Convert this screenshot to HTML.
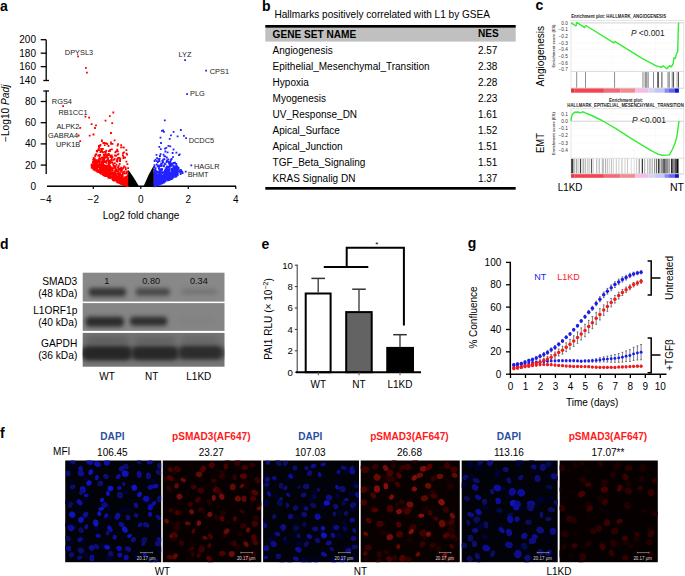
<!DOCTYPE html>
<html><head><meta charset="utf-8"><style>
html,body{margin:0;padding:0;background:#fff;width:685px;height:576px;overflow:hidden}
svg{display:block}
text{font-family:"Liberation Sans",sans-serif}
</style></head><body>
<svg width="685" height="576" viewBox="0 0 685 576">
<text x="0.00" y="10.90" font-size="14" font-weight="bold">a</text>
<text x="262.00" y="10.50" font-size="14" font-weight="bold">b</text>
<text x="535.50" y="10.40" font-size="14" font-weight="bold">c</text>
<text x="0.00" y="249.00" font-size="14" font-weight="bold">d</text>
<text x="261.50" y="248.70" font-size="14" font-weight="bold">e</text>
<text x="467.80" y="247.60" font-size="14" font-weight="bold">g</text>
<text x="0.00" y="437.50" font-size="14" font-weight="bold">f</text>
<line x1="46.20" y1="39.70" x2="46.20" y2="80.50" stroke="#000" stroke-width="1.3"/>
<line x1="46.20" y1="91.00" x2="46.20" y2="174.00" stroke="#000" stroke-width="1.3"/>
<line x1="40.70" y1="39.70" x2="46.20" y2="39.70" stroke="#000" stroke-width="1.3"/>
<line x1="40.70" y1="53.17" x2="46.20" y2="53.17" stroke="#000" stroke-width="1.3"/>
<line x1="40.70" y1="66.63" x2="46.20" y2="66.63" stroke="#000" stroke-width="1.3"/>
<line x1="43.30" y1="80.50" x2="49.00" y2="80.50" stroke="#000" stroke-width="1.3"/>
<line x1="43.30" y1="91.00" x2="49.00" y2="91.00" stroke="#000" stroke-width="1.3"/>
<line x1="40.70" y1="101.50" x2="46.20" y2="101.50" stroke="#000" stroke-width="1.3"/>
<line x1="40.70" y1="122.70" x2="46.20" y2="122.70" stroke="#000" stroke-width="1.3"/>
<line x1="40.70" y1="143.90" x2="46.20" y2="143.90" stroke="#000" stroke-width="1.3"/>
<line x1="40.70" y1="165.10" x2="46.20" y2="165.10" stroke="#000" stroke-width="1.3"/>
<text x="36.00" y="43.28" font-size="10" text-anchor="end">200</text>
<text x="36.00" y="56.75" font-size="10" text-anchor="end">180</text>
<text x="36.00" y="70.21" font-size="10" text-anchor="end">160</text>
<text x="36.00" y="83.68" font-size="10" text-anchor="end">140</text>
<text x="36.00" y="105.08" font-size="10" text-anchor="end">80</text>
<text x="36.00" y="126.28" font-size="10" text-anchor="end">60</text>
<text x="36.00" y="147.48" font-size="10" text-anchor="end">40</text>
<text x="36.00" y="168.68" font-size="10" text-anchor="end">20</text>
<text x="36.00" y="189.88" font-size="10" text-anchor="end">0</text>
<line x1="47.00" y1="186.30" x2="236.00" y2="186.30" stroke="#000" stroke-width="1.5"/>
<line x1="93.30" y1="186.30" x2="93.30" y2="189.00" stroke="#000" stroke-width="1.2"/>
<line x1="140.80" y1="186.30" x2="140.80" y2="189.00" stroke="#000" stroke-width="1.2"/>
<line x1="188.30" y1="186.30" x2="188.30" y2="189.00" stroke="#000" stroke-width="1.2"/>
<line x1="235.80" y1="186.30" x2="235.80" y2="189.00" stroke="#000" stroke-width="1.2"/>
<path d="M48.18 186.3V185.1M50.55 186.3V185.1M52.93 186.3V185.1M55.30 186.3V185.1M57.68 186.3V185.1M60.05 186.3V185.1M62.43 186.3V185.1M64.80 186.3V185.1M67.18 186.3V185.1M69.55 186.3V185.1M71.93 186.3V185.1M74.30 186.3V185.1M76.68 186.3V185.1M79.05 186.3V185.1M81.43 186.3V185.1M83.80 186.3V185.1M86.18 186.3V185.1M88.55 186.3V185.1M90.93 186.3V185.1M93.30 186.3V185.1M95.68 186.3V185.1M98.05 186.3V185.1M100.43 186.3V185.1M102.80 186.3V185.1M105.18 186.3V185.1M107.55 186.3V185.1M109.93 186.3V185.1M112.30 186.3V185.1M114.68 186.3V185.1M117.05 186.3V185.1M119.43 186.3V185.1M121.80 186.3V185.1M124.18 186.3V185.1M126.55 186.3V185.1M128.93 186.3V185.1M131.30 186.3V185.1M133.68 186.3V185.1M136.05 186.3V185.1M138.43 186.3V185.1M140.80 186.3V185.1M143.18 186.3V185.1M145.55 186.3V185.1M147.93 186.3V185.1M150.30 186.3V185.1M152.68 186.3V185.1M155.05 186.3V185.1M157.43 186.3V185.1M159.80 186.3V185.1M162.18 186.3V185.1M164.55 186.3V185.1M166.93 186.3V185.1M169.30 186.3V185.1M171.68 186.3V185.1M174.05 186.3V185.1M176.43 186.3V185.1M178.80 186.3V185.1M181.18 186.3V185.1M183.55 186.3V185.1M185.93 186.3V185.1M188.30 186.3V185.1M190.68 186.3V185.1M193.05 186.3V185.1M195.43 186.3V185.1M197.80 186.3V185.1M200.18 186.3V185.1M202.55 186.3V185.1M204.93 186.3V185.1M207.30 186.3V185.1M209.68 186.3V185.1M212.05 186.3V185.1M214.43 186.3V185.1M216.80 186.3V185.1M219.18 186.3V185.1M221.55 186.3V185.1M223.93 186.3V185.1M226.30 186.3V185.1M228.68 186.3V185.1M231.05 186.3V185.1M233.43 186.3V185.1" stroke="#555" stroke-width="0.45"/>
<text x="45.80" y="203.28" font-size="10" text-anchor="middle">−4</text>
<text x="93.30" y="203.28" font-size="10" text-anchor="middle">−2</text>
<text x="140.80" y="203.28" font-size="10" text-anchor="middle">0</text>
<text x="188.30" y="203.28" font-size="10" text-anchor="middle">2</text>
<text x="235.80" y="203.28" font-size="10" text-anchor="middle">4</text>
<text x="141.00" y="218.88" font-size="10" text-anchor="middle">Log2 fold change</text>
<text transform="translate(8.8,113.3) rotate(-90)" font-size="10" text-anchor="middle" textLength="57.5" lengthAdjust="spacingAndGlyphs">−Log10 <tspan font-style="italic">Padj</tspan></text>
<path d="M108.1 167.5h1.8v1.8h-1.8zM100.9 149.3h1.8v1.8h-1.8zM103.2 154.2h1.8v1.8h-1.8zM127.0 183.0h1.8v1.8h-1.8zM94.3 159.6h1.8v1.8h-1.8zM96.2 169.6h1.8v1.8h-1.8zM114.0 178.4h1.8v1.8h-1.8zM111.2 173.1h1.8v1.8h-1.8zM127.2 184.5h1.8v1.8h-1.8zM120.5 170.8h1.8v1.8h-1.8zM102.1 172.6h1.8v1.8h-1.8zM100.8 172.0h1.8v1.8h-1.8zM108.3 176.3h1.8v1.8h-1.8zM127.3 177.8h1.8v1.8h-1.8zM122.6 182.8h1.8v1.8h-1.8zM120.2 166.7h1.8v1.8h-1.8zM111.4 171.4h1.8v1.8h-1.8zM122.8 171.2h1.8v1.8h-1.8zM105.3 149.8h1.8v1.8h-1.8zM96.5 167.7h1.8v1.8h-1.8zM117.8 180.9h1.8v1.8h-1.8zM124.4 184.3h1.8v1.8h-1.8zM119.8 178.1h1.8v1.8h-1.8zM127.3 181.2h1.8v1.8h-1.8zM118.6 180.3h1.8v1.8h-1.8zM99.9 167.1h1.8v1.8h-1.8zM119.4 179.2h1.8v1.8h-1.8zM104.7 175.0h1.8v1.8h-1.8zM92.8 168.6h1.8v1.8h-1.8zM102.8 159.3h1.8v1.8h-1.8zM127.1 179.6h1.8v1.8h-1.8zM117.7 177.1h1.8v1.8h-1.8zM127.2 185.2h1.8v1.8h-1.8zM123.5 170.5h1.8v1.8h-1.8zM123.0 177.7h1.8v1.8h-1.8zM118.4 179.8h1.8v1.8h-1.8zM111.9 169.4h1.8v1.8h-1.8zM125.3 179.3h1.8v1.8h-1.8zM100.8 156.7h1.8v1.8h-1.8zM126.8 174.2h1.8v1.8h-1.8zM125.7 183.3h1.8v1.8h-1.8zM108.5 159.7h1.8v1.8h-1.8zM118.6 168.6h1.8v1.8h-1.8zM111.1 176.2h1.8v1.8h-1.8zM119.3 181.5h1.8v1.8h-1.8zM126.0 184.4h1.8v1.8h-1.8zM124.0 184.2h1.8v1.8h-1.8zM92.3 160.9h1.8v1.8h-1.8zM116.3 179.6h1.8v1.8h-1.8zM109.2 165.6h1.8v1.8h-1.8zM114.5 177.1h1.8v1.8h-1.8zM126.5 175.6h1.8v1.8h-1.8zM126.9 182.7h1.8v1.8h-1.8zM99.0 171.1h1.8v1.8h-1.8zM103.6 151.0h1.8v1.8h-1.8zM107.8 165.8h1.8v1.8h-1.8zM125.4 182.6h1.8v1.8h-1.8zM124.3 176.6h1.8v1.8h-1.8zM120.0 179.8h1.8v1.8h-1.8zM92.8 162.8h1.8v1.8h-1.8zM113.3 171.6h1.8v1.8h-1.8zM113.6 177.8h1.8v1.8h-1.8zM116.4 180.3h1.8v1.8h-1.8zM117.3 157.1h1.8v1.8h-1.8zM93.5 159.6h1.8v1.8h-1.8zM112.9 177.0h1.8v1.8h-1.8zM125.8 183.7h1.8v1.8h-1.8zM101.4 156.8h1.8v1.8h-1.8zM117.8 173.5h1.8v1.8h-1.8zM101.7 164.0h1.8v1.8h-1.8zM106.4 165.7h1.8v1.8h-1.8zM117.8 175.2h1.8v1.8h-1.8zM120.5 179.7h1.8v1.8h-1.8zM102.0 164.3h1.8v1.8h-1.8zM120.1 168.3h1.8v1.8h-1.8zM107.0 170.2h1.8v1.8h-1.8zM127.2 182.4h1.8v1.8h-1.8zM121.4 178.1h1.8v1.8h-1.8zM114.2 170.0h1.8v1.8h-1.8zM107.1 164.9h1.8v1.8h-1.8zM118.3 176.6h1.8v1.8h-1.8zM103.3 160.6h1.8v1.8h-1.8zM118.2 172.2h1.8v1.8h-1.8zM97.6 161.0h1.8v1.8h-1.8zM112.2 174.4h1.8v1.8h-1.8zM123.9 176.5h1.8v1.8h-1.8zM94.6 163.6h1.8v1.8h-1.8zM105.3 166.0h1.8v1.8h-1.8zM103.6 173.3h1.8v1.8h-1.8zM101.5 166.5h1.8v1.8h-1.8zM106.3 172.2h1.8v1.8h-1.8zM108.0 166.5h1.8v1.8h-1.8zM107.5 167.6h1.8v1.8h-1.8zM127.0 184.7h1.8v1.8h-1.8zM115.0 174.4h1.8v1.8h-1.8zM122.4 178.5h1.8v1.8h-1.8zM107.7 176.7h1.8v1.8h-1.8zM113.9 178.5h1.8v1.8h-1.8zM126.5 184.7h1.8v1.8h-1.8zM119.3 181.5h1.8v1.8h-1.8zM123.1 183.9h1.8v1.8h-1.8zM114.1 177.3h1.8v1.8h-1.8zM108.5 171.1h1.8v1.8h-1.8zM121.8 172.6h1.8v1.8h-1.8zM127.3 183.5h1.8v1.8h-1.8zM120.6 180.5h1.8v1.8h-1.8zM125.2 177.5h1.8v1.8h-1.8zM117.4 181.5h1.8v1.8h-1.8zM108.4 176.6h1.8v1.8h-1.8zM111.1 176.0h1.8v1.8h-1.8zM109.7 156.2h1.8v1.8h-1.8zM99.9 168.1h1.8v1.8h-1.8zM100.1 164.1h1.8v1.8h-1.8zM117.5 180.9h1.8v1.8h-1.8zM109.1 171.9h1.8v1.8h-1.8zM108.6 174.4h1.8v1.8h-1.8zM96.5 170.9h1.8v1.8h-1.8zM125.3 181.5h1.8v1.8h-1.8zM108.4 176.2h1.8v1.8h-1.8zM107.8 161.1h1.8v1.8h-1.8zM117.3 178.5h1.8v1.8h-1.8zM122.1 182.1h1.8v1.8h-1.8zM93.0 164.2h1.8v1.8h-1.8zM109.1 175.6h1.8v1.8h-1.8zM92.6 161.9h1.8v1.8h-1.8zM115.9 178.8h1.8v1.8h-1.8zM92.4 161.9h1.8v1.8h-1.8zM120.3 179.7h1.8v1.8h-1.8zM125.0 180.7h1.8v1.8h-1.8zM114.9 178.5h1.8v1.8h-1.8zM101.4 159.1h1.8v1.8h-1.8zM127.2 182.5h1.8v1.8h-1.8zM120.7 169.7h1.8v1.8h-1.8zM101.4 171.3h1.8v1.8h-1.8zM120.9 182.4h1.8v1.8h-1.8zM92.2 165.0h1.8v1.8h-1.8zM108.7 172.9h1.8v1.8h-1.8zM107.2 169.9h1.8v1.8h-1.8zM103.1 173.5h1.8v1.8h-1.8zM102.4 171.2h1.8v1.8h-1.8zM111.6 176.3h1.8v1.8h-1.8zM120.0 179.0h1.8v1.8h-1.8zM114.2 177.5h1.8v1.8h-1.8zM103.0 167.3h1.8v1.8h-1.8zM126.8 184.2h1.8v1.8h-1.8zM114.5 165.4h1.8v1.8h-1.8zM96.8 163.9h1.8v1.8h-1.8zM127.2 179.7h1.8v1.8h-1.8zM115.5 175.8h1.8v1.8h-1.8zM104.6 167.6h1.8v1.8h-1.8zM113.5 164.9h1.8v1.8h-1.8zM117.0 178.7h1.8v1.8h-1.8zM98.4 170.0h1.8v1.8h-1.8zM120.0 173.9h1.8v1.8h-1.8zM126.3 178.1h1.8v1.8h-1.8zM105.1 171.3h1.8v1.8h-1.8zM120.3 175.4h1.8v1.8h-1.8zM95.8 169.1h1.8v1.8h-1.8zM113.7 175.0h1.8v1.8h-1.8zM112.9 177.1h1.8v1.8h-1.8zM124.2 180.7h1.8v1.8h-1.8zM100.1 172.3h1.8v1.8h-1.8zM122.0 175.7h1.8v1.8h-1.8zM101.0 164.3h1.8v1.8h-1.8zM127.0 180.5h1.8v1.8h-1.8zM104.9 175.1h1.8v1.8h-1.8zM98.8 170.0h1.8v1.8h-1.8zM107.1 154.4h1.8v1.8h-1.8zM104.4 174.1h1.8v1.8h-1.8zM120.1 170.4h1.8v1.8h-1.8zM124.3 180.5h1.8v1.8h-1.8zM116.0 180.0h1.8v1.8h-1.8zM108.1 176.9h1.8v1.8h-1.8zM125.3 182.9h1.8v1.8h-1.8zM126.1 184.9h1.8v1.8h-1.8zM110.0 168.9h1.8v1.8h-1.8zM97.2 170.0h1.8v1.8h-1.8zM115.4 178.5h1.8v1.8h-1.8zM109.0 172.9h1.8v1.8h-1.8zM94.5 165.3h1.8v1.8h-1.8zM126.5 180.6h1.8v1.8h-1.8zM124.3 180.2h1.8v1.8h-1.8zM112.6 164.2h1.8v1.8h-1.8zM110.7 172.1h1.8v1.8h-1.8zM121.0 179.4h1.8v1.8h-1.8zM121.3 176.7h1.8v1.8h-1.8zM112.2 178.3h1.8v1.8h-1.8zM121.9 181.4h1.8v1.8h-1.8zM103.4 173.1h1.8v1.8h-1.8zM104.4 166.9h1.8v1.8h-1.8zM125.9 180.7h1.8v1.8h-1.8zM125.7 184.5h1.8v1.8h-1.8zM109.2 175.9h1.8v1.8h-1.8zM97.3 165.4h1.8v1.8h-1.8zM119.1 174.2h1.8v1.8h-1.8zM126.9 180.5h1.8v1.8h-1.8zM126.5 184.6h1.8v1.8h-1.8zM93.9 158.4h1.8v1.8h-1.8zM122.2 183.2h1.8v1.8h-1.8zM92.9 158.1h1.8v1.8h-1.8zM99.8 171.4h1.8v1.8h-1.8zM108.0 174.0h1.8v1.8h-1.8zM121.9 181.7h1.8v1.8h-1.8zM108.4 174.3h1.8v1.8h-1.8zM117.0 180.7h1.8v1.8h-1.8zM99.3 163.4h1.8v1.8h-1.8zM100.5 168.3h1.8v1.8h-1.8zM98.4 165.5h1.8v1.8h-1.8zM109.3 171.9h1.8v1.8h-1.8zM103.2 170.6h1.8v1.8h-1.8zM125.6 184.8h1.8v1.8h-1.8zM122.8 183.8h1.8v1.8h-1.8zM96.7 165.0h1.8v1.8h-1.8zM102.4 174.2h1.8v1.8h-1.8zM114.0 166.6h1.8v1.8h-1.8zM108.2 173.2h1.8v1.8h-1.8zM114.1 179.5h1.8v1.8h-1.8zM124.2 183.7h1.8v1.8h-1.8zM117.4 179.0h1.8v1.8h-1.8zM97.1 169.8h1.8v1.8h-1.8zM121.3 181.8h1.8v1.8h-1.8zM124.0 182.9h1.8v1.8h-1.8zM121.9 180.5h1.8v1.8h-1.8zM126.9 175.5h1.8v1.8h-1.8zM117.6 166.6h1.8v1.8h-1.8zM105.4 167.2h1.8v1.8h-1.8zM113.9 162.3h1.8v1.8h-1.8zM125.1 180.3h1.8v1.8h-1.8zM120.2 177.3h1.8v1.8h-1.8zM103.7 173.4h1.8v1.8h-1.8zM122.9 183.9h1.8v1.8h-1.8zM122.0 183.3h1.8v1.8h-1.8zM116.4 160.7h1.8v1.8h-1.8zM117.7 179.8h1.8v1.8h-1.8zM114.0 178.1h1.8v1.8h-1.8zM103.6 164.7h1.8v1.8h-1.8zM123.9 183.2h1.8v1.8h-1.8zM106.1 154.9h1.8v1.8h-1.8zM107.1 172.6h1.8v1.8h-1.8zM92.8 168.8h1.8v1.8h-1.8zM126.4 179.3h1.8v1.8h-1.8zM116.1 180.8h1.8v1.8h-1.8zM111.0 148.4h1.8v1.8h-1.8zM112.1 176.4h1.8v1.8h-1.8zM125.7 184.7h1.8v1.8h-1.8zM96.3 164.6h1.8v1.8h-1.8zM94.6 169.3h1.8v1.8h-1.8zM121.6 183.3h1.8v1.8h-1.8zM116.6 181.0h1.8v1.8h-1.8zM121.3 180.8h1.8v1.8h-1.8zM119.7 182.4h1.8v1.8h-1.8zM126.8 171.8h1.8v1.8h-1.8zM123.5 181.1h1.8v1.8h-1.8zM116.4 176.9h1.8v1.8h-1.8zM125.9 183.5h1.8v1.8h-1.8zM125.3 181.7h1.8v1.8h-1.8zM95.3 161.6h1.8v1.8h-1.8zM98.2 169.7h1.8v1.8h-1.8zM127.1 182.5h1.8v1.8h-1.8zM113.3 174.5h1.8v1.8h-1.8zM117.3 176.2h1.8v1.8h-1.8zM103.8 155.6h1.8v1.8h-1.8zM119.6 179.6h1.8v1.8h-1.8zM99.5 170.4h1.8v1.8h-1.8zM125.2 183.3h1.8v1.8h-1.8zM125.8 179.1h1.8v1.8h-1.8zM99.8 169.5h1.8v1.8h-1.8zM124.8 184.3h1.8v1.8h-1.8zM121.6 183.1h1.8v1.8h-1.8zM115.5 175.8h1.8v1.8h-1.8zM121.6 183.2h1.8v1.8h-1.8zM104.9 175.1h1.8v1.8h-1.8zM122.9 182.5h1.8v1.8h-1.8zM117.4 181.1h1.8v1.8h-1.8zM115.8 178.8h1.8v1.8h-1.8zM102.7 167.8h1.8v1.8h-1.8zM96.4 161.1h1.8v1.8h-1.8zM102.4 167.2h1.8v1.8h-1.8zM115.0 170.5h1.8v1.8h-1.8zM106.7 153.6h1.8v1.8h-1.8zM103.7 165.3h1.8v1.8h-1.8zM120.9 175.1h1.8v1.8h-1.8zM117.1 180.8h1.8v1.8h-1.8zM126.3 184.4h1.8v1.8h-1.8zM121.0 177.8h1.8v1.8h-1.8zM120.3 182.6h1.8v1.8h-1.8zM102.2 167.4h1.8v1.8h-1.8zM127.0 185.1h1.8v1.8h-1.8zM124.8 182.8h1.8v1.8h-1.8zM98.0 145.1h1.8v1.8h-1.8zM108.5 175.5h1.8v1.8h-1.8zM115.5 178.2h1.8v1.8h-1.8zM118.9 182.3h1.8v1.8h-1.8zM109.6 165.9h1.8v1.8h-1.8zM103.8 174.1h1.8v1.8h-1.8zM111.7 177.8h1.8v1.8h-1.8zM104.5 170.7h1.8v1.8h-1.8zM94.5 154.6h1.8v1.8h-1.8zM125.1 183.2h1.8v1.8h-1.8zM95.6 164.6h1.8v1.8h-1.8zM115.3 177.3h1.8v1.8h-1.8zM102.1 151.4h1.8v1.8h-1.8zM111.6 156.2h1.8v1.8h-1.8zM109.1 176.9h1.8v1.8h-1.8zM100.0 168.2h1.8v1.8h-1.8zM126.5 170.5h1.8v1.8h-1.8zM126.9 182.1h1.8v1.8h-1.8zM113.5 166.7h1.8v1.8h-1.8zM116.7 180.0h1.8v1.8h-1.8zM120.6 182.0h1.8v1.8h-1.8zM110.5 175.4h1.8v1.8h-1.8zM102.8 172.1h1.8v1.8h-1.8zM118.2 180.5h1.8v1.8h-1.8zM98.5 163.5h1.8v1.8h-1.8zM116.5 180.4h1.8v1.8h-1.8zM99.3 166.6h1.8v1.8h-1.8zM126.8 184.6h1.8v1.8h-1.8zM125.6 179.8h1.8v1.8h-1.8zM96.2 168.7h1.8v1.8h-1.8zM100.8 170.0h1.8v1.8h-1.8zM105.6 160.8h1.8v1.8h-1.8zM108.1 165.6h1.8v1.8h-1.8zM117.3 181.6h1.8v1.8h-1.8zM112.4 173.7h1.8v1.8h-1.8zM123.3 182.0h1.8v1.8h-1.8zM119.3 182.4h1.8v1.8h-1.8zM119.5 180.1h1.8v1.8h-1.8zM113.7 172.5h1.8v1.8h-1.8zM116.5 158.5h1.8v1.8h-1.8zM100.0 150.7h1.8v1.8h-1.8zM105.2 167.2h1.8v1.8h-1.8zM111.4 168.4h1.8v1.8h-1.8zM117.8 177.0h1.8v1.8h-1.8zM105.8 170.4h1.8v1.8h-1.8zM120.4 182.6h1.8v1.8h-1.8zM125.8 183.3h1.8v1.8h-1.8zM109.7 168.3h1.8v1.8h-1.8zM104.3 172.3h1.8v1.8h-1.8zM94.9 167.0h1.8v1.8h-1.8zM104.2 174.6h1.8v1.8h-1.8zM102.7 165.3h1.8v1.8h-1.8zM105.4 161.9h1.8v1.8h-1.8zM103.3 167.1h1.8v1.8h-1.8zM122.7 180.6h1.8v1.8h-1.8zM96.4 168.3h1.8v1.8h-1.8zM92.9 161.1h1.8v1.8h-1.8zM116.7 181.4h1.8v1.8h-1.8zM116.8 180.3h1.8v1.8h-1.8zM106.8 159.6h1.8v1.8h-1.8zM95.8 161.6h1.8v1.8h-1.8zM117.0 180.8h1.8v1.8h-1.8zM105.4 169.6h1.8v1.8h-1.8zM104.3 171.5h1.8v1.8h-1.8zM96.8 168.9h1.8v1.8h-1.8zM119.7 181.1h1.8v1.8h-1.8zM108.1 160.9h1.8v1.8h-1.8zM123.8 180.0h1.8v1.8h-1.8zM102.1 171.9h1.8v1.8h-1.8zM126.3 181.9h1.8v1.8h-1.8zM99.3 154.1h1.8v1.8h-1.8zM103.7 170.6h1.8v1.8h-1.8zM115.6 176.5h1.8v1.8h-1.8zM96.0 167.3h1.8v1.8h-1.8zM120.5 178.4h1.8v1.8h-1.8zM93.2 167.0h1.8v1.8h-1.8zM126.9 184.9h1.8v1.8h-1.8zM110.4 172.2h1.8v1.8h-1.8zM123.4 183.2h1.8v1.8h-1.8zM109.2 170.5h1.8v1.8h-1.8zM105.3 165.8h1.8v1.8h-1.8zM126.4 182.6h1.8v1.8h-1.8zM99.1 144.9h1.8v1.8h-1.8zM119.3 172.7h1.8v1.8h-1.8zM107.2 157.6h1.8v1.8h-1.8zM122.1 178.1h1.8v1.8h-1.8zM98.9 166.6h1.8v1.8h-1.8zM125.5 184.1h1.8v1.8h-1.8zM124.1 184.0h1.8v1.8h-1.8zM124.2 180.4h1.8v1.8h-1.8zM125.4 179.1h1.8v1.8h-1.8zM103.4 161.2h1.8v1.8h-1.8zM100.5 162.5h1.8v1.8h-1.8zM108.0 153.1h1.8v1.8h-1.8zM125.4 184.5h1.8v1.8h-1.8zM126.3 184.3h1.8v1.8h-1.8zM117.4 178.3h1.8v1.8h-1.8zM105.7 165.7h1.8v1.8h-1.8zM125.9 183.0h1.8v1.8h-1.8zM111.2 175.6h1.8v1.8h-1.8zM125.1 181.1h1.8v1.8h-1.8zM117.4 175.4h1.8v1.8h-1.8zM113.0 159.0h1.8v1.8h-1.8zM94.2 168.9h1.8v1.8h-1.8zM102.4 163.7h1.8v1.8h-1.8zM120.0 182.2h1.8v1.8h-1.8zM113.6 177.2h1.8v1.8h-1.8zM103.3 154.7h1.8v1.8h-1.8zM117.1 179.7h1.8v1.8h-1.8zM112.9 172.1h1.8v1.8h-1.8zM101.1 166.3h1.8v1.8h-1.8zM120.0 180.8h1.8v1.8h-1.8zM98.6 165.6h1.8v1.8h-1.8zM126.6 183.1h1.8v1.8h-1.8zM121.8 178.4h1.8v1.8h-1.8zM126.1 183.9h1.8v1.8h-1.8zM125.6 182.3h1.8v1.8h-1.8zM92.4 160.8h1.8v1.8h-1.8zM117.0 166.4h1.8v1.8h-1.8zM125.7 183.2h1.8v1.8h-1.8zM100.2 172.9h1.8v1.8h-1.8zM102.1 170.3h1.8v1.8h-1.8zM127.1 184.3h1.8v1.8h-1.8zM114.4 177.4h1.8v1.8h-1.8zM112.2 178.9h1.8v1.8h-1.8zM122.4 167.0h1.8v1.8h-1.8zM115.0 176.8h1.8v1.8h-1.8zM125.9 183.7h1.8v1.8h-1.8zM93.8 158.1h1.8v1.8h-1.8zM112.5 179.1h1.8v1.8h-1.8zM116.7 173.0h1.8v1.8h-1.8zM115.3 175.4h1.8v1.8h-1.8zM96.1 161.1h1.8v1.8h-1.8zM107.5 176.6h1.8v1.8h-1.8zM127.0 179.8h1.8v1.8h-1.8zM116.0 169.2h1.8v1.8h-1.8zM99.5 151.2h1.8v1.8h-1.8zM117.2 143.3h1.8v1.8h-1.8zM102.5 156.2h1.8v1.8h-1.8zM124.3 178.1h1.8v1.8h-1.8zM115.7 160.2h1.8v1.8h-1.8zM92.0 165.9h1.8v1.8h-1.8zM115.7 179.1h1.8v1.8h-1.8zM114.0 178.0h1.8v1.8h-1.8zM106.3 175.3h1.8v1.8h-1.8zM123.8 181.7h1.8v1.8h-1.8zM126.1 183.2h1.8v1.8h-1.8zM96.4 150.8h1.8v1.8h-1.8zM123.0 184.0h1.8v1.8h-1.8zM99.4 144.4h1.8v1.8h-1.8zM109.0 176.6h1.8v1.8h-1.8zM121.8 171.7h1.8v1.8h-1.8zM94.6 169.5h1.8v1.8h-1.8zM123.3 181.7h1.8v1.8h-1.8zM120.9 176.4h1.8v1.8h-1.8zM117.4 173.5h1.8v1.8h-1.8zM124.2 181.4h1.8v1.8h-1.8zM92.8 156.9h1.8v1.8h-1.8zM125.8 184.5h1.8v1.8h-1.8zM107.2 173.3h1.8v1.8h-1.8zM117.6 178.2h1.8v1.8h-1.8zM109.7 154.8h1.8v1.8h-1.8zM121.7 179.6h1.8v1.8h-1.8zM121.0 179.4h1.8v1.8h-1.8zM103.6 173.7h1.8v1.8h-1.8zM113.5 172.3h1.8v1.8h-1.8zM127.2 179.9h1.8v1.8h-1.8zM115.8 176.9h1.8v1.8h-1.8zM108.6 166.3h1.8v1.8h-1.8zM126.5 182.5h1.8v1.8h-1.8zM126.8 183.4h1.8v1.8h-1.8zM118.4 182.0h1.8v1.8h-1.8zM119.9 179.8h1.8v1.8h-1.8zM106.8 157.4h1.8v1.8h-1.8zM117.5 177.6h1.8v1.8h-1.8zM104.4 153.6h1.8v1.8h-1.8zM119.8 181.8h1.8v1.8h-1.8zM94.8 169.2h1.8v1.8h-1.8zM114.7 172.5h1.8v1.8h-1.8zM111.8 175.8h1.8v1.8h-1.8zM95.1 166.8h1.8v1.8h-1.8zM110.9 166.8h1.8v1.8h-1.8zM124.6 182.8h1.8v1.8h-1.8zM113.1 174.4h1.8v1.8h-1.8zM122.7 181.2h1.8v1.8h-1.8zM126.4 184.8h1.8v1.8h-1.8zM118.5 181.3h1.8v1.8h-1.8zM93.2 166.0h1.8v1.8h-1.8zM120.6 175.6h1.8v1.8h-1.8zM103.2 172.2h1.8v1.8h-1.8zM99.4 164.0h1.8v1.8h-1.8zM116.9 175.9h1.8v1.8h-1.8zM121.6 182.0h1.8v1.8h-1.8zM97.3 166.1h1.8v1.8h-1.8zM96.4 169.0h1.8v1.8h-1.8zM124.6 184.4h1.8v1.8h-1.8zM103.2 168.0h1.8v1.8h-1.8zM127.2 185.2h1.8v1.8h-1.8zM99.6 166.7h1.8v1.8h-1.8zM97.5 171.1h1.8v1.8h-1.8zM109.4 177.0h1.8v1.8h-1.8zM104.0 167.6h1.8v1.8h-1.8zM108.5 175.6h1.8v1.8h-1.8zM94.0 168.4h1.8v1.8h-1.8zM126.3 180.7h1.8v1.8h-1.8zM125.7 184.7h1.8v1.8h-1.8zM114.3 173.9h1.8v1.8h-1.8zM96.6 159.2h1.8v1.8h-1.8zM126.2 181.1h1.8v1.8h-1.8zM98.8 171.0h1.8v1.8h-1.8zM102.6 171.9h1.8v1.8h-1.8zM119.9 182.8h1.8v1.8h-1.8zM102.5 168.3h1.8v1.8h-1.8zM96.2 164.9h1.8v1.8h-1.8zM124.1 183.4h1.8v1.8h-1.8zM121.0 169.1h1.8v1.8h-1.8zM122.8 183.5h1.8v1.8h-1.8zM118.1 181.6h1.8v1.8h-1.8zM115.6 175.2h1.8v1.8h-1.8zM106.9 175.2h1.8v1.8h-1.8zM124.6 181.8h1.8v1.8h-1.8zM105.4 171.3h1.8v1.8h-1.8zM110.0 161.6h1.8v1.8h-1.8zM124.4 183.2h1.8v1.8h-1.8zM113.1 174.9h1.8v1.8h-1.8zM96.2 163.3h1.8v1.8h-1.8zM106.5 172.3h1.8v1.8h-1.8zM101.3 158.5h1.8v1.8h-1.8zM120.1 182.3h1.8v1.8h-1.8zM121.2 181.2h1.8v1.8h-1.8zM96.7 168.2h1.8v1.8h-1.8zM107.8 169.7h1.8v1.8h-1.8zM93.7 168.1h1.8v1.8h-1.8zM102.0 170.6h1.8v1.8h-1.8zM125.5 180.9h1.8v1.8h-1.8zM98.7 164.5h1.8v1.8h-1.8zM126.6 171.5h1.8v1.8h-1.8zM117.0 175.9h1.8v1.8h-1.8zM103.9 172.6h1.8v1.8h-1.8zM116.2 178.9h1.8v1.8h-1.8zM125.6 184.7h1.8v1.8h-1.8zM104.2 171.0h1.8v1.8h-1.8zM97.6 170.9h1.8v1.8h-1.8zM119.8 181.7h1.8v1.8h-1.8zM94.3 154.6h1.8v1.8h-1.8zM96.4 164.3h1.8v1.8h-1.8zM125.4 182.7h1.8v1.8h-1.8zM122.2 183.6h1.8v1.8h-1.8zM110.4 176.0h1.8v1.8h-1.8zM125.3 182.0h1.8v1.8h-1.8zM114.1 179.5h1.8v1.8h-1.8zM102.0 173.0h1.8v1.8h-1.8zM111.4 178.3h1.8v1.8h-1.8zM92.3 160.7h1.8v1.8h-1.8zM115.2 178.8h1.8v1.8h-1.8zM110.9 154.6h1.8v1.8h-1.8zM115.5 179.4h1.8v1.8h-1.8zM112.3 163.3h1.8v1.8h-1.8zM117.1 176.0h1.8v1.8h-1.8zM95.4 166.6h1.8v1.8h-1.8zM100.2 166.5h1.8v1.8h-1.8zM124.6 184.4h1.8v1.8h-1.8zM94.5 163.8h1.8v1.8h-1.8zM114.9 165.8h1.8v1.8h-1.8zM110.0 173.4h1.8v1.8h-1.8zM120.4 176.2h1.8v1.8h-1.8zM121.2 180.3h1.8v1.8h-1.8zM102.4 166.6h1.8v1.8h-1.8zM124.7 183.7h1.8v1.8h-1.8zM105.1 165.6h1.8v1.8h-1.8zM125.5 160.7h1.8v1.8h-1.8zM124.7 183.9h1.8v1.8h-1.8zM125.8 182.6h1.8v1.8h-1.8zM108.2 163.4h1.8v1.8h-1.8zM123.9 179.2h1.8v1.8h-1.8zM125.4 181.4h1.8v1.8h-1.8zM121.4 181.3h1.8v1.8h-1.8zM126.5 180.3h1.8v1.8h-1.8zM125.0 178.8h1.8v1.8h-1.8zM118.7 177.5h1.8v1.8h-1.8zM107.4 172.0h1.8v1.8h-1.8zM97.4 148.6h1.8v1.8h-1.8zM120.4 181.0h1.8v1.8h-1.8zM97.3 170.1h1.8v1.8h-1.8zM115.8 177.9h1.8v1.8h-1.8zM92.8 167.4h1.8v1.8h-1.8zM106.8 166.0h1.8v1.8h-1.8zM103.7 174.9h1.8v1.8h-1.8zM94.3 166.0h1.8v1.8h-1.8zM98.3 162.3h1.8v1.8h-1.8zM115.7 170.4h1.8v1.8h-1.8zM105.9 172.9h1.8v1.8h-1.8zM103.6 169.2h1.8v1.8h-1.8zM104.4 167.8h1.8v1.8h-1.8zM100.8 171.9h1.8v1.8h-1.8zM113.0 179.6h1.8v1.8h-1.8zM101.1 161.0h1.8v1.8h-1.8zM99.0 171.9h1.8v1.8h-1.8zM111.5 174.6h1.8v1.8h-1.8zM125.1 183.8h1.8v1.8h-1.8zM121.8 175.3h1.8v1.8h-1.8zM106.9 173.0h1.8v1.8h-1.8zM107.2 174.8h1.8v1.8h-1.8zM120.7 183.1h1.8v1.8h-1.8zM106.7 170.0h1.8v1.8h-1.8zM103.1 168.9h1.8v1.8h-1.8zM115.2 178.6h1.8v1.8h-1.8zM103.4 171.0h1.8v1.8h-1.8zM109.1 167.8h1.8v1.8h-1.8zM114.9 173.7h1.8v1.8h-1.8zM126.4 184.0h1.8v1.8h-1.8zM98.9 170.8h1.8v1.8h-1.8zM126.5 185.1h1.8v1.8h-1.8zM102.1 173.1h1.8v1.8h-1.8zM114.4 176.8h1.8v1.8h-1.8zM100.5 167.7h1.8v1.8h-1.8zM112.0 179.0h1.8v1.8h-1.8zM100.9 161.0h1.8v1.8h-1.8zM108.0 164.3h1.8v1.8h-1.8zM108.4 168.4h1.8v1.8h-1.8zM98.4 163.5h1.8v1.8h-1.8zM127.1 177.3h1.8v1.8h-1.8zM92.2 166.2h1.8v1.8h-1.8zM126.3 183.5h1.8v1.8h-1.8zM125.5 183.1h1.8v1.8h-1.8zM125.8 184.0h1.8v1.8h-1.8zM127.3 183.3h1.8v1.8h-1.8zM119.9 176.2h1.8v1.8h-1.8zM116.9 180.4h1.8v1.8h-1.8zM105.4 173.9h1.8v1.8h-1.8zM116.4 177.8h1.8v1.8h-1.8zM116.2 181.0h1.8v1.8h-1.8zM114.5 171.6h1.8v1.8h-1.8zM105.2 160.6h1.8v1.8h-1.8zM105.6 165.0h1.8v1.8h-1.8zM97.6 149.0h1.8v1.8h-1.8zM101.0 168.9h1.8v1.8h-1.8zM106.6 168.4h1.8v1.8h-1.8zM97.0 159.8h1.8v1.8h-1.8zM114.9 179.3h1.8v1.8h-1.8zM119.0 180.9h1.8v1.8h-1.8zM105.7 164.8h1.8v1.8h-1.8zM123.1 180.7h1.8v1.8h-1.8zM98.9 168.3h1.8v1.8h-1.8zM125.6 181.2h1.8v1.8h-1.8zM117.8 181.0h1.8v1.8h-1.8zM120.2 182.9h1.8v1.8h-1.8zM124.3 182.2h1.8v1.8h-1.8zM125.4 184.9h1.8v1.8h-1.8zM110.9 157.6h1.8v1.8h-1.8zM99.2 169.0h1.8v1.8h-1.8zM95.1 169.4h1.8v1.8h-1.8zM124.3 184.5h1.8v1.8h-1.8zM126.4 181.6h1.8v1.8h-1.8zM102.5 168.9h1.8v1.8h-1.8zM100.5 168.0h1.8v1.8h-1.8zM95.4 161.5h1.8v1.8h-1.8zM111.4 177.6h1.8v1.8h-1.8zM115.5 177.5h1.8v1.8h-1.8zM99.7 170.4h1.8v1.8h-1.8zM120.0 174.3h1.8v1.8h-1.8zM126.2 182.1h1.8v1.8h-1.8zM122.3 178.8h1.8v1.8h-1.8zM109.2 177.1h1.8v1.8h-1.8zM103.6 170.7h1.8v1.8h-1.8zM119.2 172.5h1.8v1.8h-1.8zM101.6 170.7h1.8v1.8h-1.8zM105.8 175.0h1.8v1.8h-1.8zM112.1 178.7h1.8v1.8h-1.8zM107.3 158.8h1.8v1.8h-1.8zM107.5 176.6h1.8v1.8h-1.8zM112.3 175.3h1.8v1.8h-1.8zM114.9 179.6h1.8v1.8h-1.8zM120.6 180.1h1.8v1.8h-1.8zM126.2 180.7h1.8v1.8h-1.8zM121.6 181.9h1.8v1.8h-1.8zM125.7 183.6h1.8v1.8h-1.8zM94.8 166.7h1.8v1.8h-1.8zM125.6 183.3h1.8v1.8h-1.8zM94.2 168.7h1.8v1.8h-1.8zM118.5 180.9h1.8v1.8h-1.8zM105.7 171.2h1.8v1.8h-1.8zM125.6 177.0h1.8v1.8h-1.8zM118.9 176.3h1.8v1.8h-1.8zM114.6 168.1h1.8v1.8h-1.8zM126.4 184.2h1.8v1.8h-1.8zM120.3 181.4h1.8v1.8h-1.8zM99.7 166.7h1.8v1.8h-1.8zM118.3 178.3h1.8v1.8h-1.8zM98.7 164.7h1.8v1.8h-1.8zM114.6 174.0h1.8v1.8h-1.8zM108.4 173.6h1.8v1.8h-1.8zM115.6 180.0h1.8v1.8h-1.8zM115.1 168.2h1.8v1.8h-1.8zM119.7 180.4h1.8v1.8h-1.8zM108.8 171.3h1.8v1.8h-1.8zM123.6 181.7h1.8v1.8h-1.8zM103.5 174.4h1.8v1.8h-1.8zM125.3 179.1h1.8v1.8h-1.8zM96.0 170.0h1.8v1.8h-1.8zM125.9 181.2h1.8v1.8h-1.8zM120.4 177.7h1.8v1.8h-1.8zM126.9 183.0h1.8v1.8h-1.8zM124.0 182.7h1.8v1.8h-1.8zM105.2 170.2h1.8v1.8h-1.8zM98.3 155.6h1.8v1.8h-1.8zM108.2 163.8h1.8v1.8h-1.8zM123.6 181.4h1.8v1.8h-1.8zM119.2 177.4h1.8v1.8h-1.8zM125.3 176.0h1.8v1.8h-1.8zM117.5 173.4h1.8v1.8h-1.8zM116.8 170.6h1.8v1.8h-1.8zM91.8 166.8h1.8v1.8h-1.8zM102.9 164.0h1.8v1.8h-1.8zM114.4 178.3h1.8v1.8h-1.8zM123.7 182.0h1.8v1.8h-1.8zM94.8 165.1h1.8v1.8h-1.8zM121.3 178.7h1.8v1.8h-1.8zM115.2 175.1h1.8v1.8h-1.8zM114.5 178.3h1.8v1.8h-1.8zM126.8 178.8h1.8v1.8h-1.8zM106.6 174.3h1.8v1.8h-1.8zM112.9 174.1h1.8v1.8h-1.8zM112.7 164.9h1.8v1.8h-1.8zM101.6 170.7h1.8v1.8h-1.8zM118.6 177.2h1.8v1.8h-1.8zM124.0 172.7h1.8v1.8h-1.8zM126.7 182.6h1.8v1.8h-1.8zM120.7 179.5h1.8v1.8h-1.8zM126.7 184.3h1.8v1.8h-1.8zM122.3 181.0h1.8v1.8h-1.8zM126.9 184.8h1.8v1.8h-1.8zM123.1 165.6h1.8v1.8h-1.8zM119.5 181.1h1.8v1.8h-1.8zM126.3 184.7h1.8v1.8h-1.8zM95.3 153.2h1.8v1.8h-1.8zM101.4 171.2h1.8v1.8h-1.8zM123.8 183.0h1.8v1.8h-1.8zM126.3 184.4h1.8v1.8h-1.8zM104.1 169.8h1.8v1.8h-1.8zM127.2 184.0h1.8v1.8h-1.8zM98.5 155.2h1.8v1.8h-1.8zM103.7 164.4h1.8v1.8h-1.8zM95.7 162.9h1.8v1.8h-1.8zM117.1 176.8h1.8v1.8h-1.8zM120.4 182.8h1.8v1.8h-1.8zM121.1 180.3h1.8v1.8h-1.8zM125.0 184.4h1.8v1.8h-1.8zM121.5 181.3h1.8v1.8h-1.8zM93.7 162.8h1.8v1.8h-1.8zM99.0 160.4h1.8v1.8h-1.8zM109.3 175.1h1.8v1.8h-1.8zM116.7 179.3h1.8v1.8h-1.8zM107.6 163.0h1.8v1.8h-1.8zM101.1 170.5h1.8v1.8h-1.8zM124.3 184.5h1.8v1.8h-1.8zM109.6 176.2h1.8v1.8h-1.8zM127.3 184.1h1.8v1.8h-1.8zM122.1 182.6h1.8v1.8h-1.8zM106.4 169.8h1.8v1.8h-1.8zM120.4 176.5h1.8v1.8h-1.8zM122.7 172.4h1.8v1.8h-1.8zM125.1 181.1h1.8v1.8h-1.8zM104.7 165.2h1.8v1.8h-1.8zM113.3 167.0h1.8v1.8h-1.8zM107.8 168.6h1.8v1.8h-1.8zM126.0 184.3h1.8v1.8h-1.8zM114.1 175.4h1.8v1.8h-1.8zM125.6 179.5h1.8v1.8h-1.8zM118.3 178.7h1.8v1.8h-1.8zM112.0 167.4h1.8v1.8h-1.8zM119.8 178.6h1.8v1.8h-1.8zM108.8 170.0h1.8v1.8h-1.8zM119.5 180.9h1.8v1.8h-1.8zM113.9 174.5h1.8v1.8h-1.8zM107.2 175.7h1.8v1.8h-1.8zM114.8 175.6h1.8v1.8h-1.8zM123.1 183.6h1.8v1.8h-1.8zM94.9 169.8h1.8v1.8h-1.8zM112.9 177.4h1.8v1.8h-1.8zM126.9 184.1h1.8v1.8h-1.8zM124.0 182.2h1.8v1.8h-1.8zM95.8 169.7h1.8v1.8h-1.8zM118.2 175.7h1.8v1.8h-1.8zM108.0 177.0h1.8v1.8h-1.8zM122.1 182.1h1.8v1.8h-1.8zM96.5 165.5h1.8v1.8h-1.8zM121.2 180.2h1.8v1.8h-1.8zM113.4 178.8h1.8v1.8h-1.8zM106.3 166.7h1.8v1.8h-1.8zM113.7 175.2h1.8v1.8h-1.8zM101.9 148.1h1.8v1.8h-1.8zM108.5 177.0h1.8v1.8h-1.8zM108.7 154.5h1.8v1.8h-1.8zM115.1 155.0h1.8v1.8h-1.8zM113.8 157.9h1.8v1.8h-1.8zM104.7 153.1h1.8v1.8h-1.8zM93.2 160.6h1.8v1.8h-1.8zM101.2 150.8h1.8v1.8h-1.8zM118.8 159.8h1.8v1.8h-1.8zM104.5 174.3h1.8v1.8h-1.8zM99.5 168.1h1.8v1.8h-1.8zM109.2 160.7h1.8v1.8h-1.8zM100.7 148.9h1.8v1.8h-1.8zM110.1 141.4h1.8v1.8h-1.8zM111.0 159.4h1.8v1.8h-1.8zM90.8 166.2h1.8v1.8h-1.8zM101.0 140.1h1.8v1.8h-1.8zM124.2 156.7h1.8v1.8h-1.8zM103.3 158.1h1.8v1.8h-1.8zM98.2 149.3h1.8v1.8h-1.8zM121.9 167.8h1.8v1.8h-1.8zM104.7 151.9h1.8v1.8h-1.8zM92.0 161.0h1.8v1.8h-1.8zM96.8 170.4h1.8v1.8h-1.8zM111.6 142.9h1.8v1.8h-1.8zM92.5 160.9h1.8v1.8h-1.8zM115.0 150.7h1.8v1.8h-1.8zM107.7 154.0h1.8v1.8h-1.8zM103.8 144.2h1.8v1.8h-1.8zM101.0 139.4h1.8v1.8h-1.8zM109.1 161.9h1.8v1.8h-1.8zM103.1 157.2h1.8v1.8h-1.8zM125.5 149.3h1.8v1.8h-1.8zM115.6 163.7h1.8v1.8h-1.8zM125.8 180.7h1.8v1.8h-1.8zM93.1 166.6h1.8v1.8h-1.8zM116.3 148.8h1.8v1.8h-1.8zM118.4 156.9h1.8v1.8h-1.8zM106.4 143.1h1.8v1.8h-1.8zM109.8 168.7h1.8v1.8h-1.8zM117.8 170.3h1.8v1.8h-1.8zM127.3 183.1h1.8v1.8h-1.8zM121.8 174.6h1.8v1.8h-1.8zM99.0 144.9h1.8v1.8h-1.8zM114.3 173.4h1.8v1.8h-1.8zM116.5 158.0h1.8v1.8h-1.8zM109.7 175.5h1.8v1.8h-1.8zM108.0 170.1h1.8v1.8h-1.8zM122.0 154.3h1.8v1.8h-1.8zM123.4 170.8h1.8v1.8h-1.8zM99.1 158.8h1.8v1.8h-1.8zM95.2 165.9h1.8v1.8h-1.8zM92.5 168.4h1.8v1.8h-1.8zM94.4 164.3h1.8v1.8h-1.8zM127.2 179.1h1.8v1.8h-1.8zM90.9 163.4h1.8v1.8h-1.8zM100.2 147.9h1.8v1.8h-1.8zM127.1 177.6h1.8v1.8h-1.8zM110.2 142.9h1.8v1.8h-1.8zM93.9 168.2h1.8v1.8h-1.8zM91.0 164.6h1.8v1.8h-1.8zM116.1 179.4h1.8v1.8h-1.8zM111.6 161.6h1.8v1.8h-1.8zM110.6 169.7h1.8v1.8h-1.8zM92.4 164.4h1.8v1.8h-1.8zM116.0 150.5h1.8v1.8h-1.8zM118.3 168.1h1.8v1.8h-1.8zM123.5 178.2h1.8v1.8h-1.8zM90.6 164.5h1.8v1.8h-1.8zM108.0 153.8h1.8v1.8h-1.8zM102.6 158.6h1.8v1.8h-1.8zM113.8 176.6h1.8v1.8h-1.8zM126.2 182.8h1.8v1.8h-1.8zM112.4 179.2h1.8v1.8h-1.8zM102.5 165.3h1.8v1.8h-1.8zM118.7 172.9h1.8v1.8h-1.8zM109.2 172.5h1.8v1.8h-1.8zM95.9 162.5h1.8v1.8h-1.8zM124.8 183.1h1.8v1.8h-1.8zM94.5 161.5h1.8v1.8h-1.8zM116.6 153.8h1.8v1.8h-1.8zM125.6 152.8h1.8v1.8h-1.8zM92.8 161.7h1.8v1.8h-1.8zM125.5 172.5h1.8v1.8h-1.8zM96.5 159.5h1.8v1.8h-1.8zM119.6 176.3h1.8v1.8h-1.8zM125.0 168.4h1.8v1.8h-1.8zM120.6 168.7h1.8v1.8h-1.8zM94.3 155.4h1.8v1.8h-1.8zM109.2 148.9h1.8v1.8h-1.8zM122.4 146.5h1.8v1.8h-1.8zM95.5 162.7h1.8v1.8h-1.8zM94.7 166.3h1.8v1.8h-1.8zM91.2 166.2h1.8v1.8h-1.8zM93.3 158.5h1.8v1.8h-1.8zM92.9 160.8h1.8v1.8h-1.8zM124.6 177.3h1.8v1.8h-1.8zM103.2 142.1h1.8v1.8h-1.8zM102.2 173.6h1.8v1.8h-1.8zM114.5 169.9h1.8v1.8h-1.8zM121.0 177.4h1.8v1.8h-1.8zM108.3 166.4h1.8v1.8h-1.8zM117.5 168.1h1.8v1.8h-1.8zM92.4 163.0h1.8v1.8h-1.8zM99.6 144.0h1.8v1.8h-1.8zM126.2 153.7h1.8v1.8h-1.8zM123.8 179.7h1.8v1.8h-1.8zM100.1 150.3h1.8v1.8h-1.8zM104.7 161.1h1.8v1.8h-1.8zM100.7 161.8h1.8v1.8h-1.8zM120.2 177.1h1.8v1.8h-1.8zM123.2 183.6h1.8v1.8h-1.8zM92.3 158.7h1.8v1.8h-1.8zM114.5 167.1h1.8v1.8h-1.8zM117.0 150.5h1.8v1.8h-1.8zM109.2 173.8h1.8v1.8h-1.8zM94.8 154.0h1.8v1.8h-1.8zM125.6 171.3h1.8v1.8h-1.8zM119.2 158.9h1.8v1.8h-1.8zM114.1 171.5h1.8v1.8h-1.8zM116.2 158.9h1.8v1.8h-1.8zM108.8 162.1h1.8v1.8h-1.8zM102.3 160.4h1.8v1.8h-1.8zM92.5 164.8h1.8v1.8h-1.8zM98.2 147.0h1.8v1.8h-1.8zM104.4 156.5h1.8v1.8h-1.8zM98.2 154.2h1.8v1.8h-1.8zM120.2 169.6h1.8v1.8h-1.8zM121.5 183.2h1.8v1.8h-1.8zM102.0 165.4h1.8v1.8h-1.8zM117.9 181.5h1.8v1.8h-1.8zM126.5 163.3h1.8v1.8h-1.8zM114.1 166.0h1.8v1.8h-1.8zM102.4 142.1h1.8v1.8h-1.8zM101.5 168.7h1.8v1.8h-1.8zM90.9 167.0h1.8v1.8h-1.8zM105.9 154.6h1.8v1.8h-1.8zM116.7 144.7h1.8v1.8h-1.8zM104.9 151.4h1.8v1.8h-1.8zM122.2 152.2h1.8v1.8h-1.8zM116.7 158.5h1.8v1.8h-1.8zM100.2 165.4h1.8v1.8h-1.8zM117.5 171.6h1.8v1.8h-1.8zM91.3 163.5h1.8v1.8h-1.8zM110.0 159.3h1.8v1.8h-1.8zM103.2 168.1h1.8v1.8h-1.8zM124.5 182.4h1.8v1.8h-1.8zM105.9 156.5h1.8v1.8h-1.8zM91.3 163.8h1.8v1.8h-1.8zM95.9 150.1h1.8v1.8h-1.8zM109.0 164.8h1.8v1.8h-1.8zM110.0 167.1h1.8v1.8h-1.8zM99.3 157.6h1.8v1.8h-1.8zM122.8 146.6h1.8v1.8h-1.8zM107.9 150.3h1.8v1.8h-1.8zM107.2 157.3h1.8v1.8h-1.8zM106.1 173.9h1.8v1.8h-1.8zM122.5 157.3h1.8v1.8h-1.8zM114.4 177.4h1.8v1.8h-1.8zM97.3 154.4h1.8v1.8h-1.8zM99.2 163.6h1.8v1.8h-1.8zM122.5 155.9h1.8v1.8h-1.8zM119.4 157.7h1.8v1.8h-1.8zM101.7 167.1h1.8v1.8h-1.8zM127.2 167.2h1.8v1.8h-1.8zM98.2 158.1h1.8v1.8h-1.8zM91.1 166.8h1.8v1.8h-1.8zM100.4 161.7h1.8v1.8h-1.8zM106.0 168.0h1.8v1.8h-1.8zM118.8 162.9h1.8v1.8h-1.8zM105.0 142.3h1.8v1.8h-1.8zM105.1 160.3h1.8v1.8h-1.8zM103.4 154.6h1.8v1.8h-1.8zM112.3 172.0h1.8v1.8h-1.8zM102.2 163.5h1.8v1.8h-1.8zM125.9 181.3h1.8v1.8h-1.8zM114.1 154.6h1.8v1.8h-1.8zM103.2 160.0h1.8v1.8h-1.8zM97.3 165.6h1.8v1.8h-1.8zM114.4 151.5h1.8v1.8h-1.8zM102.3 162.1h1.8v1.8h-1.8zM94.6 169.7h1.8v1.8h-1.8zM107.6 145.1h1.8v1.8h-1.8zM95.0 167.9h1.8v1.8h-1.8zM97.6 160.2h1.8v1.8h-1.8zM92.9 166.0h1.8v1.8h-1.8zM102.9 153.8h1.8v1.8h-1.8zM90.8 166.1h1.8v1.8h-1.8zM113.0 176.9h1.8v1.8h-1.8zM102.1 172.9h1.8v1.8h-1.8zM96.1 168.9h1.8v1.8h-1.8zM120.3 144.2h1.8v1.8h-1.8zM109.0 150.3h1.8v1.8h-1.8zM114.6 173.8h1.8v1.8h-1.8zM113.7 139.4h1.8v1.8h-1.8zM120.2 146.5h1.8v1.8h-1.8zM94.8 159.2h1.8v1.8h-1.8zM117.5 153.2h1.8v1.8h-1.8zM94.0 161.7h1.8v1.8h-1.8zM119.2 160.3h1.8v1.8h-1.8zM92.1 163.4h1.8v1.8h-1.8zM121.8 178.5h1.8v1.8h-1.8zM104.1 174.4h1.8v1.8h-1.8zM127.3 175.3h1.8v1.8h-1.8zM117.8 164.7h1.8v1.8h-1.8zM124.6 166.6h1.8v1.8h-1.8zM102.4 166.0h1.8v1.8h-1.8zM105.9 159.5h1.8v1.8h-1.8zM98.3 158.5h1.8v1.8h-1.8zM103.8 157.3h1.8v1.8h-1.8zM97.0 170.1h1.8v1.8h-1.8zM123.1 151.4h1.8v1.8h-1.8zM90.7 123.2h1.8v1.8h-1.8zM95.1 124.5h1.8v1.8h-1.8zM94.1 127.1h1.8v1.8h-1.8zM88.8 134.8h1.8v1.8h-1.8zM92.7 133.5h1.8v1.8h-1.8zM104.6 119.7h1.8v1.8h-1.8zM108.9 115.3h1.8v1.8h-1.8zM112.4 111.6h1.8v1.8h-1.8zM111.3 122.3h1.8v1.8h-1.8zM110.0 132.2h1.8v1.8h-1.8zM92.5 133.6h1.8v1.8h-1.8zM110.1 132.1h1.8v1.8h-1.8z" fill="#f00"/>
<path d="M171.0 177.9h1.8v1.8h-1.8zM173.1 169.4h1.8v1.8h-1.8zM171.7 168.1h1.8v1.8h-1.8zM158.2 183.1h1.8v1.8h-1.8zM168.7 169.9h1.8v1.8h-1.8zM160.3 180.9h1.8v1.8h-1.8zM157.9 167.6h1.8v1.8h-1.8zM160.1 181.5h1.8v1.8h-1.8zM154.7 183.8h1.8v1.8h-1.8zM167.5 176.1h1.8v1.8h-1.8zM160.4 175.7h1.8v1.8h-1.8zM156.2 179.4h1.8v1.8h-1.8zM155.1 183.5h1.8v1.8h-1.8zM162.2 178.5h1.8v1.8h-1.8zM173.1 175.6h1.8v1.8h-1.8zM173.8 174.0h1.8v1.8h-1.8zM157.5 183.4h1.8v1.8h-1.8zM157.0 161.3h1.8v1.8h-1.8zM157.9 173.2h1.8v1.8h-1.8zM176.1 165.3h1.8v1.8h-1.8zM154.8 181.9h1.8v1.8h-1.8zM154.6 183.5h1.8v1.8h-1.8zM157.3 183.0h1.8v1.8h-1.8zM166.0 175.2h1.8v1.8h-1.8zM156.5 182.7h1.8v1.8h-1.8zM154.2 184.5h1.8v1.8h-1.8zM159.6 182.7h1.8v1.8h-1.8zM161.6 180.5h1.8v1.8h-1.8zM168.9 176.6h1.8v1.8h-1.8zM174.3 174.1h1.8v1.8h-1.8zM174.3 171.0h1.8v1.8h-1.8zM172.7 172.1h1.8v1.8h-1.8zM162.1 180.2h1.8v1.8h-1.8zM168.4 175.8h1.8v1.8h-1.8zM172.7 167.3h1.8v1.8h-1.8zM159.3 183.1h1.8v1.8h-1.8zM156.1 181.5h1.8v1.8h-1.8zM158.0 178.6h1.8v1.8h-1.8zM153.2 182.1h1.8v1.8h-1.8zM166.3 172.0h1.8v1.8h-1.8zM169.5 174.0h1.8v1.8h-1.8zM160.9 164.9h1.8v1.8h-1.8zM162.4 176.1h1.8v1.8h-1.8zM156.8 178.0h1.8v1.8h-1.8zM160.7 164.6h1.8v1.8h-1.8zM175.1 175.4h1.8v1.8h-1.8zM153.6 183.1h1.8v1.8h-1.8zM170.7 171.8h1.8v1.8h-1.8zM155.9 184.0h1.8v1.8h-1.8zM155.8 183.9h1.8v1.8h-1.8zM154.3 177.7h1.8v1.8h-1.8zM154.9 183.9h1.8v1.8h-1.8zM164.3 180.2h1.8v1.8h-1.8zM170.9 169.9h1.8v1.8h-1.8zM172.5 166.9h1.8v1.8h-1.8zM167.6 177.3h1.8v1.8h-1.8zM159.2 180.5h1.8v1.8h-1.8zM158.5 169.0h1.8v1.8h-1.8zM159.5 173.4h1.8v1.8h-1.8zM164.6 180.4h1.8v1.8h-1.8zM155.2 180.1h1.8v1.8h-1.8zM169.5 176.7h1.8v1.8h-1.8zM155.8 182.0h1.8v1.8h-1.8zM160.0 179.6h1.8v1.8h-1.8zM174.2 168.7h1.8v1.8h-1.8zM156.3 182.1h1.8v1.8h-1.8zM161.2 181.4h1.8v1.8h-1.8zM158.5 183.2h1.8v1.8h-1.8zM165.3 166.7h1.8v1.8h-1.8zM173.2 169.5h1.8v1.8h-1.8zM158.3 178.8h1.8v1.8h-1.8zM162.5 180.7h1.8v1.8h-1.8zM162.1 177.7h1.8v1.8h-1.8zM155.0 181.7h1.8v1.8h-1.8zM171.0 170.0h1.8v1.8h-1.8zM157.2 182.6h1.8v1.8h-1.8zM164.5 175.5h1.8v1.8h-1.8zM156.6 180.7h1.8v1.8h-1.8zM158.8 177.5h1.8v1.8h-1.8zM172.5 173.5h1.8v1.8h-1.8zM162.0 176.8h1.8v1.8h-1.8zM165.6 178.6h1.8v1.8h-1.8zM155.7 170.3h1.8v1.8h-1.8zM154.3 178.9h1.8v1.8h-1.8zM156.0 180.8h1.8v1.8h-1.8zM159.9 181.4h1.8v1.8h-1.8zM154.7 167.7h1.8v1.8h-1.8zM153.3 184.6h1.8v1.8h-1.8zM167.8 176.1h1.8v1.8h-1.8zM154.9 176.7h1.8v1.8h-1.8zM176.3 173.2h1.8v1.8h-1.8zM166.8 176.4h1.8v1.8h-1.8zM176.9 167.2h1.8v1.8h-1.8zM173.1 168.2h1.8v1.8h-1.8zM154.1 182.0h1.8v1.8h-1.8zM166.8 178.8h1.8v1.8h-1.8zM153.7 160.1h1.8v1.8h-1.8zM174.1 167.8h1.8v1.8h-1.8zM153.5 178.9h1.8v1.8h-1.8zM167.1 175.7h1.8v1.8h-1.8zM164.6 163.2h1.8v1.8h-1.8zM161.0 182.1h1.8v1.8h-1.8zM154.3 168.6h1.8v1.8h-1.8zM166.9 160.4h1.8v1.8h-1.8zM154.3 184.5h1.8v1.8h-1.8zM166.1 176.4h1.8v1.8h-1.8zM160.1 181.3h1.8v1.8h-1.8zM168.6 167.9h1.8v1.8h-1.8zM167.4 175.6h1.8v1.8h-1.8zM160.8 179.5h1.8v1.8h-1.8zM160.2 180.5h1.8v1.8h-1.8zM160.3 162.4h1.8v1.8h-1.8zM169.9 177.4h1.8v1.8h-1.8zM165.7 168.5h1.8v1.8h-1.8zM157.5 171.1h1.8v1.8h-1.8zM174.7 175.4h1.8v1.8h-1.8zM164.4 177.8h1.8v1.8h-1.8zM160.2 178.0h1.8v1.8h-1.8zM171.8 169.7h1.8v1.8h-1.8zM172.9 174.7h1.8v1.8h-1.8zM169.7 174.8h1.8v1.8h-1.8zM154.8 176.0h1.8v1.8h-1.8zM163.1 180.0h1.8v1.8h-1.8zM173.0 171.5h1.8v1.8h-1.8zM157.2 179.6h1.8v1.8h-1.8zM162.2 179.9h1.8v1.8h-1.8zM161.9 160.4h1.8v1.8h-1.8zM166.5 177.9h1.8v1.8h-1.8zM166.1 173.6h1.8v1.8h-1.8zM158.0 177.2h1.8v1.8h-1.8zM158.2 174.7h1.8v1.8h-1.8zM158.4 173.3h1.8v1.8h-1.8zM156.6 183.3h1.8v1.8h-1.8zM157.2 183.4h1.8v1.8h-1.8zM159.0 181.8h1.8v1.8h-1.8zM172.6 162.0h1.8v1.8h-1.8zM155.7 182.6h1.8v1.8h-1.8zM161.0 181.7h1.8v1.8h-1.8zM155.2 182.0h1.8v1.8h-1.8zM154.0 184.4h1.8v1.8h-1.8zM163.8 179.0h1.8v1.8h-1.8zM165.7 178.2h1.8v1.8h-1.8zM168.5 176.1h1.8v1.8h-1.8zM172.2 173.0h1.8v1.8h-1.8zM166.4 170.4h1.8v1.8h-1.8zM166.7 170.1h1.8v1.8h-1.8zM157.5 183.1h1.8v1.8h-1.8zM158.0 164.9h1.8v1.8h-1.8zM153.3 183.6h1.8v1.8h-1.8zM156.8 180.9h1.8v1.8h-1.8zM172.2 175.8h1.8v1.8h-1.8zM153.8 185.2h1.8v1.8h-1.8zM157.4 176.5h1.8v1.8h-1.8zM159.9 176.7h1.8v1.8h-1.8zM161.4 179.6h1.8v1.8h-1.8zM158.8 183.3h1.8v1.8h-1.8zM175.2 164.9h1.8v1.8h-1.8zM153.8 184.1h1.8v1.8h-1.8zM169.3 173.5h1.8v1.8h-1.8zM168.1 169.1h1.8v1.8h-1.8zM154.3 175.7h1.8v1.8h-1.8zM155.0 184.1h1.8v1.8h-1.8zM168.1 167.0h1.8v1.8h-1.8zM156.7 181.5h1.8v1.8h-1.8zM167.7 177.0h1.8v1.8h-1.8zM159.7 153.2h1.8v1.8h-1.8zM154.1 169.6h1.8v1.8h-1.8zM155.7 183.4h1.8v1.8h-1.8zM159.5 182.1h1.8v1.8h-1.8zM174.2 169.4h1.8v1.8h-1.8zM171.2 172.6h1.8v1.8h-1.8zM161.0 162.8h1.8v1.8h-1.8zM154.1 183.8h1.8v1.8h-1.8zM171.7 170.6h1.8v1.8h-1.8zM168.9 172.0h1.8v1.8h-1.8zM168.2 173.7h1.8v1.8h-1.8zM155.3 182.6h1.8v1.8h-1.8zM174.2 170.2h1.8v1.8h-1.8zM153.3 179.9h1.8v1.8h-1.8zM176.7 166.6h1.8v1.8h-1.8zM160.8 178.8h1.8v1.8h-1.8zM164.6 174.5h1.8v1.8h-1.8zM160.7 168.0h1.8v1.8h-1.8zM172.8 164.9h1.8v1.8h-1.8zM167.4 170.5h1.8v1.8h-1.8zM155.0 181.2h1.8v1.8h-1.8zM156.1 183.3h1.8v1.8h-1.8zM175.1 173.6h1.8v1.8h-1.8zM170.3 164.6h1.8v1.8h-1.8zM158.8 183.4h1.8v1.8h-1.8zM154.7 179.3h1.8v1.8h-1.8zM166.9 176.8h1.8v1.8h-1.8zM163.7 180.2h1.8v1.8h-1.8zM165.4 170.1h1.8v1.8h-1.8zM169.2 172.6h1.8v1.8h-1.8zM163.0 181.7h1.8v1.8h-1.8zM156.1 181.6h1.8v1.8h-1.8zM153.6 184.9h1.8v1.8h-1.8zM175.4 166.1h1.8v1.8h-1.8zM162.7 174.2h1.8v1.8h-1.8zM172.2 169.4h1.8v1.8h-1.8zM159.3 180.3h1.8v1.8h-1.8zM154.4 175.8h1.8v1.8h-1.8zM164.9 178.0h1.8v1.8h-1.8zM166.5 177.9h1.8v1.8h-1.8zM168.0 173.4h1.8v1.8h-1.8zM163.3 181.2h1.8v1.8h-1.8zM168.5 176.6h1.8v1.8h-1.8zM167.3 178.8h1.8v1.8h-1.8zM162.2 179.3h1.8v1.8h-1.8zM160.3 180.8h1.8v1.8h-1.8zM153.5 182.3h1.8v1.8h-1.8zM155.6 183.6h1.8v1.8h-1.8zM157.3 183.4h1.8v1.8h-1.8zM153.3 166.1h1.8v1.8h-1.8zM153.4 173.4h1.8v1.8h-1.8zM159.1 182.6h1.8v1.8h-1.8zM159.3 179.0h1.8v1.8h-1.8zM153.4 181.2h1.8v1.8h-1.8zM153.2 183.5h1.8v1.8h-1.8zM167.0 166.6h1.8v1.8h-1.8zM154.7 182.1h1.8v1.8h-1.8zM175.0 172.7h1.8v1.8h-1.8zM154.0 183.7h1.8v1.8h-1.8zM172.1 174.1h1.8v1.8h-1.8zM165.6 161.2h1.8v1.8h-1.8zM164.3 179.7h1.8v1.8h-1.8zM160.6 180.3h1.8v1.8h-1.8zM160.5 176.8h1.8v1.8h-1.8zM176.0 165.5h1.8v1.8h-1.8zM161.3 171.9h1.8v1.8h-1.8zM161.2 181.2h1.8v1.8h-1.8zM165.7 178.3h1.8v1.8h-1.8zM155.2 182.1h1.8v1.8h-1.8zM160.7 182.6h1.8v1.8h-1.8zM157.8 164.7h1.8v1.8h-1.8zM161.3 179.6h1.8v1.8h-1.8zM160.0 175.6h1.8v1.8h-1.8zM161.1 179.3h1.8v1.8h-1.8zM163.1 179.5h1.8v1.8h-1.8zM166.1 176.4h1.8v1.8h-1.8zM166.8 176.9h1.8v1.8h-1.8zM164.8 179.4h1.8v1.8h-1.8zM160.7 178.5h1.8v1.8h-1.8zM153.2 184.7h1.8v1.8h-1.8zM160.1 174.0h1.8v1.8h-1.8zM170.2 164.2h1.8v1.8h-1.8zM154.9 184.0h1.8v1.8h-1.8zM154.2 176.6h1.8v1.8h-1.8zM154.9 182.9h1.8v1.8h-1.8zM154.2 172.1h1.8v1.8h-1.8zM155.1 183.4h1.8v1.8h-1.8zM163.5 173.4h1.8v1.8h-1.8zM153.3 180.8h1.8v1.8h-1.8zM161.8 177.1h1.8v1.8h-1.8zM161.4 172.2h1.8v1.8h-1.8zM170.6 163.1h1.8v1.8h-1.8zM157.2 183.9h1.8v1.8h-1.8zM160.3 182.7h1.8v1.8h-1.8zM164.7 176.5h1.8v1.8h-1.8zM168.1 166.3h1.8v1.8h-1.8zM167.6 171.0h1.8v1.8h-1.8zM157.3 176.5h1.8v1.8h-1.8zM164.8 179.2h1.8v1.8h-1.8zM172.2 172.3h1.8v1.8h-1.8zM161.8 180.8h1.8v1.8h-1.8zM170.9 173.0h1.8v1.8h-1.8zM167.9 166.0h1.8v1.8h-1.8zM161.5 176.7h1.8v1.8h-1.8zM160.1 181.3h1.8v1.8h-1.8zM169.8 159.4h1.8v1.8h-1.8zM153.3 185.2h1.8v1.8h-1.8zM160.3 182.4h1.8v1.8h-1.8zM159.6 180.6h1.8v1.8h-1.8zM155.6 176.3h1.8v1.8h-1.8zM163.2 164.8h1.8v1.8h-1.8zM154.9 182.3h1.8v1.8h-1.8zM164.2 171.2h1.8v1.8h-1.8zM159.3 182.1h1.8v1.8h-1.8zM158.4 178.7h1.8v1.8h-1.8zM175.7 166.7h1.8v1.8h-1.8zM171.3 163.9h1.8v1.8h-1.8zM159.3 179.0h1.8v1.8h-1.8zM170.9 168.1h1.8v1.8h-1.8zM158.7 182.3h1.8v1.8h-1.8zM167.6 177.1h1.8v1.8h-1.8zM156.0 182.9h1.8v1.8h-1.8zM166.2 172.9h1.8v1.8h-1.8zM174.6 168.8h1.8v1.8h-1.8zM160.6 169.2h1.8v1.8h-1.8zM154.2 180.3h1.8v1.8h-1.8zM176.5 171.6h1.8v1.8h-1.8zM154.4 184.5h1.8v1.8h-1.8zM153.3 178.4h1.8v1.8h-1.8zM159.0 173.0h1.8v1.8h-1.8zM171.0 177.7h1.8v1.8h-1.8zM156.8 182.5h1.8v1.8h-1.8zM156.0 184.4h1.8v1.8h-1.8zM155.9 182.3h1.8v1.8h-1.8zM159.9 178.4h1.8v1.8h-1.8zM176.4 174.1h1.8v1.8h-1.8zM154.2 172.5h1.8v1.8h-1.8zM156.4 180.0h1.8v1.8h-1.8zM156.8 171.3h1.8v1.8h-1.8zM174.5 169.2h1.8v1.8h-1.8zM153.7 182.8h1.8v1.8h-1.8zM166.7 174.1h1.8v1.8h-1.8zM156.3 181.6h1.8v1.8h-1.8zM153.5 182.6h1.8v1.8h-1.8zM170.6 174.3h1.8v1.8h-1.8zM160.2 181.8h1.8v1.8h-1.8zM167.0 176.0h1.8v1.8h-1.8zM158.4 174.8h1.8v1.8h-1.8zM156.6 183.9h1.8v1.8h-1.8zM164.9 171.7h1.8v1.8h-1.8zM153.4 183.1h1.8v1.8h-1.8zM172.8 171.4h1.8v1.8h-1.8zM158.8 182.7h1.8v1.8h-1.8zM156.4 179.4h1.8v1.8h-1.8zM173.8 167.7h1.8v1.8h-1.8zM175.8 171.1h1.8v1.8h-1.8zM153.5 183.1h1.8v1.8h-1.8zM158.0 183.5h1.8v1.8h-1.8zM153.6 172.4h1.8v1.8h-1.8zM173.1 175.7h1.8v1.8h-1.8zM153.6 164.2h1.8v1.8h-1.8zM154.6 183.1h1.8v1.8h-1.8zM155.4 183.5h1.8v1.8h-1.8zM153.3 182.1h1.8v1.8h-1.8zM169.0 178.3h1.8v1.8h-1.8zM160.8 181.8h1.8v1.8h-1.8zM169.4 161.2h1.8v1.8h-1.8zM172.4 171.2h1.8v1.8h-1.8zM154.2 178.3h1.8v1.8h-1.8zM153.5 177.4h1.8v1.8h-1.8zM156.7 171.5h1.8v1.8h-1.8zM156.4 176.7h1.8v1.8h-1.8zM160.9 180.9h1.8v1.8h-1.8zM160.8 179.1h1.8v1.8h-1.8zM154.4 180.8h1.8v1.8h-1.8zM161.9 174.5h1.8v1.8h-1.8zM157.4 178.5h1.8v1.8h-1.8zM155.0 180.8h1.8v1.8h-1.8zM155.6 176.1h1.8v1.8h-1.8zM154.9 183.1h1.8v1.8h-1.8zM153.5 183.4h1.8v1.8h-1.8zM162.1 180.5h1.8v1.8h-1.8zM154.0 173.1h1.8v1.8h-1.8zM156.9 182.9h1.8v1.8h-1.8zM158.7 172.5h1.8v1.8h-1.8zM168.1 162.4h1.8v1.8h-1.8zM162.2 179.4h1.8v1.8h-1.8zM161.1 182.2h1.8v1.8h-1.8zM166.1 167.5h1.8v1.8h-1.8zM173.8 162.1h1.8v1.8h-1.8zM165.0 169.6h1.8v1.8h-1.8zM156.5 179.7h1.8v1.8h-1.8zM154.5 170.0h1.8v1.8h-1.8zM161.3 181.2h1.8v1.8h-1.8zM176.4 167.0h1.8v1.8h-1.8zM155.2 174.5h1.8v1.8h-1.8zM164.4 174.5h1.8v1.8h-1.8zM172.5 174.2h1.8v1.8h-1.8zM156.3 179.7h1.8v1.8h-1.8zM155.1 178.2h1.8v1.8h-1.8zM160.5 181.4h1.8v1.8h-1.8zM154.0 184.2h1.8v1.8h-1.8zM163.0 165.5h1.8v1.8h-1.8zM169.7 164.4h1.8v1.8h-1.8zM162.8 171.2h1.8v1.8h-1.8zM157.2 181.5h1.8v1.8h-1.8zM173.4 174.3h1.8v1.8h-1.8zM164.4 175.4h1.8v1.8h-1.8zM153.4 180.9h1.8v1.8h-1.8zM169.7 162.0h1.8v1.8h-1.8zM159.1 169.5h1.8v1.8h-1.8zM153.3 172.8h1.8v1.8h-1.8zM166.0 168.7h1.8v1.8h-1.8zM159.8 177.7h1.8v1.8h-1.8zM170.7 176.1h1.8v1.8h-1.8zM154.8 177.3h1.8v1.8h-1.8zM172.4 175.1h1.8v1.8h-1.8zM162.2 177.5h1.8v1.8h-1.8zM156.9 173.6h1.8v1.8h-1.8zM156.3 175.8h1.8v1.8h-1.8zM159.0 182.5h1.8v1.8h-1.8zM175.5 174.2h1.8v1.8h-1.8zM153.8 185.1h1.8v1.8h-1.8zM157.6 183.8h1.8v1.8h-1.8zM154.4 169.6h1.8v1.8h-1.8zM155.9 177.5h1.8v1.8h-1.8zM155.2 184.8h1.8v1.8h-1.8zM153.2 184.7h1.8v1.8h-1.8zM175.2 170.7h1.8v1.8h-1.8zM155.8 184.4h1.8v1.8h-1.8zM164.9 178.3h1.8v1.8h-1.8zM154.7 181.8h1.8v1.8h-1.8zM167.0 176.9h1.8v1.8h-1.8zM162.6 180.5h1.8v1.8h-1.8zM162.6 181.6h1.8v1.8h-1.8zM163.0 177.5h1.8v1.8h-1.8zM158.6 175.3h1.8v1.8h-1.8zM163.1 173.5h1.8v1.8h-1.8zM159.7 180.0h1.8v1.8h-1.8zM167.3 178.3h1.8v1.8h-1.8zM157.5 182.4h1.8v1.8h-1.8zM155.1 173.8h1.8v1.8h-1.8zM156.9 176.5h1.8v1.8h-1.8zM153.4 171.6h1.8v1.8h-1.8zM160.3 174.4h1.8v1.8h-1.8zM153.9 180.3h1.8v1.8h-1.8zM170.2 175.7h1.8v1.8h-1.8zM153.7 182.7h1.8v1.8h-1.8zM168.8 168.4h1.8v1.8h-1.8zM153.5 183.3h1.8v1.8h-1.8zM173.8 173.7h1.8v1.8h-1.8zM153.7 174.4h1.8v1.8h-1.8zM170.5 173.7h1.8v1.8h-1.8zM166.5 170.3h1.8v1.8h-1.8zM171.1 176.3h1.8v1.8h-1.8zM167.6 161.0h1.8v1.8h-1.8zM169.4 173.2h1.8v1.8h-1.8zM158.6 160.2h1.8v1.8h-1.8zM161.2 168.3h1.8v1.8h-1.8zM172.4 171.7h1.8v1.8h-1.8zM154.1 180.0h1.8v1.8h-1.8zM154.2 183.0h1.8v1.8h-1.8zM162.8 177.2h1.8v1.8h-1.8zM164.9 169.0h1.8v1.8h-1.8zM175.0 172.8h1.8v1.8h-1.8zM175.2 172.5h1.8v1.8h-1.8zM157.6 175.7h1.8v1.8h-1.8zM176.0 169.4h1.8v1.8h-1.8zM169.7 165.4h1.8v1.8h-1.8zM156.9 178.7h1.8v1.8h-1.8zM174.7 175.9h1.8v1.8h-1.8zM154.0 174.1h1.8v1.8h-1.8zM162.8 178.3h1.8v1.8h-1.8zM169.6 174.2h1.8v1.8h-1.8zM154.2 182.8h1.8v1.8h-1.8zM168.5 171.6h1.8v1.8h-1.8zM160.9 182.6h1.8v1.8h-1.8zM176.8 174.2h1.8v1.8h-1.8zM156.3 175.6h1.8v1.8h-1.8zM174.6 166.5h1.8v1.8h-1.8zM158.3 175.5h1.8v1.8h-1.8zM165.7 174.5h1.8v1.8h-1.8zM169.3 172.7h1.8v1.8h-1.8zM162.0 180.2h1.8v1.8h-1.8zM169.1 178.0h1.8v1.8h-1.8zM153.8 179.9h1.8v1.8h-1.8zM153.4 174.3h1.8v1.8h-1.8zM154.9 181.5h1.8v1.8h-1.8zM156.0 180.9h1.8v1.8h-1.8zM164.1 179.7h1.8v1.8h-1.8zM162.2 158.7h1.8v1.8h-1.8zM154.3 183.8h1.8v1.8h-1.8zM154.9 184.3h1.8v1.8h-1.8zM153.2 168.5h1.8v1.8h-1.8zM175.6 175.2h1.8v1.8h-1.8zM170.9 171.3h1.8v1.8h-1.8zM155.1 173.0h1.8v1.8h-1.8zM154.0 179.7h1.8v1.8h-1.8zM165.8 172.1h1.8v1.8h-1.8zM155.6 183.8h1.8v1.8h-1.8zM164.6 178.6h1.8v1.8h-1.8zM163.8 172.3h1.8v1.8h-1.8zM153.3 178.5h1.8v1.8h-1.8zM176.2 170.9h1.8v1.8h-1.8zM163.0 179.1h1.8v1.8h-1.8zM172.6 175.1h1.8v1.8h-1.8zM153.8 181.5h1.8v1.8h-1.8zM159.7 178.0h1.8v1.8h-1.8zM155.1 170.3h1.8v1.8h-1.8zM161.9 179.0h1.8v1.8h-1.8zM168.1 179.1h1.8v1.8h-1.8zM174.0 161.8h1.8v1.8h-1.8zM155.9 181.2h1.8v1.8h-1.8zM153.3 177.0h1.8v1.8h-1.8zM175.9 167.8h1.8v1.8h-1.8zM176.1 169.9h1.8v1.8h-1.8zM172.1 162.8h1.8v1.8h-1.8zM174.2 171.3h1.8v1.8h-1.8zM161.3 182.3h1.8v1.8h-1.8zM175.1 175.0h1.8v1.8h-1.8zM163.2 175.5h1.8v1.8h-1.8zM154.6 182.7h1.8v1.8h-1.8zM156.7 184.3h1.8v1.8h-1.8zM158.7 180.7h1.8v1.8h-1.8zM167.2 171.2h1.8v1.8h-1.8zM155.9 179.3h1.8v1.8h-1.8zM166.4 169.2h1.8v1.8h-1.8zM154.2 183.0h1.8v1.8h-1.8zM164.1 178.7h1.8v1.8h-1.8zM173.8 172.1h1.8v1.8h-1.8zM166.9 179.4h1.8v1.8h-1.8zM175.6 172.0h1.8v1.8h-1.8zM153.9 184.8h1.8v1.8h-1.8zM153.3 175.7h1.8v1.8h-1.8zM165.4 176.2h1.8v1.8h-1.8zM154.3 181.3h1.8v1.8h-1.8zM161.0 181.2h1.8v1.8h-1.8zM173.3 166.0h1.8v1.8h-1.8zM154.5 179.7h1.8v1.8h-1.8zM163.6 162.8h1.8v1.8h-1.8zM153.4 182.4h1.8v1.8h-1.8zM154.4 177.5h1.8v1.8h-1.8zM153.6 175.9h1.8v1.8h-1.8zM164.1 174.3h1.8v1.8h-1.8zM167.6 172.4h1.8v1.8h-1.8zM162.2 177.3h1.8v1.8h-1.8zM153.3 184.2h1.8v1.8h-1.8zM166.3 176.4h1.8v1.8h-1.8zM159.8 171.5h1.8v1.8h-1.8zM158.4 175.9h1.8v1.8h-1.8zM170.0 165.0h1.8v1.8h-1.8zM155.5 179.5h1.8v1.8h-1.8zM160.2 177.4h1.8v1.8h-1.8zM153.7 184.2h1.8v1.8h-1.8zM155.7 176.0h1.8v1.8h-1.8zM169.3 175.2h1.8v1.8h-1.8zM163.8 177.4h1.8v1.8h-1.8zM162.0 180.2h1.8v1.8h-1.8zM157.5 165.4h1.8v1.8h-1.8zM172.7 176.0h1.8v1.8h-1.8zM154.0 174.4h1.8v1.8h-1.8zM159.7 176.9h1.8v1.8h-1.8zM163.8 175.2h1.8v1.8h-1.8zM173.5 175.3h1.8v1.8h-1.8zM171.9 175.1h1.8v1.8h-1.8zM153.6 183.4h1.8v1.8h-1.8zM161.4 172.1h1.8v1.8h-1.8zM163.1 158.4h1.8v1.8h-1.8zM154.9 182.3h1.8v1.8h-1.8zM163.0 175.8h1.8v1.8h-1.8zM166.5 175.1h1.8v1.8h-1.8zM153.8 177.1h1.8v1.8h-1.8zM169.6 178.0h1.8v1.8h-1.8zM170.3 178.2h1.8v1.8h-1.8zM166.1 173.4h1.8v1.8h-1.8zM156.6 183.8h1.8v1.8h-1.8zM155.9 179.1h1.8v1.8h-1.8zM161.9 171.4h1.8v1.8h-1.8zM154.6 179.7h1.8v1.8h-1.8zM156.7 184.1h1.8v1.8h-1.8zM154.8 184.3h1.8v1.8h-1.8zM154.5 184.9h1.8v1.8h-1.8zM176.0 171.6h1.8v1.8h-1.8zM168.4 175.2h1.8v1.8h-1.8zM161.3 180.6h1.8v1.8h-1.8zM174.9 174.0h1.8v1.8h-1.8zM175.4 163.1h1.8v1.8h-1.8zM172.0 176.6h1.8v1.8h-1.8zM176.4 166.2h1.8v1.8h-1.8zM163.1 176.1h1.8v1.8h-1.8zM159.7 164.2h1.8v1.8h-1.8zM154.2 181.0h1.8v1.8h-1.8zM166.6 178.6h1.8v1.8h-1.8zM172.9 165.8h1.8v1.8h-1.8zM154.0 183.3h1.8v1.8h-1.8zM166.0 165.4h1.8v1.8h-1.8zM176.9 172.1h1.8v1.8h-1.8zM171.0 171.1h1.8v1.8h-1.8zM157.9 182.3h1.8v1.8h-1.8zM153.9 185.1h1.8v1.8h-1.8zM159.4 182.5h1.8v1.8h-1.8zM155.1 182.7h1.8v1.8h-1.8zM154.2 183.9h1.8v1.8h-1.8zM155.9 163.6h1.8v1.8h-1.8zM159.2 177.5h1.8v1.8h-1.8zM162.1 161.3h1.8v1.8h-1.8zM170.7 158.1h1.8v1.8h-1.8zM172.3 166.7h1.8v1.8h-1.8zM172.4 174.0h1.8v1.8h-1.8zM163.9 178.6h1.8v1.8h-1.8zM174.2 173.7h1.8v1.8h-1.8zM176.9 172.5h1.8v1.8h-1.8zM157.4 176.1h1.8v1.8h-1.8zM162.9 180.2h1.8v1.8h-1.8zM154.1 173.9h1.8v1.8h-1.8zM155.1 180.9h1.8v1.8h-1.8zM171.1 172.7h1.8v1.8h-1.8zM160.5 181.7h1.8v1.8h-1.8zM174.6 168.6h1.8v1.8h-1.8zM165.7 177.0h1.8v1.8h-1.8zM167.0 176.5h1.8v1.8h-1.8zM154.7 182.6h1.8v1.8h-1.8zM168.6 164.4h1.8v1.8h-1.8zM161.4 175.6h1.8v1.8h-1.8zM174.5 167.5h1.8v1.8h-1.8zM176.0 172.8h1.8v1.8h-1.8zM172.3 166.3h1.8v1.8h-1.8zM162.9 175.9h1.8v1.8h-1.8zM154.6 185.0h1.8v1.8h-1.8zM153.3 173.6h1.8v1.8h-1.8zM158.6 178.0h1.8v1.8h-1.8zM159.6 170.2h1.8v1.8h-1.8zM172.4 171.9h1.8v1.8h-1.8zM169.1 175.8h1.8v1.8h-1.8zM179.6 172.7h1.8v1.8h-1.8zM178.5 170.1h1.8v1.8h-1.8zM155.6 153.9h1.8v1.8h-1.8zM156.7 165.5h1.8v1.8h-1.8zM158.1 181.5h1.8v1.8h-1.8zM174.2 162.5h1.8v1.8h-1.8zM177.8 168.4h1.8v1.8h-1.8zM169.2 176.8h1.8v1.8h-1.8zM181.6 171.5h1.8v1.8h-1.8zM169.1 178.7h1.8v1.8h-1.8zM159.6 170.1h1.8v1.8h-1.8zM164.0 172.7h1.8v1.8h-1.8zM161.4 182.3h1.8v1.8h-1.8zM169.4 173.0h1.8v1.8h-1.8zM154.9 176.3h1.8v1.8h-1.8zM170.1 163.8h1.8v1.8h-1.8zM162.3 180.3h1.8v1.8h-1.8zM168.7 167.3h1.8v1.8h-1.8zM164.3 155.4h1.8v1.8h-1.8zM160.9 169.8h1.8v1.8h-1.8zM153.5 183.0h1.8v1.8h-1.8zM156.6 180.8h1.8v1.8h-1.8zM156.1 182.8h1.8v1.8h-1.8zM178.8 169.7h1.8v1.8h-1.8zM164.5 168.5h1.8v1.8h-1.8zM158.7 158.0h1.8v1.8h-1.8zM172.3 170.9h1.8v1.8h-1.8zM153.4 185.4h1.8v1.8h-1.8zM153.6 164.4h1.8v1.8h-1.8zM153.5 174.1h1.8v1.8h-1.8zM165.3 173.5h1.8v1.8h-1.8zM159.1 155.1h1.8v1.8h-1.8zM180.0 169.0h1.8v1.8h-1.8zM165.9 156.6h1.8v1.8h-1.8zM171.2 174.8h1.8v1.8h-1.8zM155.4 182.2h1.8v1.8h-1.8zM154.7 175.7h1.8v1.8h-1.8zM168.1 176.3h1.8v1.8h-1.8zM154.3 177.4h1.8v1.8h-1.8zM163.5 158.2h1.8v1.8h-1.8zM177.7 166.7h1.8v1.8h-1.8zM158.2 159.8h1.8v1.8h-1.8zM158.7 168.2h1.8v1.8h-1.8zM165.8 176.6h1.8v1.8h-1.8zM166.0 175.9h1.8v1.8h-1.8zM174.4 173.8h1.8v1.8h-1.8zM173.9 174.5h1.8v1.8h-1.8zM153.3 174.5h1.8v1.8h-1.8zM177.4 168.7h1.8v1.8h-1.8zM158.0 171.1h1.8v1.8h-1.8zM160.0 165.2h1.8v1.8h-1.8zM158.9 180.5h1.8v1.8h-1.8zM181.7 172.2h1.8v1.8h-1.8zM155.3 177.7h1.8v1.8h-1.8zM160.0 168.9h1.8v1.8h-1.8zM164.6 178.6h1.8v1.8h-1.8zM175.6 166.8h1.8v1.8h-1.8zM156.3 181.4h1.8v1.8h-1.8zM154.9 171.7h1.8v1.8h-1.8zM169.0 164.2h1.8v1.8h-1.8zM157.6 158.3h1.8v1.8h-1.8zM178.1 170.7h1.8v1.8h-1.8zM155.0 181.7h1.8v1.8h-1.8zM171.8 176.9h1.8v1.8h-1.8zM168.6 164.3h1.8v1.8h-1.8zM153.4 182.7h1.8v1.8h-1.8zM157.7 173.4h1.8v1.8h-1.8zM176.3 165.9h1.8v1.8h-1.8zM161.6 182.3h1.8v1.8h-1.8zM166.0 177.3h1.8v1.8h-1.8zM158.9 155.5h1.8v1.8h-1.8zM158.8 174.3h1.8v1.8h-1.8zM170.2 158.8h1.8v1.8h-1.8zM154.0 169.3h1.8v1.8h-1.8zM169.9 177.0h1.8v1.8h-1.8zM154.7 177.4h1.8v1.8h-1.8zM160.2 163.9h1.8v1.8h-1.8zM180.5 169.9h1.8v1.8h-1.8zM162.7 153.7h1.8v1.8h-1.8zM179.3 171.0h1.8v1.8h-1.8zM163.9 169.8h1.8v1.8h-1.8zM154.7 167.2h1.8v1.8h-1.8zM171.5 170.0h1.8v1.8h-1.8zM167.4 158.5h1.8v1.8h-1.8zM168.6 165.0h1.8v1.8h-1.8zM177.5 167.5h1.8v1.8h-1.8zM163.5 155.5h1.8v1.8h-1.8zM179.7 173.1h1.8v1.8h-1.8zM181.7 171.9h1.8v1.8h-1.8zM177.3 168.6h1.8v1.8h-1.8zM173.9 172.2h1.8v1.8h-1.8zM158.8 180.3h1.8v1.8h-1.8zM155.0 183.0h1.8v1.8h-1.8zM156.0 160.3h1.8v1.8h-1.8zM165.9 159.6h1.8v1.8h-1.8zM181.2 171.1h1.8v1.8h-1.8zM156.2 157.3h1.8v1.8h-1.8zM154.9 171.7h1.8v1.8h-1.8zM176.1 174.4h1.8v1.8h-1.8zM158.3 166.0h1.8v1.8h-1.8zM154.6 158.8h1.8v1.8h-1.8zM172.7 168.4h1.8v1.8h-1.8zM173.7 175.2h1.8v1.8h-1.8zM176.2 169.6h1.8v1.8h-1.8zM161.4 159.9h1.8v1.8h-1.8zM163.5 181.0h1.8v1.8h-1.8zM171.1 177.6h1.8v1.8h-1.8zM166.7 176.6h1.8v1.8h-1.8zM163.9 119.5h1.8v1.8h-1.8zM161.0 129.9h1.8v1.8h-1.8zM162.3 129.5h1.8v1.8h-1.8zM163.0 131.0h1.8v1.8h-1.8zM172.7 131.0h1.8v1.8h-1.8zM179.9 129.1h1.8v1.8h-1.8zM170.1 134.4h1.8v1.8h-1.8zM176.7 135.4h1.8v1.8h-1.8zM183.0 135.0h1.8v1.8h-1.8zM159.6 136.7h1.8v1.8h-1.8zM168.8 138.0h1.8v1.8h-1.8zM160.1 142.1h1.8v1.8h-1.8zM158.4 146.0h1.8v1.8h-1.8zM159.9 148.2h1.8v1.8h-1.8zM167.5 144.9h1.8v1.8h-1.8zM169.4 145.4h1.8v1.8h-1.8zM164.1 147.7h1.8v1.8h-1.8zM165.4 146.9h1.8v1.8h-1.8zM172.6 148.6h1.8v1.8h-1.8zM164.5 150.6h1.8v1.8h-1.8zM166.7 151.5h1.8v1.8h-1.8zM171.7 152.1h1.8v1.8h-1.8zM175.5 151.8h1.8v1.8h-1.8zM178.8 153.5h1.8v1.8h-1.8zM178.0 154.2h1.8v1.8h-1.8zM172.1 156.2h1.8v1.8h-1.8z" fill="#22f"/>
<path d="M128.2 186.3 L128.2 169.8 Q133 176 138.9 186.3Z" fill="#000"/>
<path d="M143.6 186.3 Q148 175 153.6 165.8 L153.6 186.3Z" fill="#000"/>
<path d="M77.2 55.4h1.8v1.8h-1.8zM62.2 105.2h1.8v1.8h-1.8zM84.5 115.8h1.8v1.8h-1.8zM79.3 127.0h1.8v1.8h-1.8zM77.7 134.6h1.8v1.8h-1.8zM79.3 140.3h1.8v1.8h-1.8zM85.0 67.0h1.8v1.8h-1.8zM86.0 71.8h1.8v1.8h-1.8zM88.2 116.8h1.8v1.8h-1.8z" fill="#f00"/>
<path d="M184.2 59.2h1.8v1.8h-1.8zM205.2 69.8h1.8v1.8h-1.8zM186.2 93.2h1.8v1.8h-1.8zM185.2 137.2h1.8v1.8h-1.8zM190.4 164.4h1.8v1.8h-1.8zM184.8 170.8h1.8v1.8h-1.8z" fill="#22f"/>
<text x="64.80" y="54.55" font-size="7.4" fill="#222">DPYSL3</text>
<text x="51.80" y="104.05" font-size="7.4" fill="#222">RGS4</text>
<text x="58.40" y="115.25" font-size="7.4" fill="#222">RB1CC1</text>
<text x="56.40" y="129.45" font-size="7.4" fill="#222">ALPK2</text>
<text x="48.10" y="138.25" font-size="7.4" fill="#222">GABRA4</text>
<text x="56.00" y="147.45" font-size="7.4" fill="#222">UPK1B</text>
<text x="178.40" y="57.45" font-size="7.4" fill="#222">LYZ</text>
<text x="209.70" y="73.55" font-size="7.4" fill="#222">CPS1</text>
<text x="190.00" y="96.25" font-size="7.4" fill="#222">PLG</text>
<text x="188.70" y="142.55" font-size="7.4" fill="#222">DCDC5</text>
<text x="194.00" y="168.55" font-size="7.4" fill="#222">HAGLR</text>
<text x="187.70" y="177.15" font-size="7.4" fill="#222">BHMT</text>
<text x="274.50" y="17.85" font-size="10.2" textLength="215.5" lengthAdjust="spacingAndGlyphs">Hallmarks positively correlated with L1 by GSEA</text>
<rect x="265.30" y="27.60" width="250.40" height="14.00" fill="#c0c0c0"/>
<rect x="265.30" y="25.00" width="250.40" height="2.70" fill="#000"/>
<rect x="265.30" y="187.00" width="250.40" height="2.70" fill="#000"/>
<text x="272.60" y="37.52" font-size="10.1" font-weight="bold">GENE SET NAME</text>
<text x="477.90" y="37.32" font-size="10.1" font-weight="bold">NES</text>
<text x="272.60" y="54.18" font-size="10">Angiogenesis</text>
<text x="477.90" y="54.18" font-size="10">2.57</text>
<text x="272.60" y="70.17" font-size="10">Epithelial_Mesenchymal_Transition</text>
<text x="477.90" y="70.17" font-size="10">2.38</text>
<text x="272.60" y="86.16" font-size="10">Hypoxia</text>
<text x="477.90" y="86.16" font-size="10">2.28</text>
<text x="272.60" y="102.15" font-size="10">Myogenesis</text>
<text x="477.90" y="102.15" font-size="10">2.23</text>
<text x="272.60" y="118.14" font-size="10">UV_Response_DN</text>
<text x="477.90" y="118.14" font-size="10">1.61</text>
<text x="272.60" y="134.13" font-size="10">Apical_Surface</text>
<text x="477.90" y="134.13" font-size="10">1.52</text>
<text x="272.60" y="150.12" font-size="10">Apical_Junction</text>
<text x="477.90" y="150.12" font-size="10">1.51</text>
<text x="272.60" y="166.11" font-size="10">TGF_Beta_Signaling</text>
<text x="477.90" y="166.11" font-size="10">1.51</text>
<text x="272.60" y="182.10" font-size="10">KRAS Signalig DN</text>
<text x="477.90" y="182.10" font-size="10">1.37</text>
<rect x="571.0" y="20.6" width="112.79999999999995" height="67.6" fill="#fff" stroke="#dadada" stroke-width="0.7"/>
<line x1="612.50" y1="20.60" x2="612.50" y2="71.50" stroke="#f5f5f5" stroke-width="0.5"/>
<line x1="634.20" y1="20.60" x2="634.20" y2="71.50" stroke="#f5f5f5" stroke-width="0.5"/>
<line x1="655.60" y1="20.60" x2="655.60" y2="71.50" stroke="#f5f5f5" stroke-width="0.5"/>
<line x1="571.00" y1="22.90" x2="683.80" y2="22.90" stroke="#f5f5f5" stroke-width="0.5"/>
<line x1="571.00" y1="29.57" x2="683.80" y2="29.57" stroke="#f5f5f5" stroke-width="0.5"/>
<line x1="571.00" y1="36.24" x2="683.80" y2="36.24" stroke="#f5f5f5" stroke-width="0.5"/>
<line x1="571.00" y1="42.91" x2="683.80" y2="42.91" stroke="#f5f5f5" stroke-width="0.5"/>
<line x1="571.00" y1="49.58" x2="683.80" y2="49.58" stroke="#f5f5f5" stroke-width="0.5"/>
<line x1="571.00" y1="56.25" x2="683.80" y2="56.25" stroke="#f5f5f5" stroke-width="0.5"/>
<line x1="571.00" y1="62.92" x2="683.80" y2="62.92" stroke="#f5f5f5" stroke-width="0.5"/>
<line x1="571.00" y1="69.59" x2="683.80" y2="69.59" stroke="#f5f5f5" stroke-width="0.5"/>
<line x1="571.00" y1="71.50" x2="683.80" y2="71.50" stroke="#cfcfcf" stroke-width="0.7"/>
<line x1="571.00" y1="22.90" x2="683.80" y2="22.90" stroke="#c4c4c4" stroke-width="0.7"/>
<text x="567.80" y="24.58" font-size="4.7" text-anchor="end" fill="#333">0.0</text>
<text x="567.80" y="31.25" font-size="4.7" text-anchor="end" fill="#333">−0.1</text>
<text x="567.80" y="37.92" font-size="4.7" text-anchor="end" fill="#333">−0.2</text>
<text x="567.80" y="44.59" font-size="4.7" text-anchor="end" fill="#333">−0.3</text>
<text x="567.80" y="51.26" font-size="4.7" text-anchor="end" fill="#333">−0.4</text>
<text x="567.80" y="57.93" font-size="4.7" text-anchor="end" fill="#333">−0.5</text>
<text x="567.80" y="64.60" font-size="4.7" text-anchor="end" fill="#333">−0.6</text>
<text x="567.80" y="71.27" font-size="4.7" text-anchor="end" fill="#333">−0.7</text>
<g style="filter:blur(0.45px)">
<rect x="576.25" y="72.10" width="0.90" height="15.70" fill="rgb(130,130,130)"/>
<rect x="585.05" y="72.10" width="0.90" height="15.70" fill="rgb(130,130,130)"/>
<rect x="614.15" y="72.10" width="0.90" height="15.70" fill="rgb(130,130,130)"/>
<rect x="642.15" y="72.10" width="0.90" height="15.70" fill="rgb(180,180,180)"/>
<rect x="643.35" y="72.10" width="0.90" height="15.70" fill="rgb(170,170,170)"/>
<rect x="644.75" y="72.10" width="0.90" height="15.70" fill="rgb(140,140,140)"/>
<rect x="645.65" y="72.10" width="0.90" height="15.70" fill="rgb(90,90,90)"/>
<rect x="646.55" y="72.10" width="0.90" height="15.70" fill="rgb(150,150,150)"/>
<rect x="647.75" y="72.10" width="0.90" height="15.70" fill="rgb(130,130,130)"/>
<rect x="653.05" y="72.10" width="0.90" height="15.70" fill="rgb(120,120,120)"/>
<rect x="657.05" y="72.10" width="0.90" height="15.70" fill="rgb(110,110,110)"/>
<rect x="657.95" y="72.10" width="0.90" height="15.70" fill="rgb(70,70,70)"/>
<rect x="661.45" y="72.10" width="0.90" height="15.70" fill="rgb(60,60,60)"/>
<rect x="667.55" y="72.10" width="0.90" height="15.70" fill="rgb(120,120,120)"/>
<rect x="668.75" y="72.10" width="0.90" height="15.70" fill="rgb(110,110,110)"/>
<rect x="671.75" y="72.10" width="0.90" height="15.70" fill="rgb(120,120,120)"/>
<rect x="673.15" y="72.10" width="0.90" height="15.70" fill="rgb(60,60,60)"/>
<rect x="676.65" y="72.10" width="0.90" height="15.70" fill="rgb(150,150,150)"/>
<rect x="678.05" y="72.10" width="0.90" height="15.70" fill="rgb(70,70,70)"/>
</g>
<line x1="571.00" y1="88.20" x2="683.80" y2="88.20" stroke="#d0d0d0" stroke-width="0.7"/>
<rect x="571.10" y="88.50" width="3.40" height="4.20" fill="#e43040"/>
<rect x="574.50" y="88.50" width="29.40" height="4.20" fill="#f6424e"/>
<rect x="603.90" y="88.50" width="16.60" height="4.20" fill="#f06a7a"/>
<rect x="620.50" y="88.50" width="14.90" height="4.20" fill="#f28a92"/>
<rect x="635.40" y="88.50" width="13.20" height="4.20" fill="#f6bce6"/>
<rect x="648.60" y="88.50" width="6.40" height="4.20" fill="#d4d4f8"/>
<rect x="655.00" y="88.50" width="9.50" height="4.20" fill="#c4c4f6"/>
<rect x="664.50" y="88.50" width="4.50" height="4.20" fill="#8888f0"/>
<rect x="669.00" y="88.50" width="5.60" height="4.20" fill="#6464ee"/>
<rect x="674.60" y="88.50" width="4.30" height="4.20" fill="#1414cc"/>
<polyline points="571.0,22.9 576.0,26.0 576.8,22.4 584.6,27.7 585.9,25.5 613.8,42.8 614.7,41.4 642.0,58.4 656.7,66.2 659.5,66.6 661.3,67.5 663.1,65.8 666.8,68.8 669.5,65.7 671.3,66.9 673.1,63.8 674.0,57.8 675.3,58.4 676.8,52.9 677.7,52.0 678.2,31.9 678.6,22.6" fill="none" stroke="#33ee33" stroke-width="1.4" stroke-linejoin="round"/>
<rect x="571.0" y="108.8" width="112.79999999999995" height="65.10000000000001" fill="#fff" stroke="#dadada" stroke-width="0.7"/>
<line x1="612.50" y1="108.80" x2="612.50" y2="158.30" stroke="#f5f5f5" stroke-width="0.5"/>
<line x1="634.20" y1="108.80" x2="634.20" y2="158.30" stroke="#f5f5f5" stroke-width="0.5"/>
<line x1="655.60" y1="108.80" x2="655.60" y2="158.30" stroke="#f5f5f5" stroke-width="0.5"/>
<line x1="571.00" y1="113.90" x2="683.80" y2="113.90" stroke="#f5f5f5" stroke-width="0.5"/>
<line x1="571.00" y1="121.20" x2="683.80" y2="121.20" stroke="#f5f5f5" stroke-width="0.5"/>
<line x1="571.00" y1="128.50" x2="683.80" y2="128.50" stroke="#f5f5f5" stroke-width="0.5"/>
<line x1="571.00" y1="135.80" x2="683.80" y2="135.80" stroke="#f5f5f5" stroke-width="0.5"/>
<line x1="571.00" y1="143.10" x2="683.80" y2="143.10" stroke="#f5f5f5" stroke-width="0.5"/>
<line x1="571.00" y1="150.40" x2="683.80" y2="150.40" stroke="#f5f5f5" stroke-width="0.5"/>
<line x1="571.00" y1="158.30" x2="683.80" y2="158.30" stroke="#cfcfcf" stroke-width="0.7"/>
<line x1="571.00" y1="121.20" x2="683.80" y2="121.20" stroke="#c4c4c4" stroke-width="0.7"/>
<text x="567.80" y="115.58" font-size="4.7" text-anchor="end" fill="#333">0.1</text>
<text x="567.80" y="122.88" font-size="4.7" text-anchor="end" fill="#333">0.0</text>
<text x="567.80" y="130.18" font-size="4.7" text-anchor="end" fill="#333">−0.1</text>
<text x="567.80" y="137.48" font-size="4.7" text-anchor="end" fill="#333">−0.2</text>
<text x="567.80" y="144.78" font-size="4.7" text-anchor="end" fill="#333">−0.3</text>
<text x="567.80" y="152.08" font-size="4.7" text-anchor="end" fill="#333">−0.4</text>
<g style="filter:blur(0.45px)">
<rect x="571.13" y="158.90" width="2.28" height="14.60" fill="rgb(60,60,60)"/>
<rect x="574.11" y="158.90" width="1.05" height="14.60" fill="rgb(190,190,190)"/>
<rect x="575.86" y="158.90" width="1.40" height="14.60" fill="rgb(170,170,170)"/>
<rect x="577.61" y="158.90" width="1.05" height="14.60" fill="rgb(200,200,200)"/>
<rect x="579.89" y="158.90" width="1.23" height="14.60" fill="rgb(60,60,60)"/>
<rect x="581.99" y="158.90" width="0.53" height="14.60" fill="rgb(180,180,180)"/>
<rect x="583.22" y="158.90" width="1.05" height="14.60" fill="rgb(160,160,160)"/>
<rect x="585.15" y="158.90" width="0.88" height="14.60" fill="rgb(180,180,180)"/>
<rect x="586.90" y="158.90" width="0.88" height="14.60" fill="rgb(190,190,190)"/>
<rect x="588.65" y="158.90" width="0.88" height="14.60" fill="rgb(170,170,170)"/>
<rect x="590.93" y="158.90" width="1.23" height="14.60" fill="rgb(90,90,90)"/>
<rect x="593.03" y="158.90" width="0.53" height="14.60" fill="rgb(190,190,190)"/>
<rect x="596.18" y="158.90" width="1.05" height="14.60" fill="rgb(180,180,180)"/>
<rect x="598.64" y="158.90" width="1.05" height="14.60" fill="rgb(170,170,170)"/>
<rect x="601.79" y="158.90" width="2.10" height="14.60" fill="rgb(190,190,190)"/>
<rect x="604.94" y="158.90" width="1.23" height="14.60" fill="rgb(180,180,180)"/>
<rect x="607.05" y="158.90" width="0.88" height="14.60" fill="rgb(190,190,190)"/>
<rect x="608.80" y="158.90" width="0.88" height="14.60" fill="rgb(200,200,200)"/>
<rect x="610.90" y="158.90" width="1.05" height="14.60" fill="rgb(190,190,190)"/>
<rect x="612.83" y="158.90" width="0.88" height="14.60" fill="rgb(200,200,200)"/>
<rect x="615.81" y="158.90" width="0.88" height="14.60" fill="rgb(190,190,190)"/>
<rect x="618.43" y="158.90" width="0.88" height="14.60" fill="rgb(200,200,200)"/>
<rect x="621.41" y="158.90" width="1.05" height="14.60" fill="rgb(190,190,190)"/>
<rect x="624.57" y="158.90" width="0.88" height="14.60" fill="rgb(200,200,200)"/>
<rect x="627.19" y="158.90" width="0.88" height="14.60" fill="rgb(190,190,190)"/>
<rect x="630.70" y="158.90" width="0.88" height="14.60" fill="rgb(210,210,210)"/>
<rect x="633.68" y="158.90" width="1.05" height="14.60" fill="rgb(225,225,225)"/>
<rect x="635.95" y="158.90" width="1.23" height="14.60" fill="rgb(210,210,210)"/>
<rect x="638.58" y="158.90" width="1.40" height="14.60" fill="rgb(170,170,170)"/>
<rect x="641.73" y="158.90" width="1.23" height="14.60" fill="rgb(50,50,50)"/>
<rect x="644.19" y="158.90" width="1.05" height="14.60" fill="rgb(170,170,170)"/>
<rect x="647.34" y="158.90" width="0.88" height="14.60" fill="rgb(160,160,160)"/>
<rect x="649.44" y="158.90" width="1.05" height="14.60" fill="rgb(150,150,150)"/>
<rect x="651.72" y="158.90" width="0.88" height="14.60" fill="rgb(140,140,140)"/>
<rect x="654.00" y="158.90" width="1.23" height="14.60" fill="rgb(150,150,150)"/>
<rect x="656.10" y="158.90" width="0.88" height="14.60" fill="rgb(90,90,90)"/>
<rect x="657.85" y="158.90" width="1.75" height="14.60" fill="rgb(60,60,60)"/>
<rect x="660.48" y="158.90" width="2.63" height="14.60" fill="rgb(150,150,150)"/>
<rect x="663.11" y="158.90" width="2.63" height="14.60" fill="rgb(90,90,90)"/>
<rect x="665.74" y="158.90" width="2.63" height="14.60" fill="rgb(140,140,140)"/>
<rect x="668.36" y="158.90" width="1.75" height="14.60" fill="rgb(160,160,160)"/>
<rect x="670.99" y="158.90" width="1.23" height="14.60" fill="rgb(40,40,40)"/>
<rect x="672.22" y="158.90" width="1.40" height="14.60" fill="rgb(70,70,70)"/>
<rect x="674.50" y="158.90" width="1.23" height="14.60" fill="rgb(20,20,20)"/>
<rect x="676.25" y="158.90" width="2.28" height="14.60" fill="rgb(15,15,15)"/>
</g>
<line x1="571.00" y1="173.90" x2="683.80" y2="173.90" stroke="#d0d0d0" stroke-width="0.7"/>
<rect x="571.10" y="174.20" width="3.40" height="3.60" fill="#e43040"/>
<rect x="574.50" y="174.20" width="29.40" height="3.60" fill="#f6424e"/>
<rect x="603.90" y="174.20" width="16.60" height="3.60" fill="#f06a7a"/>
<rect x="620.50" y="174.20" width="14.90" height="3.60" fill="#f28a92"/>
<rect x="635.40" y="174.20" width="13.20" height="3.60" fill="#f6bce6"/>
<rect x="648.60" y="174.20" width="6.40" height="3.60" fill="#d4d4f8"/>
<rect x="655.00" y="174.20" width="9.50" height="3.60" fill="#c4c4f6"/>
<rect x="664.50" y="174.20" width="4.50" height="3.60" fill="#8888f0"/>
<rect x="669.00" y="174.20" width="5.60" height="3.60" fill="#6464ee"/>
<rect x="674.60" y="174.20" width="4.30" height="3.60" fill="#1414cc"/>
<polyline points="571.0,120.9 571.9,115.1 574.6,112.3 578.2,112.0 580.0,112.9 582.8,111.8 592.8,116.0 602.0,120.5 614.7,127.8 633.0,139.7 651.2,150.7 658.5,154.3 662.2,155.2 669.5,154.9 672.2,149.7 675.0,143.4 676.8,137.0 678.2,126.9 679.0,120.9" fill="none" stroke="#33ee33" stroke-width="1.4" stroke-linejoin="round"/>
<text x="571.20" y="18.00" font-size="4.6" font-weight="bold" fill="#222" textLength="94.8" lengthAdjust="spacingAndGlyphs">Enrichment plot: HALLMARK_ANGIOGENESIS</text>
<text x="608.90" y="101.50" font-size="4.6" font-weight="bold" fill="#222" textLength="34.1" lengthAdjust="spacingAndGlyphs">Enrichment plot:</text>
<text x="567.30" y="106.70" font-size="4.6" font-weight="bold" fill="#222" textLength="116.5" lengthAdjust="spacingAndGlyphs">HALLMARK_EPITHELIAL_MESENCHYMAL_TRANSITION</text>
<text transform="translate(555.2,67.6) rotate(-90)" font-size="4" font-weight="bold" fill="#444" textLength="43" lengthAdjust="spacingAndGlyphs">Enrichment score (ES)</text>
<text transform="translate(555.2,155.2) rotate(-90)" font-size="4" font-weight="bold" fill="#444" textLength="43" lengthAdjust="spacingAndGlyphs">Enrichment score (ES)</text>
<text x="630.9" y="36.0" font-size="9.2" fill="#222" textLength="33.7" lengthAdjust="spacingAndGlyphs"><tspan font-style="italic">P</tspan> &lt;0.001</text>
<text x="632" y="123.0" font-size="9.2" fill="#222" textLength="34" lengthAdjust="spacingAndGlyphs"><tspan font-style="italic">P</tspan> &lt;0.001</text>
<text transform="translate(544,86.4) rotate(-90)" font-size="10.5" textLength="60.5" lengthAdjust="spacingAndGlyphs">Angiogenesis</text>
<text transform="translate(543.5,153) rotate(-90)" font-size="10.5" textLength="20" lengthAdjust="spacingAndGlyphs">EMT</text>
<text x="557.80" y="191.06" font-size="10.5" textLength="24.6" lengthAdjust="spacingAndGlyphs">L1KD</text>
<text x="684.00" y="191.06" font-size="10.5" text-anchor="end">NT</text>
<text x="77.30" y="284.95" font-size="10.2" text-anchor="end">SMAD3</text>
<text x="77.30" y="297.05" font-size="10.2" text-anchor="end">(48 kDa)</text>
<text x="77.30" y="314.45" font-size="10.2" text-anchor="end">L1ORF1p</text>
<text x="77.30" y="326.35" font-size="10.2" text-anchor="end">(40 kDa)</text>
<text x="77.30" y="346.55" font-size="10.2" text-anchor="end">GAPDH</text>
<text x="77.30" y="358.85" font-size="10.2" text-anchor="end">(36 kDa)</text>
<defs><filter id="bl2" x="-30%" y="-80%" width="160%" height="260%"><feGaussianBlur stdDeviation="2"/></filter><filter id="bl3" x="-30%" y="-80%" width="160%" height="260%"><feGaussianBlur stdDeviation="3"/></filter><filter id="bl1" x="-30%" y="-80%" width="160%" height="260%"><feGaussianBlur stdDeviation="1.2"/></filter><clipPath id="s1"><rect x="82.7" y="272.7" width="141.8" height="28.9"/></clipPath><clipPath id="s2"><rect x="82.7" y="303.1" width="141.8" height="27.8"/></clipPath><clipPath id="s3"><rect x="82.7" y="332.9" width="141.8" height="33.8"/></clipPath></defs>
<rect x="82.70" y="272.70" width="141.80" height="28.90" fill="#888"/>
<rect x="82.70" y="303.10" width="141.80" height="27.80" fill="#858585"/>
<rect x="82.70" y="332.90" width="141.80" height="33.80" fill="#767676"/>
<g clip-path="url(#s1)"><rect x="88.8" y="287.95" width="37.2" height="8.5" rx="3.4" fill="#363636" style="filter:blur(2.2px)"/></g>
<g clip-path="url(#s1)"><rect x="135.8" y="288.25" width="34.0" height="7.5" rx="3.0" fill="#484848" style="filter:blur(2.2px)"/></g>
<g clip-path="url(#s1)"><rect x="181.8" y="289.3" width="35.099999999999994" height="5" rx="2.0" fill="#727272" style="filter:blur(2.2px)"/></g>
<g clip-path="url(#s2)"><rect x="85.5" y="316.8" width="38.5" height="10" rx="4.0" fill="#2c2c2c" style="filter:blur(2.2px)"/></g>
<g clip-path="url(#s2)"><rect x="129.9" y="316.7" width="37.400000000000006" height="9" rx="3.6" fill="#2f2f2f" style="filter:blur(2.2px)"/></g>
<g clip-path="url(#s2)"><rect x="179" y="318.5" width="32.69999999999999" height="4" rx="1.6" fill="#808080" style="filter:blur(2px)"/></g>
<g clip-path="url(#s3)"><rect x="86" y="336.0" width="43" height="9" rx="3.6" fill="#5e5e5e" style="filter:blur(3px)"/></g>
<g clip-path="url(#s3)"><rect x="134" y="336.0" width="41" height="9" rx="3.6" fill="#626262" style="filter:blur(3px)"/></g>
<g clip-path="url(#s3)"><rect x="181" y="336.0" width="38" height="9" rx="3.6" fill="#666" style="filter:blur(3px)"/></g>
<g clip-path="url(#s3)"><rect x="80" y="347.0" width="146" height="12" rx="4.8" fill="#4a4a4a" style="filter:blur(2.5px)"/></g>
<g clip-path="url(#s3)"><rect x="82.5" y="346.45" width="48.5" height="13.5" rx="5.4" fill="#262626" style="filter:blur(2.0px)"/></g>
<g clip-path="url(#s3)"><rect x="132.5" y="346.7" width="45.0" height="13" rx="5.2" fill="#282828" style="filter:blur(2.0px)"/></g>
<g clip-path="url(#s3)"><rect x="179.5" y="346.25" width="42.0" height="12.5" rx="5.0" fill="#2c2c2c" style="filter:blur(2.0px)"/></g>
<text x="106.70" y="284.29" font-size="9.2" text-anchor="middle" fill="#111">1</text>
<text x="151.20" y="284.29" font-size="9.2" text-anchor="middle" fill="#111">0.80</text>
<text x="198.90" y="284.29" font-size="9.2" text-anchor="middle" fill="#111">0.34</text>
<text x="107.00" y="380.08" font-size="10" text-anchor="middle">WT</text>
<text x="151.60" y="380.08" font-size="10" text-anchor="middle">NT</text>
<text x="198.80" y="380.08" font-size="10" text-anchor="middle">L1KD</text>
<line x1="297.20" y1="264.60" x2="297.20" y2="372.20" stroke="#333" stroke-width="1.0"/>
<line x1="294.80" y1="372.20" x2="297.20" y2="372.20" stroke="#333" stroke-width="1.0"/>
<text x="292.80" y="375.64" font-size="9.6" text-anchor="end">0</text>
<line x1="294.80" y1="350.80" x2="297.20" y2="350.80" stroke="#333" stroke-width="1.0"/>
<text x="292.80" y="354.24" font-size="9.6" text-anchor="end">2</text>
<line x1="294.80" y1="329.40" x2="297.20" y2="329.40" stroke="#333" stroke-width="1.0"/>
<text x="292.80" y="332.84" font-size="9.6" text-anchor="end">4</text>
<line x1="294.80" y1="308.00" x2="297.20" y2="308.00" stroke="#333" stroke-width="1.0"/>
<text x="292.80" y="311.44" font-size="9.6" text-anchor="end">6</text>
<line x1="294.80" y1="286.60" x2="297.20" y2="286.60" stroke="#333" stroke-width="1.0"/>
<text x="292.80" y="290.04" font-size="9.6" text-anchor="end">8</text>
<line x1="294.80" y1="265.20" x2="297.20" y2="265.20" stroke="#333" stroke-width="1.0"/>
<text x="292.80" y="268.64" font-size="9.6" text-anchor="end">10</text>
<rect x="305.7" y="293.5" width="24.9" height="78.7" fill="#fff" stroke="#000" stroke-width="2"/>
<rect x="346.2" y="312.1" width="25.5" height="60.1" fill="#636363" stroke="#000" stroke-width="2"/>
<rect x="386.25" y="346.90" width="27.75" height="25.30" fill="#000"/>
<line x1="318.20" y1="278.40" x2="318.20" y2="292.50" stroke="#333" stroke-width="1.3"/>
<line x1="311.40" y1="278.40" x2="325.00" y2="278.40" stroke="#333" stroke-width="1.5"/>
<line x1="359.00" y1="289.20" x2="359.00" y2="311.10" stroke="#333" stroke-width="1.3"/>
<line x1="352.20" y1="289.20" x2="365.80" y2="289.20" stroke="#333" stroke-width="1.5"/>
<line x1="400.00" y1="334.70" x2="400.00" y2="346.90" stroke="#333" stroke-width="1.3"/>
<line x1="393.20" y1="334.70" x2="406.80" y2="334.70" stroke="#333" stroke-width="1.5"/>
<line x1="295.90" y1="372.20" x2="421.00" y2="372.20" stroke="#000" stroke-width="2"/>
<line x1="318.30" y1="372.20" x2="318.30" y2="375.30" stroke="#555" stroke-width="1"/>
<line x1="359.00" y1="372.20" x2="359.00" y2="375.30" stroke="#555" stroke-width="1"/>
<line x1="400.00" y1="372.20" x2="400.00" y2="375.30" stroke="#555" stroke-width="1"/>
<path d="M323.75 267H368.3M346.7 267V247.8H403.9V325.5" fill="none" stroke="#000" stroke-width="2"/>
<text x="376.90" y="247.36" font-size="8" text-anchor="middle">*</text>
<text x="318.30" y="388.38" font-size="10" text-anchor="middle">WT</text>
<text x="359.00" y="388.38" font-size="10" text-anchor="middle">NT</text>
<text x="400.00" y="388.38" font-size="10" text-anchor="middle">L1KD</text>
<text transform="translate(271.9,359.8) rotate(-90)" font-size="10.1">PAI1 RLU (× 10<tspan font-size="7" dy="-4">−2</tspan><tspan dy="4">)</tspan></text>
<line x1="510.30" y1="261.80" x2="510.30" y2="375.00" stroke="#000" stroke-width="1.5"/>
<line x1="506.00" y1="374.20" x2="510.30" y2="374.20" stroke="#000" stroke-width="1.3"/>
<text x="501.30" y="377.78" font-size="10" text-anchor="end">0</text>
<line x1="506.00" y1="351.84" x2="510.30" y2="351.84" stroke="#000" stroke-width="1.3"/>
<text x="501.30" y="355.42" font-size="10" text-anchor="end">20</text>
<line x1="506.00" y1="329.48" x2="510.30" y2="329.48" stroke="#000" stroke-width="1.3"/>
<text x="501.30" y="333.06" font-size="10" text-anchor="end">40</text>
<line x1="506.00" y1="307.12" x2="510.30" y2="307.12" stroke="#000" stroke-width="1.3"/>
<text x="501.30" y="310.70" font-size="10" text-anchor="end">60</text>
<line x1="506.00" y1="284.76" x2="510.30" y2="284.76" stroke="#000" stroke-width="1.3"/>
<text x="501.30" y="288.34" font-size="10" text-anchor="end">80</text>
<line x1="506.00" y1="262.40" x2="510.30" y2="262.40" stroke="#000" stroke-width="1.3"/>
<text x="501.30" y="265.98" font-size="10" text-anchor="end">100</text>
<line x1="509.60" y1="374.20" x2="666.50" y2="374.20" stroke="#000" stroke-width="1.5"/>
<line x1="510.50" y1="374.20" x2="510.50" y2="378.00" stroke="#000" stroke-width="1.3"/>
<text x="510.50" y="389.58" font-size="10" text-anchor="middle">0</text>
<line x1="525.48" y1="374.20" x2="525.48" y2="378.00" stroke="#000" stroke-width="1.3"/>
<text x="525.48" y="389.58" font-size="10" text-anchor="middle">1</text>
<line x1="540.46" y1="374.20" x2="540.46" y2="378.00" stroke="#000" stroke-width="1.3"/>
<text x="540.46" y="389.58" font-size="10" text-anchor="middle">2</text>
<line x1="555.44" y1="374.20" x2="555.44" y2="378.00" stroke="#000" stroke-width="1.3"/>
<text x="555.44" y="389.58" font-size="10" text-anchor="middle">3</text>
<line x1="570.42" y1="374.20" x2="570.42" y2="378.00" stroke="#000" stroke-width="1.3"/>
<text x="570.42" y="389.58" font-size="10" text-anchor="middle">4</text>
<line x1="585.40" y1="374.20" x2="585.40" y2="378.00" stroke="#000" stroke-width="1.3"/>
<text x="585.40" y="389.58" font-size="10" text-anchor="middle">5</text>
<line x1="600.38" y1="374.20" x2="600.38" y2="378.00" stroke="#000" stroke-width="1.3"/>
<text x="600.38" y="389.58" font-size="10" text-anchor="middle">6</text>
<line x1="615.36" y1="374.20" x2="615.36" y2="378.00" stroke="#000" stroke-width="1.3"/>
<text x="615.36" y="389.58" font-size="10" text-anchor="middle">7</text>
<line x1="630.34" y1="374.20" x2="630.34" y2="378.00" stroke="#000" stroke-width="1.3"/>
<text x="630.34" y="389.58" font-size="10" text-anchor="middle">8</text>
<line x1="645.32" y1="374.20" x2="645.32" y2="378.00" stroke="#000" stroke-width="1.3"/>
<text x="645.32" y="389.58" font-size="10" text-anchor="middle">9</text>
<line x1="660.30" y1="374.20" x2="660.30" y2="378.00" stroke="#000" stroke-width="1.3"/>
<text x="660.30" y="389.58" font-size="10" text-anchor="middle">10</text>
<text x="592.20" y="405.58" font-size="10" text-anchor="middle">Time (days)</text>
<text transform="translate(476.6,348.6) rotate(-90)" font-size="10">% Confluence</text>
<text x="534.30" y="279.52" font-size="9" fill="#1a1aff">NT</text>
<text x="557.20" y="279.52" font-size="9" fill="#ff1a1a">L1KD</text>
<path d="M647.6 261H651.2V295H647.6M651.2 278H660.5M647.6 338H651.2V372.7H647.6M651.2 355H660.5" fill="none" stroke="#000" stroke-width="1.5"/>
<text transform="translate(673,278) rotate(-90)" font-size="10" text-anchor="middle">Untreated</text>
<text transform="translate(673,355) rotate(-90)" font-size="10" text-anchor="middle">+TGFβ</text>
<path d="M513.8 363.6V365.8M512.9 363.6h1.8M512.9 365.8h1.8M517.5 362.9V365.2M516.6 362.9h1.8M516.6 365.2h1.8M521.3 362.3V364.6M520.4 362.3h1.8M520.4 364.6h1.8M525.0 360.9V363.3M524.1 360.9h1.8M524.1 363.3h1.8M528.8 359.3V361.9M527.9 359.3h1.8M527.9 361.9h1.8M532.5 358.1V361.0M531.6 358.1h1.8M531.6 361.0h1.8M536.3 356.4V359.6M535.4 356.4h1.8M535.4 359.6h1.8M540.0 354.4V358.0M539.1 354.4h1.8M539.1 358.0h1.8M543.8 352.5V356.4M542.9 352.5h1.8M542.9 356.4h1.8M547.5 350.4V354.4M546.6 350.4h1.8M546.6 354.4h1.8M551.2 347.9V351.8M550.3 347.9h1.8M550.3 351.8h1.8M555.0 345.5V349.2M554.1 345.5h1.8M554.1 349.2h1.8M558.7 342.7V346.0M557.8 342.7h1.8M557.8 346.0h1.8M562.5 339.4V342.4M561.6 339.4h1.8M561.6 342.4h1.8M566.2 335.9V338.7M565.3 335.9h1.8M565.3 338.7h1.8M570.0 332.7V335.3M569.1 332.7h1.8M569.1 335.3h1.8M573.7 328.4V331.0M572.8 328.4h1.8M572.8 331.0h1.8M577.5 324.4V327.1M576.6 324.4h1.8M576.6 327.1h1.8M581.2 319.5V322.4M580.3 319.5h1.8M580.3 322.4h1.8M585.0 315.1V318.3M584.1 315.1h1.8M584.1 318.3h1.8M588.7 310.4V313.9M587.8 310.4h1.8M587.8 313.9h1.8M592.4 306.2V310.3M591.5 306.2h1.8M591.5 310.3h1.8M596.2 301.2V305.7M595.3 301.2h1.8M595.3 305.7h1.8M599.9 296.7V301.7M599.0 296.7h1.8M599.0 301.7h1.8M603.7 292.1V297.5M602.8 292.1h1.8M602.8 297.5h1.8M607.4 288.4V294.1M606.5 288.4h1.8M606.5 294.1h1.8M611.2 284.9V290.7M610.3 284.9h1.8M610.3 290.7h1.8M614.9 281.8V287.5M614.0 281.8h1.8M614.0 287.5h1.8M618.7 279.1V284.6M617.8 279.1h1.8M617.8 284.6h1.8M622.4 276.9V282.1M621.5 276.9h1.8M621.5 282.1h1.8M626.1 275.2V280.0M625.2 275.2h1.8M625.2 280.0h1.8M629.9 273.3V277.6M629.0 273.3h1.8M629.0 277.6h1.8M633.6 272.1V276.0M632.7 272.1h1.8M632.7 276.0h1.8M637.4 271.3V274.7M636.5 271.3h1.8M636.5 274.7h1.8M641.1 270.7V273.8M640.2 270.7h1.8M640.2 273.8h1.8M513.8 366.1V369.7M512.9 366.1h1.8M512.9 369.7h1.8M517.5 365.5V369.1M516.6 365.5h1.8M516.6 369.1h1.8M521.3 364.9V368.5M520.4 364.9h1.8M520.4 368.5h1.8M525.0 363.9V367.5M524.1 363.9h1.8M524.1 367.5h1.8M528.8 363.3V367.0M527.9 363.3h1.8M527.9 367.0h1.8M532.5 362.1V366.0M531.6 362.1h1.8M531.6 366.0h1.8M536.3 361.1V365.1M535.4 361.1h1.8M535.4 365.1h1.8M540.0 359.8V364.0M539.1 359.8h1.8M539.1 364.0h1.8M543.8 358.1V362.6M542.9 358.1h1.8M542.9 362.6h1.8M547.5 356.4V361.4M546.6 356.4h1.8M546.6 361.4h1.8M551.2 354.6V360.1M550.3 354.6h1.8M550.3 360.1h1.8M555.0 352.0V358.2M554.1 352.0h1.8M554.1 358.2h1.8M558.7 349.0V356.0M557.8 349.0h1.8M557.8 356.0h1.8M562.5 346.3V354.1M561.6 346.3h1.8M561.6 354.1h1.8M566.2 342.9V351.6M565.3 342.9h1.8M565.3 351.6h1.8M570.0 339.4V349.1M569.1 339.4h1.8M569.1 349.1h1.8M573.7 335.8V346.4M572.8 335.8h1.8M572.8 346.4h1.8M577.5 331.9V343.3M576.6 331.9h1.8M576.6 343.3h1.8M581.2 327.9V340.0M580.3 327.9h1.8M580.3 340.0h1.8M585.0 324.3V336.7M584.1 324.3h1.8M584.1 336.7h1.8M588.7 320.3V332.8M587.8 320.3h1.8M587.8 332.8h1.8M592.4 316.5V328.8M591.5 316.5h1.8M591.5 328.8h1.8M596.2 312.3V324.3M595.3 312.3h1.8M595.3 324.3h1.8M599.9 308.7V320.0M599.0 308.7h1.8M599.0 320.0h1.8M603.7 304.9V315.4M602.8 304.9h1.8M602.8 315.4h1.8M607.4 301.8V311.3M606.5 301.8h1.8M606.5 311.3h1.8M611.2 298.3V306.9M610.3 298.3h1.8M610.3 306.9h1.8M614.9 295.4V303.0M614.0 295.4h1.8M614.0 303.0h1.8M618.7 292.2V299.0M617.8 292.2h1.8M617.8 299.0h1.8M622.4 289.5V295.5M621.5 289.5h1.8M621.5 295.5h1.8M626.1 287.0V292.4M625.2 287.0h1.8M625.2 292.4h1.8M629.9 284.9V289.8M629.0 284.9h1.8M629.0 289.8h1.8M633.6 282.4V286.9M632.7 282.4h1.8M632.7 286.9h1.8M637.4 281.0V285.2M636.5 281.0h1.8M636.5 285.2h1.8M641.1 279.3V283.3M640.2 279.3h1.8M640.2 283.3h1.8M513.8 364.5V366.5M512.9 364.5h1.8M512.9 366.5h1.8M517.5 363.9V365.9M516.6 363.9h1.8M516.6 365.9h1.8M521.3 363.4V365.4M520.4 363.4h1.8M520.4 365.4h1.8M525.0 362.7V364.7M524.1 362.7h1.8M524.1 364.7h1.8M528.8 362.1V364.1M527.9 362.1h1.8M527.9 364.1h1.8M532.5 361.7V363.7M531.6 361.7h1.8M531.6 363.7h1.8M536.3 361.3V363.4M535.4 361.3h1.8M535.4 363.4h1.8M540.0 361.2V363.2M539.1 361.2h1.8M539.1 363.2h1.8M543.8 360.4V362.5M542.9 360.4h1.8M542.9 362.5h1.8M547.5 360.2V362.2M546.6 360.2h1.8M546.6 362.2h1.8M551.2 359.9V361.9M550.3 359.9h1.8M550.3 361.9h1.8M555.0 359.9V361.9M554.1 359.9h1.8M554.1 361.9h1.8M558.7 359.8V361.8M557.8 359.8h1.8M557.8 361.8h1.8M562.5 359.8V361.8M561.6 359.8h1.8M561.6 361.8h1.8M566.2 359.8V361.8M565.3 359.8h1.8M565.3 361.8h1.8M570.0 359.8V361.8M569.1 359.8h1.8M569.1 361.8h1.8M573.7 359.8V361.8M572.8 359.8h1.8M572.8 361.8h1.8M577.5 359.9V361.9M576.6 359.9h1.8M576.6 361.9h1.8M581.2 360.2V362.2M580.3 360.2h1.8M580.3 362.2h1.8M585.0 360.0V362.0M584.1 360.0h1.8M584.1 362.0h1.8M588.7 359.7V362.1M587.8 359.7h1.8M587.8 362.1h1.8M592.4 359.2V362.1M591.5 359.2h1.8M591.5 362.1h1.8M596.2 358.7V362.2M595.3 358.7h1.8M595.3 362.2h1.8M599.9 357.7V362.1M599.0 357.7h1.8M599.0 362.1h1.8M603.7 356.8V361.9M602.8 356.8h1.8M602.8 361.9h1.8M607.4 356.1V362.1M606.5 356.1h1.8M606.5 362.1h1.8M611.2 355.3V362.2M610.3 355.3h1.8M610.3 362.2h1.8M614.9 354.5V362.3M614.0 354.5h1.8M614.0 362.3h1.8M618.7 353.5V362.3M617.8 353.5h1.8M617.8 362.3h1.8M622.4 352.3V362.1M621.5 352.3h1.8M621.5 362.1h1.8M626.1 350.9V361.7M625.2 350.9h1.8M625.2 361.7h1.8M629.9 349.6V361.5M629.0 349.6h1.8M629.0 361.5h1.8M633.6 347.3V360.4M632.7 347.3h1.8M632.7 360.4h1.8M637.4 345.9V360.0M636.5 345.9h1.8M636.5 360.0h1.8M641.1 344.5V359.8M640.2 344.5h1.8M640.2 359.8h1.8M513.8 367.7V369.5M512.9 367.7h1.8M512.9 369.5h1.8M517.5 367.0V368.8M516.6 367.0h1.8M516.6 368.8h1.8M521.3 366.5V368.3M520.4 366.5h1.8M520.4 368.3h1.8M525.0 365.8V367.6M524.1 365.8h1.8M524.1 367.6h1.8M528.8 365.3V367.0M527.9 365.3h1.8M527.9 367.0h1.8M532.5 364.7V366.5M531.6 364.7h1.8M531.6 366.5h1.8M536.3 364.2V366.0M535.4 364.2h1.8M535.4 366.0h1.8M540.0 363.8V365.6M539.1 363.8h1.8M539.1 365.6h1.8M543.8 363.6V365.4M542.9 363.6h1.8M542.9 365.4h1.8M547.5 363.8V365.6M546.6 363.8h1.8M546.6 365.6h1.8M551.2 363.8V365.6M550.3 363.8h1.8M550.3 365.6h1.8M555.0 364.2V366.0M554.1 364.2h1.8M554.1 366.0h1.8M558.7 364.5V366.3M557.8 364.5h1.8M557.8 366.3h1.8M562.5 364.8V366.6M561.6 364.8h1.8M561.6 366.6h1.8M566.2 365.1V366.9M565.3 365.1h1.8M565.3 366.9h1.8M570.0 365.3V367.0M569.1 365.3h1.8M569.1 367.0h1.8M573.7 365.5V367.3M572.8 365.5h1.8M572.8 367.3h1.8M577.5 365.5V367.3M576.6 365.5h1.8M576.6 367.3h1.8M581.2 365.7V367.5M580.3 365.7h1.8M580.3 367.5h1.8M585.0 365.7V367.5M584.1 365.7h1.8M584.1 367.5h1.8M588.7 365.8V367.6M587.8 365.8h1.8M587.8 367.6h1.8M592.4 366.2V367.9M591.5 366.2h1.8M591.5 367.9h1.8M596.2 366.3V368.1M595.3 366.3h1.8M595.3 368.1h1.8M599.9 366.4V368.2M599.0 366.4h1.8M599.0 368.2h1.8M603.7 366.4V368.2M602.8 366.4h1.8M602.8 368.2h1.8M607.4 366.4V368.2M606.5 366.4h1.8M606.5 368.2h1.8M611.2 366.4V368.2M610.3 366.4h1.8M610.3 368.2h1.8M614.9 366.5V368.3M614.0 366.5h1.8M614.0 368.3h1.8M618.7 366.2V367.9M617.8 366.2h1.8M617.8 367.9h1.8M622.4 366.0V367.8M621.5 366.0h1.8M621.5 367.8h1.8M626.1 365.9V367.7M625.2 365.9h1.8M625.2 367.7h1.8M629.9 365.7V367.5M629.0 365.7h1.8M629.0 367.5h1.8M633.6 365.4V367.2M632.7 365.4h1.8M632.7 367.2h1.8M637.4 365.3V367.0M636.5 365.3h1.8M636.5 367.0h1.8M641.1 365.3V367.0M640.2 365.3h1.8M640.2 367.0h1.8" fill="none" stroke="#444" stroke-width="0.7"/>
<g fill="#f21a1a"><circle cx="513.8" cy="368.6" r="1.6"/><circle cx="517.5" cy="367.9" r="1.6"/><circle cx="521.3" cy="367.4" r="1.6"/><circle cx="525.0" cy="366.7" r="1.6"/><circle cx="528.8" cy="366.2" r="1.6"/><circle cx="532.5" cy="365.6" r="1.6"/><circle cx="536.3" cy="365.1" r="1.6"/><circle cx="540.0" cy="364.7" r="1.6"/><circle cx="543.8" cy="364.5" r="1.6"/><circle cx="547.5" cy="364.7" r="1.6"/><circle cx="551.2" cy="364.7" r="1.6"/><circle cx="555.0" cy="365.1" r="1.6"/><circle cx="558.7" cy="365.4" r="1.6"/><circle cx="562.5" cy="365.7" r="1.6"/><circle cx="566.2" cy="366.0" r="1.6"/><circle cx="570.0" cy="366.2" r="1.6"/><circle cx="573.7" cy="366.4" r="1.6"/><circle cx="577.5" cy="366.4" r="1.6"/><circle cx="581.2" cy="366.6" r="1.6"/><circle cx="585.0" cy="366.6" r="1.6"/><circle cx="588.7" cy="366.7" r="1.6"/><circle cx="592.4" cy="367.0" r="1.6"/><circle cx="596.2" cy="367.2" r="1.6"/><circle cx="599.9" cy="367.3" r="1.6"/><circle cx="603.7" cy="367.3" r="1.6"/><circle cx="607.4" cy="367.3" r="1.6"/><circle cx="611.2" cy="367.3" r="1.6"/><circle cx="614.9" cy="367.4" r="1.6"/><circle cx="618.7" cy="367.0" r="1.6"/><circle cx="622.4" cy="366.9" r="1.6"/><circle cx="626.1" cy="366.8" r="1.6"/><circle cx="629.9" cy="366.6" r="1.6"/><circle cx="633.6" cy="366.3" r="1.6"/><circle cx="637.4" cy="366.2" r="1.6"/><circle cx="641.1" cy="366.2" r="1.6"/></g>
<g fill="#1a1af2"><circle cx="513.8" cy="365.5" r="1.45"/><circle cx="517.5" cy="364.9" r="1.45"/><circle cx="521.3" cy="364.4" r="1.45"/><circle cx="525.0" cy="363.7" r="1.45"/><circle cx="528.8" cy="363.1" r="1.45"/><circle cx="532.5" cy="362.7" r="1.45"/><circle cx="536.3" cy="362.3" r="1.45"/><circle cx="540.0" cy="362.2" r="1.45"/><circle cx="543.8" cy="361.5" r="1.45"/><circle cx="547.5" cy="361.2" r="1.45"/><circle cx="551.2" cy="360.9" r="1.45"/><circle cx="555.0" cy="360.9" r="1.45"/><circle cx="558.7" cy="360.8" r="1.45"/><circle cx="562.5" cy="360.8" r="1.45"/><circle cx="566.2" cy="360.8" r="1.45"/><circle cx="570.0" cy="360.8" r="1.45"/><circle cx="573.7" cy="360.8" r="1.45"/><circle cx="577.5" cy="360.9" r="1.45"/><circle cx="581.2" cy="361.2" r="1.45"/><circle cx="585.0" cy="361.0" r="1.45"/><circle cx="588.7" cy="360.9" r="1.45"/><circle cx="592.4" cy="360.7" r="1.45"/><circle cx="596.2" cy="360.4" r="1.45"/><circle cx="599.9" cy="359.9" r="1.45"/><circle cx="603.7" cy="359.3" r="1.45"/><circle cx="607.4" cy="359.1" r="1.45"/><circle cx="611.2" cy="358.8" r="1.45"/><circle cx="614.9" cy="358.4" r="1.45"/><circle cx="618.7" cy="357.9" r="1.45"/><circle cx="622.4" cy="357.2" r="1.45"/><circle cx="626.1" cy="356.3" r="1.45"/><circle cx="629.9" cy="355.5" r="1.45"/><circle cx="633.6" cy="353.9" r="1.45"/><circle cx="637.4" cy="353.0" r="1.45"/><circle cx="641.1" cy="352.2" r="1.45"/></g>
<g fill="#f21a1a"><circle cx="513.8" cy="367.9" r="1.75"/><circle cx="517.5" cy="367.3" r="1.75"/><circle cx="521.3" cy="366.7" r="1.75"/><circle cx="525.0" cy="365.7" r="1.75"/><circle cx="528.8" cy="365.1" r="1.75"/><circle cx="532.5" cy="364.0" r="1.75"/><circle cx="536.3" cy="363.1" r="1.75"/><circle cx="540.0" cy="361.9" r="1.75"/><circle cx="543.8" cy="360.3" r="1.75"/><circle cx="547.5" cy="358.9" r="1.75"/><circle cx="551.2" cy="357.3" r="1.75"/><circle cx="555.0" cy="355.1" r="1.75"/><circle cx="558.7" cy="352.5" r="1.75"/><circle cx="562.5" cy="350.2" r="1.75"/><circle cx="566.2" cy="347.3" r="1.75"/><circle cx="570.0" cy="344.2" r="1.75"/><circle cx="573.7" cy="341.1" r="1.75"/><circle cx="577.5" cy="337.6" r="1.75"/><circle cx="581.2" cy="334.0" r="1.75"/><circle cx="585.0" cy="330.5" r="1.75"/><circle cx="588.7" cy="326.6" r="1.75"/><circle cx="592.4" cy="322.7" r="1.75"/><circle cx="596.2" cy="318.3" r="1.75"/><circle cx="599.9" cy="314.4" r="1.75"/><circle cx="603.7" cy="310.1" r="1.75"/><circle cx="607.4" cy="306.6" r="1.75"/><circle cx="611.2" cy="302.6" r="1.75"/><circle cx="614.9" cy="299.2" r="1.75"/><circle cx="618.7" cy="295.6" r="1.75"/><circle cx="622.4" cy="292.5" r="1.75"/><circle cx="626.1" cy="289.7" r="1.75"/><circle cx="629.9" cy="287.3" r="1.75"/><circle cx="633.6" cy="284.6" r="1.75"/><circle cx="637.4" cy="283.1" r="1.75"/><circle cx="641.1" cy="281.3" r="1.75"/></g>
<g fill="#1a1af2"><circle cx="513.8" cy="364.7" r="1.75"/><circle cx="517.5" cy="364.0" r="1.75"/><circle cx="521.3" cy="363.5" r="1.75"/><circle cx="525.0" cy="362.1" r="1.75"/><circle cx="528.8" cy="360.6" r="1.75"/><circle cx="532.5" cy="359.6" r="1.75"/><circle cx="536.3" cy="358.0" r="1.75"/><circle cx="540.0" cy="356.2" r="1.75"/><circle cx="543.8" cy="354.4" r="1.75"/><circle cx="547.5" cy="352.4" r="1.75"/><circle cx="551.2" cy="349.8" r="1.75"/><circle cx="555.0" cy="347.4" r="1.75"/><circle cx="558.7" cy="344.3" r="1.75"/><circle cx="562.5" cy="340.9" r="1.75"/><circle cx="566.2" cy="337.3" r="1.75"/><circle cx="570.0" cy="334.0" r="1.75"/><circle cx="573.7" cy="329.7" r="1.75"/><circle cx="577.5" cy="325.8" r="1.75"/><circle cx="581.2" cy="321.0" r="1.75"/><circle cx="585.0" cy="316.7" r="1.75"/><circle cx="588.7" cy="312.2" r="1.75"/><circle cx="592.4" cy="308.2" r="1.75"/><circle cx="596.2" cy="303.4" r="1.75"/><circle cx="599.9" cy="299.2" r="1.75"/><circle cx="603.7" cy="294.8" r="1.75"/><circle cx="607.4" cy="291.2" r="1.75"/><circle cx="611.2" cy="287.8" r="1.75"/><circle cx="614.9" cy="284.6" r="1.75"/><circle cx="618.7" cy="281.9" r="1.75"/><circle cx="622.4" cy="279.5" r="1.75"/><circle cx="626.1" cy="277.6" r="1.75"/><circle cx="629.9" cy="275.5" r="1.75"/><circle cx="633.6" cy="274.0" r="1.75"/><circle cx="637.4" cy="273.0" r="1.75"/><circle cx="641.1" cy="272.2" r="1.75"/></g>
<text x="53.10" y="455.38" font-size="10">MFI</text>
<defs><filter id="nb" x="-10%" y="-10%" width="120%" height="120%"><feGaussianBlur stdDeviation="0.6"/></filter></defs>
<text x="112.40" y="440.22" font-size="10.1" text-anchor="middle" font-weight="bold" fill="#2b50a2">DAPI</text>
<text x="112.40" y="455.88" font-size="10" text-anchor="middle">106.45</text>
<clipPath id="cp0"><rect x="65.2" y="460.5" width="95.99999999999999" height="101.70000000000005"/></clipPath>
<rect x="65.20" y="460.50" width="96.00" height="101.70" fill="#020209"/>
<g clip-path="url(#cp0)" filter="url(#nb)"><ellipse cx="108.6" cy="517.4" rx="3.5" ry="2.2" fill="rgb(4,4,46)" transform="rotate(150 108.6 517.4)"/><ellipse cx="83.4" cy="542.3" rx="3.0" ry="2.4" fill="rgb(3,3,33)" transform="rotate(114 83.4 542.3)"/><ellipse cx="94.3" cy="469.7" rx="3.4" ry="2.5" fill="rgb(2,2,28)" transform="rotate(101 94.3 469.7)"/><ellipse cx="157.8" cy="527.0" rx="3.1" ry="1.9" fill="rgb(2,2,26)" transform="rotate(135 157.8 527.0)"/><ellipse cx="71.3" cy="464.1" rx="3.5" ry="2.4" fill="rgb(5,5,57)" transform="rotate(83 71.3 464.1)"/><ellipse cx="107.5" cy="546.2" rx="3.0" ry="2.4" fill="rgb(4,4,46)" transform="rotate(169 107.5 546.2)"/><ellipse cx="73.4" cy="527.1" rx="2.9" ry="2.3" fill="rgb(5,6,63)" transform="rotate(21 73.4 527.1)"/><ellipse cx="133.1" cy="492.6" rx="2.7" ry="2.0" fill="rgb(2,2,29)" transform="rotate(27 133.1 492.6)"/><ellipse cx="103.6" cy="546.6" rx="2.9" ry="2.8" fill="rgb(5,5,59)" transform="rotate(0 103.6 546.6)"/><ellipse cx="85.7" cy="554.8" rx="2.5" ry="2.1" fill="rgb(4,5,54)" transform="rotate(107 85.7 554.8)"/><ellipse cx="72.2" cy="524.5" rx="3.3" ry="2.0" fill="rgb(2,2,29)" transform="rotate(85 72.2 524.5)"/><ellipse cx="66.7" cy="502.2" rx="3.5" ry="1.8" fill="rgb(4,5,54)" transform="rotate(2 66.7 502.2)"/><ellipse cx="70.9" cy="541.6" rx="2.6" ry="2.4" fill="rgb(4,4,44)" transform="rotate(48 70.9 541.6)"/><ellipse cx="159.8" cy="538.8" rx="2.9" ry="2.1" fill="rgb(3,4,42)" transform="rotate(54 159.8 538.8)"/><ellipse cx="65.2" cy="548.4" rx="3.6" ry="2.4" fill="rgb(5,6,65)" transform="rotate(5 65.2 548.4)"/><ellipse cx="85.4" cy="500.6" rx="3.4" ry="2.5" fill="rgb(2,3,30)" transform="rotate(37 85.4 500.6)"/><ellipse cx="85.7" cy="486.8" rx="3.3" ry="2.1" fill="rgb(3,3,38)" transform="rotate(18 85.7 486.8)"/><ellipse cx="72.3" cy="481.7" rx="3.2" ry="1.7" fill="rgb(3,4,40)" transform="rotate(159 72.3 481.7)"/><ellipse cx="108.7" cy="558.0" rx="3.0" ry="2.4" fill="rgb(5,6,60)" transform="rotate(46 108.7 558.0)"/><ellipse cx="125.4" cy="492.1" rx="2.7" ry="2.4" fill="rgb(5,5,55)" transform="rotate(40 125.4 492.1)"/><ellipse cx="136.2" cy="556.1" rx="2.6" ry="2.8" fill="rgb(5,6,61)" transform="rotate(154 136.2 556.1)"/><ellipse cx="72.7" cy="465.3" rx="2.5" ry="2.3" fill="rgb(3,3,36)" transform="rotate(180 72.7 465.3)"/><ellipse cx="102.8" cy="503.3" rx="3.5" ry="2.3" fill="rgb(4,4,46)" transform="rotate(17 102.8 503.3)"/><ellipse cx="77.3" cy="509.2" rx="3.2" ry="2.4" fill="rgb(2,2,29)" transform="rotate(54 77.3 509.2)"/><ellipse cx="153.3" cy="481.2" rx="2.4" ry="2.0" fill="rgb(4,4,44)" transform="rotate(15 153.3 481.2)"/><ellipse cx="69.7" cy="489.2" rx="3.0" ry="2.8" fill="rgb(2,3,30)" transform="rotate(35 69.7 489.2)"/><ellipse cx="150.7" cy="560.2" rx="3.2" ry="2.5" fill="rgb(4,4,49)" transform="rotate(35 150.7 560.2)"/><ellipse cx="121.8" cy="554.4" rx="3.0" ry="2.1" fill="rgb(3,3,38)" transform="rotate(8 121.8 554.4)"/><ellipse cx="67.2" cy="525.2" rx="3.0" ry="2.6" fill="rgb(3,3,39)" transform="rotate(18 67.2 525.2)"/><ellipse cx="72.4" cy="516.0" rx="3.3" ry="2.8" fill="rgb(5,5,55)" transform="rotate(180 72.4 516.0)"/><ellipse cx="77.6" cy="558.5" rx="2.8" ry="1.8" fill="rgb(4,4,45)" transform="rotate(19 77.6 558.5)"/><ellipse cx="148.8" cy="502.9" rx="3.3" ry="2.7" fill="rgb(4,4,49)" transform="rotate(159 148.8 502.9)"/><ellipse cx="128.8" cy="499.1" rx="2.4" ry="1.8" fill="rgb(2,2,29)" transform="rotate(29 128.8 499.1)"/><ellipse cx="160.6" cy="550.0" rx="3.3" ry="2.1" fill="rgb(5,5,55)" transform="rotate(148 160.6 550.0)"/><ellipse cx="109.1" cy="507.5" rx="3.0" ry="2.3" fill="rgb(4,4,46)" transform="rotate(79 109.1 507.5)"/><ellipse cx="122.9" cy="509.4" rx="2.7" ry="2.5" fill="rgb(4,4,46)" transform="rotate(157 122.9 509.4)"/><ellipse cx="128.6" cy="510.0" rx="3.5" ry="2.1" fill="rgb(2,3,32)" transform="rotate(156 128.6 510.0)"/><ellipse cx="84.6" cy="477.7" rx="3.5" ry="2.5" fill="rgb(3,4,43)" transform="rotate(61 84.6 477.7)"/><ellipse cx="96.6" cy="528.2" rx="2.6" ry="2.2" fill="rgb(5,5,58)" transform="rotate(51 96.6 528.2)"/><ellipse cx="149.7" cy="499.6" rx="3.1" ry="2.1" fill="rgb(2,3,31)" transform="rotate(127 149.7 499.6)"/><ellipse cx="73.0" cy="461.8" rx="2.5" ry="2.3" fill="rgb(12,13,138)" transform="rotate(28 73.0 461.8)"/><ellipse cx="68.3" cy="473.4" rx="2.9" ry="2.4" fill="rgb(10,11,116)" transform="rotate(80 68.3 473.4)"/><ellipse cx="72.6" cy="486.9" rx="2.8" ry="2.5" fill="rgb(9,10,109)" transform="rotate(155 72.6 486.9)"/><ellipse cx="70.5" cy="504.7" rx="3.3" ry="2.2" fill="rgb(8,9,97)" transform="rotate(116 70.5 504.7)"/><ellipse cx="72.1" cy="514.5" rx="3.3" ry="3.0" fill="rgb(17,18,187)" transform="rotate(29 72.1 514.5)"/><ellipse cx="71.0" cy="527.9" rx="3.4" ry="3.2" fill="rgb(13,15,151)" transform="rotate(51 71.0 527.9)"/><ellipse cx="68.1" cy="538.5" rx="3.3" ry="2.7" fill="rgb(7,8,80)" transform="rotate(57 68.1 538.5)"/><ellipse cx="68.8" cy="548.6" rx="3.0" ry="2.5" fill="rgb(12,14,140)" transform="rotate(100 68.8 548.6)"/><ellipse cx="71.5" cy="554.9" rx="2.9" ry="2.7" fill="rgb(9,10,105)" transform="rotate(115 71.5 554.9)"/><ellipse cx="80.6" cy="468.9" rx="2.9" ry="2.3" fill="rgb(14,16,160)" transform="rotate(87 80.6 468.9)"/><ellipse cx="80.8" cy="473.4" rx="3.3" ry="2.9" fill="rgb(13,14,143)" transform="rotate(31 80.8 473.4)"/><ellipse cx="82.7" cy="489.8" rx="3.6" ry="2.9" fill="rgb(15,17,173)" transform="rotate(82 82.7 489.8)"/><ellipse cx="81.3" cy="492.2" rx="3.0" ry="2.0" fill="rgb(11,12,124)" transform="rotate(107 81.3 492.2)"/><ellipse cx="79.5" cy="502.4" rx="3.4" ry="2.3" fill="rgb(16,17,176)" transform="rotate(44 79.5 502.4)"/><ellipse cx="81.0" cy="519.8" rx="3.0" ry="2.8" fill="rgb(17,18,189)" transform="rotate(132 81.0 519.8)"/><ellipse cx="81.1" cy="530.2" rx="3.0" ry="2.8" fill="rgb(8,9,97)" transform="rotate(56 81.1 530.2)"/><ellipse cx="80.1" cy="539.5" rx="3.1" ry="2.1" fill="rgb(12,13,137)" transform="rotate(143 80.1 539.5)"/><ellipse cx="80.9" cy="550.6" rx="3.4" ry="2.9" fill="rgb(9,10,109)" transform="rotate(36 80.9 550.6)"/><ellipse cx="79.8" cy="557.7" rx="2.6" ry="2.1" fill="rgb(10,12,120)" transform="rotate(154 79.8 557.7)"/><ellipse cx="89.5" cy="461.9" rx="3.5" ry="2.8" fill="rgb(15,16,169)" transform="rotate(31 89.5 461.9)"/><ellipse cx="90.7" cy="472.2" rx="3.0" ry="2.4" fill="rgb(16,18,182)" transform="rotate(103 90.7 472.2)"/><ellipse cx="89.0" cy="482.9" rx="2.9" ry="2.6" fill="rgb(16,18,185)" transform="rotate(121 89.0 482.9)"/><ellipse cx="86.2" cy="495.4" rx="2.4" ry="1.8" fill="rgb(15,16,169)" transform="rotate(5 86.2 495.4)"/><ellipse cx="85.5" cy="514.7" rx="3.3" ry="2.4" fill="rgb(13,14,149)" transform="rotate(127 85.5 514.7)"/><ellipse cx="86.3" cy="526.7" rx="2.7" ry="1.9" fill="rgb(13,15,150)" transform="rotate(111 86.3 526.7)"/><ellipse cx="91.7" cy="547.9" rx="3.0" ry="2.8" fill="rgb(12,14,141)" transform="rotate(55 91.7 547.9)"/><ellipse cx="91.9" cy="558.0" rx="3.4" ry="2.5" fill="rgb(13,15,151)" transform="rotate(88 91.9 558.0)"/><ellipse cx="97.4" cy="464.1" rx="3.5" ry="2.5" fill="rgb(16,17,179)" transform="rotate(24 97.4 464.1)"/><ellipse cx="96.8" cy="477.6" rx="2.7" ry="1.8" fill="rgb(16,17,178)" transform="rotate(107 96.8 477.6)"/><ellipse cx="100.4" cy="483.5" rx="3.2" ry="2.8" fill="rgb(9,10,102)" transform="rotate(145 100.4 483.5)"/><ellipse cx="102.0" cy="499.9" rx="2.5" ry="2.0" fill="rgb(16,18,186)" transform="rotate(128 102.0 499.9)"/><ellipse cx="101.4" cy="508.7" rx="3.0" ry="2.0" fill="rgb(17,18,188)" transform="rotate(157 101.4 508.7)"/><ellipse cx="99.3" cy="513.6" rx="2.6" ry="1.9" fill="rgb(17,19,197)" transform="rotate(72 99.3 513.6)"/><ellipse cx="95.7" cy="523.0" rx="3.5" ry="2.8" fill="rgb(16,18,184)" transform="rotate(83 95.7 523.0)"/><ellipse cx="98.2" cy="535.6" rx="2.7" ry="2.0" fill="rgb(15,16,165)" transform="rotate(10 98.2 535.6)"/><ellipse cx="96.4" cy="546.6" rx="3.3" ry="2.5" fill="rgb(9,10,108)" transform="rotate(42 96.4 546.6)"/><ellipse cx="107.0" cy="462.2" rx="3.4" ry="3.1" fill="rgb(15,17,171)" transform="rotate(103 107.0 462.2)"/><ellipse cx="106.0" cy="476.4" rx="2.8" ry="2.5" fill="rgb(10,12,120)" transform="rotate(29 106.0 476.4)"/><ellipse cx="110.5" cy="488.5" rx="2.9" ry="2.7" fill="rgb(17,19,197)" transform="rotate(177 110.5 488.5)"/><ellipse cx="107.9" cy="493.5" rx="2.6" ry="1.9" fill="rgb(17,19,190)" transform="rotate(77 107.9 493.5)"/><ellipse cx="104.6" cy="505.1" rx="3.2" ry="2.7" fill="rgb(11,12,125)" transform="rotate(170 104.6 505.1)"/><ellipse cx="106.2" cy="515.7" rx="2.6" ry="1.8" fill="rgb(14,16,160)" transform="rotate(127 106.2 515.7)"/><ellipse cx="109.9" cy="528.7" rx="3.6" ry="2.3" fill="rgb(15,16,169)" transform="rotate(60 109.9 528.7)"/><ellipse cx="107.6" cy="533.1" rx="2.6" ry="2.0" fill="rgb(9,10,106)" transform="rotate(64 107.6 533.1)"/><ellipse cx="107.2" cy="547.3" rx="2.9" ry="2.3" fill="rgb(16,18,181)" transform="rotate(25 107.2 547.3)"/><ellipse cx="110.8" cy="553.7" rx="3.1" ry="2.7" fill="rgb(8,9,90)" transform="rotate(40 110.8 553.7)"/><ellipse cx="121.6" cy="468.5" rx="3.1" ry="2.5" fill="rgb(11,12,129)" transform="rotate(126 121.6 468.5)"/><ellipse cx="118.2" cy="476.6" rx="2.8" ry="2.1" fill="rgb(14,16,162)" transform="rotate(143 118.2 476.6)"/><ellipse cx="119.3" cy="487.9" rx="2.4" ry="2.1" fill="rgb(14,16,162)" transform="rotate(162 119.3 487.9)"/><ellipse cx="120.0" cy="495.2" rx="3.5" ry="3.0" fill="rgb(9,10,102)" transform="rotate(81 120.0 495.2)"/><ellipse cx="117.5" cy="516.3" rx="3.6" ry="2.6" fill="rgb(14,16,161)" transform="rotate(119 117.5 516.3)"/><ellipse cx="121.5" cy="524.5" rx="3.2" ry="2.2" fill="rgb(13,14,146)" transform="rotate(30 121.5 524.5)"/><ellipse cx="114.6" cy="537.0" rx="2.5" ry="2.0" fill="rgb(15,17,171)" transform="rotate(116 114.6 537.0)"/><ellipse cx="119.1" cy="548.4" rx="2.8" ry="2.5" fill="rgb(16,17,177)" transform="rotate(35 119.1 548.4)"/><ellipse cx="119.8" cy="555.0" rx="2.5" ry="2.3" fill="rgb(15,16,166)" transform="rotate(159 119.8 555.0)"/><ellipse cx="125.9" cy="466.5" rx="3.3" ry="2.8" fill="rgb(9,10,102)" transform="rotate(71 125.9 466.5)"/><ellipse cx="125.2" cy="473.7" rx="3.6" ry="3.3" fill="rgb(16,18,181)" transform="rotate(10 125.2 473.7)"/><ellipse cx="123.8" cy="484.0" rx="2.4" ry="1.6" fill="rgb(10,11,117)" transform="rotate(71 123.8 484.0)"/><ellipse cx="128.0" cy="517.5" rx="2.8" ry="2.3" fill="rgb(11,12,121)" transform="rotate(87 128.0 517.5)"/><ellipse cx="124.8" cy="529.6" rx="3.4" ry="2.6" fill="rgb(17,19,191)" transform="rotate(54 124.8 529.6)"/><ellipse cx="129.5" cy="535.9" rx="2.6" ry="1.8" fill="rgb(17,18,187)" transform="rotate(152 129.5 535.9)"/><ellipse cx="128.0" cy="548.9" rx="3.5" ry="2.7" fill="rgb(11,12,126)" transform="rotate(24 128.0 548.9)"/><ellipse cx="126.2" cy="557.5" rx="2.9" ry="2.4" fill="rgb(14,16,164)" transform="rotate(118 126.2 557.5)"/><ellipse cx="139.3" cy="462.1" rx="2.7" ry="2.3" fill="rgb(7,8,83)" transform="rotate(77 139.3 462.1)"/><ellipse cx="139.2" cy="474.4" rx="3.5" ry="2.5" fill="rgb(13,15,150)" transform="rotate(83 139.2 474.4)"/><ellipse cx="134.3" cy="487.6" rx="3.1" ry="2.9" fill="rgb(17,19,196)" transform="rotate(71 134.3 487.6)"/><ellipse cx="139.5" cy="494.5" rx="2.8" ry="2.1" fill="rgb(17,19,195)" transform="rotate(132 139.5 494.5)"/><ellipse cx="136.1" cy="505.2" rx="2.8" ry="2.2" fill="rgb(12,13,139)" transform="rotate(49 136.1 505.2)"/><ellipse cx="136.2" cy="515.5" rx="2.6" ry="2.1" fill="rgb(10,11,115)" transform="rotate(22 136.2 515.5)"/><ellipse cx="140.1" cy="524.8" rx="2.4" ry="2.0" fill="rgb(13,15,152)" transform="rotate(145 140.1 524.8)"/><ellipse cx="133.5" cy="539.6" rx="2.9" ry="2.4" fill="rgb(11,12,123)" transform="rotate(139 133.5 539.6)"/><ellipse cx="149.9" cy="462.2" rx="3.2" ry="2.2" fill="rgb(12,13,135)" transform="rotate(166 149.9 462.2)"/><ellipse cx="148.4" cy="475.7" rx="3.5" ry="2.6" fill="rgb(11,12,124)" transform="rotate(89 148.4 475.7)"/><ellipse cx="150.4" cy="487.3" rx="3.0" ry="2.4" fill="rgb(14,15,157)" transform="rotate(158 150.4 487.3)"/><ellipse cx="146.1" cy="498.7" rx="3.2" ry="2.9" fill="rgb(16,17,176)" transform="rotate(22 146.1 498.7)"/><ellipse cx="150.3" cy="507.4" rx="3.0" ry="2.6" fill="rgb(15,17,173)" transform="rotate(107 150.3 507.4)"/><ellipse cx="150.0" cy="514.4" rx="2.6" ry="2.2" fill="rgb(14,16,161)" transform="rotate(82 150.0 514.4)"/><ellipse cx="146.2" cy="524.9" rx="3.6" ry="2.4" fill="rgb(11,12,122)" transform="rotate(29 146.2 524.9)"/><ellipse cx="144.2" cy="540.2" rx="3.5" ry="3.1" fill="rgb(7,8,87)" transform="rotate(123 144.2 540.2)"/><ellipse cx="143.2" cy="543.8" rx="2.6" ry="1.9" fill="rgb(9,10,108)" transform="rotate(120 143.2 543.8)"/><ellipse cx="144.7" cy="554.6" rx="2.7" ry="1.9" fill="rgb(13,14,149)" transform="rotate(79 144.7 554.6)"/><ellipse cx="159.8" cy="466.0" rx="3.4" ry="2.7" fill="rgb(9,10,103)" transform="rotate(87 159.8 466.0)"/><ellipse cx="158.5" cy="472.4" rx="3.4" ry="2.6" fill="rgb(8,9,90)" transform="rotate(34 158.5 472.4)"/><ellipse cx="155.5" cy="486.1" rx="3.0" ry="2.2" fill="rgb(16,17,176)" transform="rotate(168 155.5 486.1)"/><ellipse cx="159.4" cy="499.1" rx="3.5" ry="2.7" fill="rgb(9,10,105)" transform="rotate(107 159.4 499.1)"/><ellipse cx="153.8" cy="503.5" rx="2.8" ry="2.0" fill="rgb(15,17,175)" transform="rotate(132 153.8 503.5)"/><ellipse cx="158.3" cy="517.4" rx="3.0" ry="2.0" fill="rgb(12,13,139)" transform="rotate(45 158.3 517.4)"/><ellipse cx="159.1" cy="539.4" rx="2.5" ry="1.8" fill="rgb(13,14,143)" transform="rotate(24 159.1 539.4)"/><ellipse cx="157.9" cy="543.6" rx="3.3" ry="2.7" fill="rgb(11,12,122)" transform="rotate(4 157.9 543.6)"/><ellipse cx="155.8" cy="560.5" rx="2.5" ry="2.3" fill="rgb(7,8,86)" transform="rotate(139 155.8 560.5)"/></g>
<path d="M140.7 552.6H152.4M140.7 551.8V553.4M152.4 551.8V553.4" stroke="#bbb" stroke-width="0.6" fill="none"/>
<text x="136.80" y="559.90" font-size="4.8" fill="#ddd" textLength="18.6" lengthAdjust="spacingAndGlyphs">20.17 μm</text>
<text x="211.25" y="440.22" font-size="10.1" text-anchor="middle" font-weight="bold" fill="#ff1a1a">pSMAD3(AF647)</text>
<text x="211.25" y="455.88" font-size="10" text-anchor="middle">23.27</text>
<clipPath id="cp1"><rect x="162.8" y="460.5" width="98.5" height="101.70000000000005"/></clipPath>
<rect x="162.80" y="460.50" width="98.50" height="101.70" fill="#080000"/>
<g clip-path="url(#cp1)" filter="url(#nb)"><ellipse cx="203.5" cy="510.8" rx="3.5" ry="2.8" fill="rgb(22,1,1)" transform="rotate(103 203.5 510.8)"/><ellipse cx="170.3" cy="491.6" rx="3.0" ry="2.6" fill="rgb(23,1,1)" transform="rotate(175 170.3 491.6)"/><ellipse cx="176.6" cy="528.4" rx="3.2" ry="2.6" fill="rgb(32,2,2)" transform="rotate(31 176.6 528.4)"/><ellipse cx="227.2" cy="461.8" rx="2.9" ry="2.6" fill="rgb(20,1,1)" transform="rotate(144 227.2 461.8)"/><ellipse cx="174.0" cy="539.0" rx="3.4" ry="2.7" fill="rgb(31,2,2)" transform="rotate(157 174.0 539.0)"/><ellipse cx="177.8" cy="524.3" rx="3.5" ry="2.6" fill="rgb(36,2,2)" transform="rotate(100 177.8 524.3)"/><ellipse cx="217.5" cy="469.3" rx="2.7" ry="2.2" fill="rgb(17,1,1)" transform="rotate(79 217.5 469.3)"/><ellipse cx="255.9" cy="517.7" rx="3.3" ry="2.1" fill="rgb(33,2,2)" transform="rotate(23 255.9 517.7)"/><ellipse cx="172.8" cy="523.7" rx="2.6" ry="2.5" fill="rgb(19,1,1)" transform="rotate(49 172.8 523.7)"/><ellipse cx="202.4" cy="545.6" rx="3.2" ry="1.9" fill="rgb(20,1,1)" transform="rotate(40 202.4 545.6)"/><ellipse cx="260.1" cy="504.6" rx="3.3" ry="2.1" fill="rgb(33,2,2)" transform="rotate(130 260.1 504.6)"/><ellipse cx="176.5" cy="481.4" rx="2.7" ry="2.5" fill="rgb(25,2,1)" transform="rotate(105 176.5 481.4)"/><ellipse cx="224.2" cy="534.4" rx="3.2" ry="2.1" fill="rgb(32,2,2)" transform="rotate(62 224.2 534.4)"/><ellipse cx="227.8" cy="522.4" rx="2.5" ry="2.1" fill="rgb(22,1,1)" transform="rotate(166 227.8 522.4)"/><ellipse cx="206.3" cy="517.2" rx="2.7" ry="2.1" fill="rgb(21,1,1)" transform="rotate(26 206.3 517.2)"/><ellipse cx="223.0" cy="476.6" rx="3.3" ry="2.8" fill="rgb(27,2,1)" transform="rotate(90 223.0 476.6)"/><ellipse cx="223.1" cy="512.7" rx="3.1" ry="2.0" fill="rgb(36,2,2)" transform="rotate(180 223.1 512.7)"/><ellipse cx="245.1" cy="480.6" rx="3.5" ry="2.5" fill="rgb(19,1,1)" transform="rotate(21 245.1 480.6)"/><ellipse cx="176.2" cy="509.1" rx="3.0" ry="2.1" fill="rgb(17,1,1)" transform="rotate(92 176.2 509.1)"/><ellipse cx="189.0" cy="550.3" rx="3.0" ry="2.6" fill="rgb(20,1,1)" transform="rotate(145 189.0 550.3)"/><ellipse cx="216.3" cy="517.5" rx="3.1" ry="2.0" fill="rgb(35,2,2)" transform="rotate(85 216.3 517.5)"/><ellipse cx="222.0" cy="473.0" rx="3.4" ry="2.1" fill="rgb(35,2,2)" transform="rotate(61 222.0 473.0)"/><ellipse cx="237.5" cy="497.4" rx="2.7" ry="2.4" fill="rgb(33,2,2)" transform="rotate(116 237.5 497.4)"/><ellipse cx="166.0" cy="478.8" rx="3.6" ry="2.8" fill="rgb(29,2,2)" transform="rotate(78 166.0 478.8)"/><ellipse cx="237.3" cy="546.7" rx="3.5" ry="2.4" fill="rgb(29,2,2)" transform="rotate(4 237.3 546.7)"/><ellipse cx="178.4" cy="502.4" rx="2.5" ry="2.3" fill="rgb(17,1,1)" transform="rotate(103 178.4 502.4)"/><ellipse cx="179.9" cy="513.4" rx="2.8" ry="2.4" fill="rgb(22,1,1)" transform="rotate(164 179.9 513.4)"/><ellipse cx="240.0" cy="533.9" rx="3.4" ry="2.2" fill="rgb(26,2,1)" transform="rotate(26 240.0 533.9)"/><ellipse cx="209.1" cy="502.3" rx="3.2" ry="2.5" fill="rgb(32,2,2)" transform="rotate(72 209.1 502.3)"/><ellipse cx="210.7" cy="561.7" rx="3.4" ry="2.7" fill="rgb(24,1,1)" transform="rotate(111 210.7 561.7)"/><ellipse cx="174.4" cy="472.2" rx="3.5" ry="2.1" fill="rgb(26,2,1)" transform="rotate(107 174.4 472.2)"/><ellipse cx="251.9" cy="493.1" rx="2.6" ry="2.6" fill="rgb(35,2,2)" transform="rotate(96 251.9 493.1)"/><ellipse cx="221.7" cy="537.0" rx="2.8" ry="2.4" fill="rgb(16,1,1)" transform="rotate(31 221.7 537.0)"/><ellipse cx="246.0" cy="485.1" rx="3.5" ry="2.8" fill="rgb(25,2,1)" transform="rotate(26 246.0 485.1)"/><ellipse cx="214.6" cy="484.8" rx="2.8" ry="2.2" fill="rgb(20,1,1)" transform="rotate(17 214.6 484.8)"/><ellipse cx="170.3" cy="469.5" rx="2.9" ry="2.4" fill="rgb(68,5,4)" transform="rotate(42 170.3 469.5)"/><ellipse cx="170.4" cy="478.1" rx="3.5" ry="2.4" fill="rgb(85,6,6)" transform="rotate(31 170.4 478.1)"/><ellipse cx="168.9" cy="488.3" rx="2.8" ry="2.5" fill="rgb(42,3,3)" transform="rotate(44 168.9 488.3)"/><ellipse cx="171.0" cy="510.4" rx="2.9" ry="2.4" fill="rgb(46,3,3)" transform="rotate(7 171.0 510.4)"/><ellipse cx="166.6" cy="521.1" rx="2.7" ry="2.3" fill="rgb(90,7,6)" transform="rotate(52 166.6 521.1)"/><ellipse cx="171.4" cy="535.7" rx="2.6" ry="1.9" fill="rgb(94,7,6)" transform="rotate(120 171.4 535.7)"/><ellipse cx="170.0" cy="557.1" rx="3.1" ry="2.2" fill="rgb(86,6,6)" transform="rotate(12 170.0 557.1)"/><ellipse cx="177.5" cy="469.0" rx="3.6" ry="2.6" fill="rgb(63,5,4)" transform="rotate(34 177.5 469.0)"/><ellipse cx="183.2" cy="480.0" rx="3.0" ry="2.1" fill="rgb(99,7,7)" transform="rotate(30 183.2 480.0)"/><ellipse cx="176.6" cy="485.9" rx="2.8" ry="2.3" fill="rgb(93,7,6)" transform="rotate(95 176.6 485.9)"/><ellipse cx="179.4" cy="496.6" rx="3.1" ry="2.9" fill="rgb(105,8,7)" transform="rotate(46 179.4 496.6)"/><ellipse cx="177.3" cy="512.6" rx="2.6" ry="2.5" fill="rgb(75,6,5)" transform="rotate(135 177.3 512.6)"/><ellipse cx="174.9" cy="534.7" rx="3.1" ry="2.4" fill="rgb(79,6,5)" transform="rotate(42 174.9 534.7)"/><ellipse cx="181.5" cy="543.0" rx="2.8" ry="2.3" fill="rgb(54,4,3)" transform="rotate(38 181.5 543.0)"/><ellipse cx="175.1" cy="556.2" rx="3.3" ry="2.5" fill="rgb(89,7,6)" transform="rotate(127 175.1 556.2)"/><ellipse cx="193.7" cy="487.1" rx="3.0" ry="2.0" fill="rgb(66,5,4)" transform="rotate(162 193.7 487.1)"/><ellipse cx="190.3" cy="504.1" rx="2.7" ry="2.4" fill="rgb(59,4,4)" transform="rotate(155 190.3 504.1)"/><ellipse cx="191.6" cy="511.8" rx="2.8" ry="2.4" fill="rgb(100,8,7)" transform="rotate(66 191.6 511.8)"/><ellipse cx="187.7" cy="523.4" rx="3.0" ry="2.0" fill="rgb(89,7,6)" transform="rotate(13 187.7 523.4)"/><ellipse cx="193.4" cy="531.1" rx="2.7" ry="1.7" fill="rgb(82,6,5)" transform="rotate(111 193.4 531.1)"/><ellipse cx="192.1" cy="548.5" rx="2.5" ry="1.7" fill="rgb(55,4,3)" transform="rotate(163 192.1 548.5)"/><ellipse cx="192.7" cy="554.2" rx="2.7" ry="2.0" fill="rgb(44,3,3)" transform="rotate(80 192.7 554.2)"/><ellipse cx="203.2" cy="468.7" rx="3.3" ry="2.7" fill="rgb(85,6,6)" transform="rotate(130 203.2 468.7)"/><ellipse cx="199.0" cy="474.4" rx="3.3" ry="2.9" fill="rgb(96,7,6)" transform="rotate(15 199.0 474.4)"/><ellipse cx="200.8" cy="490.5" rx="3.3" ry="3.1" fill="rgb(57,4,4)" transform="rotate(153 200.8 490.5)"/><ellipse cx="198.0" cy="499.6" rx="3.3" ry="2.2" fill="rgb(66,5,4)" transform="rotate(134 198.0 499.6)"/><ellipse cx="200.2" cy="509.5" rx="3.0" ry="2.0" fill="rgb(51,4,3)" transform="rotate(156 200.2 509.5)"/><ellipse cx="198.9" cy="523.1" rx="2.8" ry="2.2" fill="rgb(117,9,8)" transform="rotate(93 198.9 523.1)"/><ellipse cx="205.0" cy="537.8" rx="2.7" ry="1.9" fill="rgb(88,7,6)" transform="rotate(14 205.0 537.8)"/><ellipse cx="201.7" cy="549.0" rx="3.5" ry="3.2" fill="rgb(56,4,4)" transform="rotate(100 201.7 549.0)"/><ellipse cx="198.6" cy="555.5" rx="2.6" ry="2.0" fill="rgb(57,4,4)" transform="rotate(140 198.6 555.5)"/><ellipse cx="211.9" cy="465.2" rx="3.2" ry="2.8" fill="rgb(72,5,5)" transform="rotate(125 211.9 465.2)"/><ellipse cx="213.6" cy="480.7" rx="2.7" ry="2.1" fill="rgb(51,4,3)" transform="rotate(176 213.6 480.7)"/><ellipse cx="216.0" cy="489.8" rx="3.1" ry="2.7" fill="rgb(85,6,6)" transform="rotate(145 216.0 489.8)"/><ellipse cx="213.9" cy="498.0" rx="2.9" ry="2.0" fill="rgb(118,9,8)" transform="rotate(92 213.9 498.0)"/><ellipse cx="209.8" cy="514.4" rx="2.6" ry="2.5" fill="rgb(112,9,8)" transform="rotate(115 209.8 514.4)"/><ellipse cx="210.5" cy="536.4" rx="3.1" ry="2.0" fill="rgb(75,6,5)" transform="rotate(61 210.5 536.4)"/><ellipse cx="209.3" cy="545.4" rx="2.6" ry="1.9" fill="rgb(73,5,5)" transform="rotate(122 209.3 545.4)"/><ellipse cx="208.9" cy="558.4" rx="2.8" ry="2.4" fill="rgb(83,6,6)" transform="rotate(37 208.9 558.4)"/><ellipse cx="225.9" cy="466.5" rx="3.0" ry="2.1" fill="rgb(74,5,5)" transform="rotate(91 225.9 466.5)"/><ellipse cx="221.2" cy="476.0" rx="2.7" ry="1.8" fill="rgb(46,3,3)" transform="rotate(161 221.2 476.0)"/><ellipse cx="218.7" cy="491.1" rx="3.3" ry="2.8" fill="rgb(53,4,3)" transform="rotate(55 218.7 491.1)"/><ellipse cx="221.7" cy="496.6" rx="3.4" ry="2.6" fill="rgb(106,8,7)" transform="rotate(66 221.7 496.6)"/><ellipse cx="222.1" cy="518.7" rx="2.9" ry="2.2" fill="rgb(86,6,6)" transform="rotate(71 222.1 518.7)"/><ellipse cx="226.7" cy="531.3" rx="3.3" ry="2.5" fill="rgb(98,7,7)" transform="rotate(133 226.7 531.3)"/><ellipse cx="222.3" cy="553.4" rx="3.1" ry="2.7" fill="rgb(79,6,5)" transform="rotate(179 222.3 553.4)"/><ellipse cx="237.5" cy="462.7" rx="3.5" ry="3.2" fill="rgb(54,4,3)" transform="rotate(96 237.5 462.7)"/><ellipse cx="234.7" cy="477.2" rx="2.9" ry="2.1" fill="rgb(45,3,3)" transform="rotate(88 234.7 477.2)"/><ellipse cx="232.8" cy="486.9" rx="3.4" ry="3.1" fill="rgb(90,7,6)" transform="rotate(98 232.8 486.9)"/><ellipse cx="237.9" cy="498.8" rx="3.1" ry="2.9" fill="rgb(101,8,7)" transform="rotate(160 237.9 498.8)"/><ellipse cx="234.9" cy="518.7" rx="2.6" ry="2.0" fill="rgb(80,6,5)" transform="rotate(98 234.9 518.7)"/><ellipse cx="234.0" cy="543.5" rx="2.9" ry="2.7" fill="rgb(54,4,3)" transform="rotate(49 234.0 543.5)"/><ellipse cx="231.8" cy="554.0" rx="3.1" ry="2.9" fill="rgb(103,8,7)" transform="rotate(0 231.8 554.0)"/><ellipse cx="244.8" cy="467.5" rx="3.1" ry="2.6" fill="rgb(71,5,5)" transform="rotate(176 244.8 467.5)"/><ellipse cx="243.4" cy="476.1" rx="3.5" ry="2.6" fill="rgb(86,6,6)" transform="rotate(178 243.4 476.1)"/><ellipse cx="241.9" cy="486.0" rx="2.7" ry="2.0" fill="rgb(89,7,6)" transform="rotate(144 241.9 486.0)"/><ellipse cx="244.1" cy="498.8" rx="3.2" ry="2.6" fill="rgb(89,7,6)" transform="rotate(92 244.1 498.8)"/><ellipse cx="242.1" cy="511.5" rx="2.6" ry="1.8" fill="rgb(51,4,3)" transform="rotate(26 242.1 511.5)"/><ellipse cx="243.2" cy="525.8" rx="3.1" ry="2.6" fill="rgb(48,3,3)" transform="rotate(159 243.2 525.8)"/><ellipse cx="248.1" cy="529.9" rx="2.8" ry="2.2" fill="rgb(95,7,6)" transform="rotate(100 248.1 529.9)"/><ellipse cx="246.1" cy="544.1" rx="3.3" ry="2.3" fill="rgb(95,7,6)" transform="rotate(52 246.1 544.1)"/><ellipse cx="247.8" cy="557.2" rx="3.0" ry="2.6" fill="rgb(72,5,5)" transform="rotate(68 247.8 557.2)"/><ellipse cx="252.5" cy="465.0" rx="3.2" ry="2.3" fill="rgb(45,3,3)" transform="rotate(3 252.5 465.0)"/><ellipse cx="257.5" cy="480.1" rx="3.5" ry="2.6" fill="rgb(54,4,3)" transform="rotate(64 257.5 480.1)"/><ellipse cx="254.9" cy="492.7" rx="3.6" ry="2.4" fill="rgb(86,6,6)" transform="rotate(30 254.9 492.7)"/><ellipse cx="253.1" cy="498.8" rx="3.1" ry="2.8" fill="rgb(68,5,4)" transform="rotate(6 253.1 498.8)"/><ellipse cx="258.9" cy="508.4" rx="2.6" ry="2.0" fill="rgb(95,7,6)" transform="rotate(166 258.9 508.4)"/><ellipse cx="254.9" cy="523.7" rx="3.3" ry="3.2" fill="rgb(67,5,4)" transform="rotate(177 254.9 523.7)"/><ellipse cx="253.9" cy="537.3" rx="3.0" ry="2.7" fill="rgb(74,5,5)" transform="rotate(64 253.9 537.3)"/><ellipse cx="255.2" cy="542.1" rx="3.5" ry="2.5" fill="rgb(72,5,5)" transform="rotate(70 255.2 542.1)"/><ellipse cx="253.8" cy="554.1" rx="3.0" ry="2.3" fill="rgb(50,4,3)" transform="rotate(13 253.8 554.1)"/></g>
<path d="M240.8 552.6H252.5M240.8 551.8V553.4M252.5 551.8V553.4" stroke="#bbb" stroke-width="0.6" fill="none"/>
<text x="236.90" y="559.90" font-size="4.8" fill="#ddd" textLength="18.6" lengthAdjust="spacingAndGlyphs">20.17 μm</text>
<text x="310.25" y="440.22" font-size="10.1" text-anchor="middle" font-weight="bold" fill="#2b50a2">DAPI</text>
<text x="310.25" y="455.88" font-size="10" text-anchor="middle">107.03</text>
<clipPath id="cp2"><rect x="263.1" y="460.5" width="95.89999999999998" height="101.70000000000005"/></clipPath>
<rect x="263.10" y="460.50" width="95.90" height="101.70" fill="#020209"/>
<g clip-path="url(#cp2)" filter="url(#nb)"><ellipse cx="277.6" cy="461.2" rx="3.2" ry="2.4" fill="rgb(2,2,24)" transform="rotate(86 277.6 461.2)"/><ellipse cx="309.5" cy="561.9" rx="2.5" ry="2.6" fill="rgb(3,4,41)" transform="rotate(106 309.5 561.9)"/><ellipse cx="296.8" cy="517.4" rx="3.0" ry="1.9" fill="rgb(4,4,46)" transform="rotate(159 296.8 517.4)"/><ellipse cx="287.3" cy="479.7" rx="2.6" ry="1.9" fill="rgb(4,5,52)" transform="rotate(146 287.3 479.7)"/><ellipse cx="343.1" cy="534.2" rx="2.5" ry="1.6" fill="rgb(2,3,30)" transform="rotate(30 343.1 534.2)"/><ellipse cx="327.8" cy="488.1" rx="2.3" ry="2.3" fill="rgb(2,2,26)" transform="rotate(119 327.8 488.1)"/><ellipse cx="264.1" cy="481.9" rx="3.5" ry="1.6" fill="rgb(3,4,42)" transform="rotate(62 264.1 481.9)"/><ellipse cx="339.1" cy="535.3" rx="2.8" ry="2.6" fill="rgb(4,5,53)" transform="rotate(25 339.1 535.3)"/><ellipse cx="352.9" cy="509.5" rx="3.3" ry="2.1" fill="rgb(5,5,56)" transform="rotate(159 352.9 509.5)"/><ellipse cx="265.4" cy="519.2" rx="2.6" ry="2.1" fill="rgb(3,3,37)" transform="rotate(168 265.4 519.2)"/><ellipse cx="289.6" cy="561.4" rx="3.1" ry="2.1" fill="rgb(3,3,35)" transform="rotate(17 289.6 561.4)"/><ellipse cx="349.9" cy="493.2" rx="2.4" ry="2.0" fill="rgb(4,5,50)" transform="rotate(54 349.9 493.2)"/><ellipse cx="267.6" cy="473.8" rx="2.7" ry="1.9" fill="rgb(3,3,36)" transform="rotate(39 267.6 473.8)"/><ellipse cx="276.8" cy="496.1" rx="2.8" ry="1.6" fill="rgb(3,4,42)" transform="rotate(103 276.8 496.1)"/><ellipse cx="272.2" cy="557.2" rx="3.3" ry="2.5" fill="rgb(2,2,24)" transform="rotate(44 272.2 557.2)"/><ellipse cx="293.9" cy="537.2" rx="2.4" ry="2.8" fill="rgb(3,3,39)" transform="rotate(56 293.9 537.2)"/><ellipse cx="311.0" cy="539.9" rx="3.4" ry="2.6" fill="rgb(2,2,26)" transform="rotate(99 311.0 539.9)"/><ellipse cx="354.0" cy="493.3" rx="2.5" ry="2.0" fill="rgb(5,5,59)" transform="rotate(37 354.0 493.3)"/><ellipse cx="333.1" cy="527.9" rx="3.4" ry="1.7" fill="rgb(4,4,46)" transform="rotate(88 333.1 527.9)"/><ellipse cx="348.2" cy="547.6" rx="3.1" ry="2.2" fill="rgb(3,4,44)" transform="rotate(29 348.2 547.6)"/><ellipse cx="274.7" cy="535.6" rx="3.2" ry="2.1" fill="rgb(3,4,40)" transform="rotate(98 274.7 535.6)"/><ellipse cx="311.2" cy="498.7" rx="2.9" ry="1.7" fill="rgb(5,5,57)" transform="rotate(135 311.2 498.7)"/><ellipse cx="323.3" cy="505.9" rx="3.0" ry="2.3" fill="rgb(5,5,57)" transform="rotate(38 323.3 505.9)"/><ellipse cx="314.6" cy="493.9" rx="2.6" ry="2.4" fill="rgb(2,3,30)" transform="rotate(120 314.6 493.9)"/><ellipse cx="358.0" cy="501.4" rx="3.3" ry="1.8" fill="rgb(5,5,59)" transform="rotate(125 358.0 501.4)"/><ellipse cx="273.7" cy="479.5" rx="3.4" ry="2.6" fill="rgb(2,2,29)" transform="rotate(29 273.7 479.5)"/><ellipse cx="339.6" cy="512.5" rx="3.5" ry="1.7" fill="rgb(4,5,55)" transform="rotate(87 339.6 512.5)"/><ellipse cx="287.1" cy="542.6" rx="2.8" ry="2.2" fill="rgb(4,5,55)" transform="rotate(50 287.1 542.6)"/><ellipse cx="310.0" cy="558.3" rx="2.6" ry="1.7" fill="rgb(3,3,39)" transform="rotate(125 310.0 558.3)"/><ellipse cx="347.2" cy="467.8" rx="2.9" ry="1.7" fill="rgb(4,5,55)" transform="rotate(16 347.2 467.8)"/><ellipse cx="339.5" cy="475.9" rx="2.7" ry="1.7" fill="rgb(2,2,25)" transform="rotate(88 339.5 475.9)"/><ellipse cx="354.7" cy="482.8" rx="2.6" ry="2.1" fill="rgb(4,4,46)" transform="rotate(7 354.7 482.8)"/><ellipse cx="344.5" cy="523.3" rx="3.4" ry="1.7" fill="rgb(5,5,59)" transform="rotate(52 344.5 523.3)"/><ellipse cx="314.1" cy="492.7" rx="3.4" ry="2.8" fill="rgb(3,4,44)" transform="rotate(110 314.1 492.7)"/><ellipse cx="299.4" cy="543.5" rx="3.1" ry="2.6" fill="rgb(5,5,58)" transform="rotate(168 299.4 543.5)"/><ellipse cx="320.9" cy="531.2" rx="2.5" ry="1.8" fill="rgb(4,4,48)" transform="rotate(119 320.9 531.2)"/><ellipse cx="267.1" cy="488.8" rx="2.6" ry="2.0" fill="rgb(4,4,46)" transform="rotate(78 267.1 488.8)"/><ellipse cx="281.9" cy="561.7" rx="3.1" ry="2.5" fill="rgb(3,3,36)" transform="rotate(79 281.9 561.7)"/><ellipse cx="336.9" cy="480.9" rx="2.4" ry="1.9" fill="rgb(3,3,37)" transform="rotate(156 336.9 480.9)"/><ellipse cx="302.3" cy="507.0" rx="2.9" ry="2.7" fill="rgb(3,3,36)" transform="rotate(180 302.3 507.0)"/><ellipse cx="267.8" cy="462.5" rx="2.4" ry="2.2" fill="rgb(12,13,135)" transform="rotate(20 267.8 462.5)"/><ellipse cx="267.5" cy="479.3" rx="2.8" ry="2.4" fill="rgb(10,11,114)" transform="rotate(114 267.5 479.3)"/><ellipse cx="266.9" cy="484.6" rx="3.0" ry="2.5" fill="rgb(7,8,82)" transform="rotate(169 266.9 484.6)"/><ellipse cx="269.2" cy="494.0" rx="2.8" ry="1.9" fill="rgb(14,15,155)" transform="rotate(64 269.2 494.0)"/><ellipse cx="266.2" cy="503.0" rx="3.4" ry="3.0" fill="rgb(6,6,69)" transform="rotate(168 266.2 503.0)"/><ellipse cx="264.7" cy="525.5" rx="2.7" ry="2.4" fill="rgb(11,12,127)" transform="rotate(88 264.7 525.5)"/><ellipse cx="270.3" cy="539.8" rx="3.1" ry="2.2" fill="rgb(5,6,64)" transform="rotate(43 270.3 539.8)"/><ellipse cx="266.5" cy="548.3" rx="3.0" ry="2.8" fill="rgb(13,14,145)" transform="rotate(101 266.5 548.3)"/><ellipse cx="265.8" cy="557.5" rx="2.4" ry="1.6" fill="rgb(12,13,139)" transform="rotate(167 265.8 557.5)"/><ellipse cx="278.7" cy="463.3" rx="3.5" ry="2.5" fill="rgb(7,8,88)" transform="rotate(36 278.7 463.3)"/><ellipse cx="274.4" cy="478.2" rx="2.3" ry="2.2" fill="rgb(11,13,130)" transform="rotate(64 274.4 478.2)"/><ellipse cx="281.1" cy="485.7" rx="3.4" ry="2.6" fill="rgb(7,7,79)" transform="rotate(94 281.1 485.7)"/><ellipse cx="280.9" cy="499.3" rx="2.3" ry="1.8" fill="rgb(11,12,127)" transform="rotate(136 280.9 499.3)"/><ellipse cx="279.6" cy="503.0" rx="3.5" ry="2.9" fill="rgb(6,7,72)" transform="rotate(60 279.6 503.0)"/><ellipse cx="274.3" cy="516.5" rx="2.7" ry="2.3" fill="rgb(8,9,90)" transform="rotate(105 274.3 516.5)"/><ellipse cx="281.2" cy="527.3" rx="2.5" ry="1.7" fill="rgb(7,7,79)" transform="rotate(26 281.2 527.3)"/><ellipse cx="277.5" cy="533.9" rx="3.0" ry="2.1" fill="rgb(11,13,131)" transform="rotate(30 277.5 533.9)"/><ellipse cx="273.7" cy="544.1" rx="3.3" ry="2.9" fill="rgb(11,13,131)" transform="rotate(40 273.7 544.1)"/><ellipse cx="278.4" cy="556.3" rx="2.9" ry="2.7" fill="rgb(9,10,107)" transform="rotate(11 278.4 556.3)"/><ellipse cx="285.5" cy="463.3" rx="2.9" ry="2.5" fill="rgb(8,9,97)" transform="rotate(125 285.5 463.3)"/><ellipse cx="290.9" cy="476.2" rx="2.5" ry="2.3" fill="rgb(15,16,167)" transform="rotate(24 290.9 476.2)"/><ellipse cx="285.5" cy="487.9" rx="2.6" ry="2.0" fill="rgb(10,11,114)" transform="rotate(122 285.5 487.9)"/><ellipse cx="288.2" cy="494.7" rx="2.4" ry="1.8" fill="rgb(11,13,130)" transform="rotate(41 288.2 494.7)"/><ellipse cx="287.4" cy="505.4" rx="2.6" ry="1.7" fill="rgb(10,11,112)" transform="rotate(80 287.4 505.4)"/><ellipse cx="290.5" cy="516.6" rx="2.9" ry="2.6" fill="rgb(10,11,114)" transform="rotate(151 290.5 516.6)"/><ellipse cx="283.3" cy="527.4" rx="3.5" ry="2.6" fill="rgb(12,13,135)" transform="rotate(94 283.3 527.4)"/><ellipse cx="284.8" cy="538.9" rx="2.4" ry="1.7" fill="rgb(6,7,75)" transform="rotate(88 284.8 538.9)"/><ellipse cx="294.9" cy="468.0" rx="2.8" ry="2.6" fill="rgb(9,10,103)" transform="rotate(73 294.9 468.0)"/><ellipse cx="293.6" cy="474.9" rx="2.6" ry="1.9" fill="rgb(5,6,65)" transform="rotate(38 293.6 474.9)"/><ellipse cx="298.9" cy="487.1" rx="2.4" ry="2.1" fill="rgb(6,7,72)" transform="rotate(159 298.9 487.1)"/><ellipse cx="295.4" cy="508.0" rx="3.0" ry="2.6" fill="rgb(8,9,95)" transform="rotate(139 295.4 508.0)"/><ellipse cx="296.0" cy="528.1" rx="3.5" ry="3.2" fill="rgb(6,7,76)" transform="rotate(21 296.0 528.1)"/><ellipse cx="298.6" cy="535.8" rx="2.8" ry="2.2" fill="rgb(7,8,80)" transform="rotate(81 298.6 535.8)"/><ellipse cx="298.4" cy="549.7" rx="3.4" ry="2.6" fill="rgb(14,15,156)" transform="rotate(28 298.4 549.7)"/><ellipse cx="295.9" cy="558.7" rx="3.1" ry="2.1" fill="rgb(13,14,149)" transform="rotate(24 295.9 558.7)"/><ellipse cx="306.5" cy="468.3" rx="2.4" ry="2.2" fill="rgb(10,11,113)" transform="rotate(8 306.5 468.3)"/><ellipse cx="309.6" cy="473.3" rx="3.1" ry="2.5" fill="rgb(10,11,113)" transform="rotate(99 309.6 473.3)"/><ellipse cx="306.1" cy="486.3" rx="3.3" ry="2.9" fill="rgb(9,10,106)" transform="rotate(3 306.1 486.3)"/><ellipse cx="303.7" cy="494.9" rx="3.0" ry="2.4" fill="rgb(10,11,117)" transform="rotate(147 303.7 494.9)"/><ellipse cx="306.0" cy="508.5" rx="2.5" ry="2.1" fill="rgb(10,12,121)" transform="rotate(23 306.0 508.5)"/><ellipse cx="304.2" cy="514.5" rx="3.2" ry="2.6" fill="rgb(9,10,102)" transform="rotate(16 304.2 514.5)"/><ellipse cx="304.4" cy="524.5" rx="2.6" ry="2.4" fill="rgb(6,7,77)" transform="rotate(46 304.4 524.5)"/><ellipse cx="309.4" cy="536.4" rx="2.9" ry="2.1" fill="rgb(14,16,160)" transform="rotate(26 309.4 536.4)"/><ellipse cx="306.3" cy="544.1" rx="3.5" ry="2.6" fill="rgb(7,8,83)" transform="rotate(125 306.3 544.1)"/><ellipse cx="303.6" cy="560.8" rx="3.2" ry="2.9" fill="rgb(6,6,67)" transform="rotate(39 303.6 560.8)"/><ellipse cx="313.5" cy="465.9" rx="3.0" ry="2.1" fill="rgb(12,14,143)" transform="rotate(149 313.5 465.9)"/><ellipse cx="319.7" cy="474.7" rx="2.7" ry="1.8" fill="rgb(13,15,154)" transform="rotate(74 319.7 474.7)"/><ellipse cx="318.4" cy="489.8" rx="2.4" ry="1.8" fill="rgb(8,8,88)" transform="rotate(64 318.4 489.8)"/><ellipse cx="314.2" cy="496.6" rx="2.6" ry="1.8" fill="rgb(6,7,72)" transform="rotate(71 314.2 496.6)"/><ellipse cx="313.2" cy="505.4" rx="3.3" ry="2.7" fill="rgb(7,8,86)" transform="rotate(22 313.2 505.4)"/><ellipse cx="317.6" cy="516.7" rx="3.1" ry="2.9" fill="rgb(15,16,169)" transform="rotate(66 317.6 516.7)"/><ellipse cx="315.3" cy="528.9" rx="3.1" ry="2.5" fill="rgb(11,12,129)" transform="rotate(175 315.3 528.9)"/><ellipse cx="317.6" cy="540.4" rx="2.9" ry="2.4" fill="rgb(9,10,107)" transform="rotate(59 317.6 540.4)"/><ellipse cx="316.4" cy="560.6" rx="3.2" ry="2.4" fill="rgb(5,5,57)" transform="rotate(144 316.4 560.6)"/><ellipse cx="323.1" cy="464.5" rx="2.7" ry="1.9" fill="rgb(14,16,160)" transform="rotate(170 323.1 464.5)"/><ellipse cx="329.1" cy="497.6" rx="3.3" ry="2.9" fill="rgb(11,13,132)" transform="rotate(19 329.1 497.6)"/><ellipse cx="326.8" cy="502.9" rx="3.1" ry="2.6" fill="rgb(16,18,185)" transform="rotate(180 326.8 502.9)"/><ellipse cx="323.1" cy="528.2" rx="2.3" ry="2.2" fill="rgb(16,18,180)" transform="rotate(22 323.1 528.2)"/><ellipse cx="323.9" cy="535.4" rx="3.1" ry="2.9" fill="rgb(16,18,185)" transform="rotate(39 323.9 535.4)"/><ellipse cx="328.8" cy="543.0" rx="2.9" ry="2.4" fill="rgb(12,14,143)" transform="rotate(156 328.8 543.0)"/><ellipse cx="324.0" cy="554.4" rx="3.2" ry="2.2" fill="rgb(14,16,160)" transform="rotate(27 324.0 554.4)"/><ellipse cx="338.5" cy="471.9" rx="2.3" ry="2.1" fill="rgb(11,13,131)" transform="rotate(133 338.5 471.9)"/><ellipse cx="337.1" cy="487.3" rx="2.4" ry="1.8" fill="rgb(15,17,175)" transform="rotate(55 337.1 487.3)"/><ellipse cx="337.6" cy="495.3" rx="2.7" ry="2.0" fill="rgb(5,6,66)" transform="rotate(61 337.6 495.3)"/><ellipse cx="335.7" cy="506.5" rx="2.7" ry="2.3" fill="rgb(11,12,122)" transform="rotate(60 335.7 506.5)"/><ellipse cx="334.4" cy="514.0" rx="2.6" ry="2.0" fill="rgb(8,9,94)" transform="rotate(85 334.4 514.0)"/><ellipse cx="336.4" cy="527.5" rx="3.0" ry="2.5" fill="rgb(12,13,134)" transform="rotate(5 336.4 527.5)"/><ellipse cx="333.0" cy="535.2" rx="2.7" ry="2.3" fill="rgb(13,14,144)" transform="rotate(63 333.0 535.2)"/><ellipse cx="331.8" cy="549.1" rx="2.6" ry="1.9" fill="rgb(9,10,106)" transform="rotate(35 331.8 549.1)"/><ellipse cx="333.9" cy="560.5" rx="3.5" ry="2.7" fill="rgb(6,6,68)" transform="rotate(171 333.9 560.5)"/><ellipse cx="343.4" cy="467.9" rx="2.8" ry="2.0" fill="rgb(10,11,114)" transform="rotate(17 343.4 467.9)"/><ellipse cx="347.1" cy="471.8" rx="2.9" ry="2.2" fill="rgb(5,6,61)" transform="rotate(40 347.1 471.8)"/><ellipse cx="342.4" cy="489.0" rx="3.5" ry="3.2" fill="rgb(9,10,101)" transform="rotate(34 342.4 489.0)"/><ellipse cx="346.3" cy="499.7" rx="2.5" ry="1.7" fill="rgb(12,14,140)" transform="rotate(171 346.3 499.7)"/><ellipse cx="343.6" cy="503.2" rx="2.6" ry="2.4" fill="rgb(6,7,72)" transform="rotate(47 343.6 503.2)"/><ellipse cx="346.0" cy="513.4" rx="2.7" ry="2.2" fill="rgb(8,9,95)" transform="rotate(133 346.0 513.4)"/><ellipse cx="345.1" cy="528.7" rx="2.9" ry="2.7" fill="rgb(6,7,71)" transform="rotate(57 345.1 528.7)"/><ellipse cx="348.3" cy="550.5" rx="3.1" ry="2.2" fill="rgb(13,15,151)" transform="rotate(163 348.3 550.5)"/><ellipse cx="343.0" cy="559.5" rx="3.5" ry="2.7" fill="rgb(9,11,111)" transform="rotate(125 343.0 559.5)"/><ellipse cx="351.8" cy="469.2" rx="3.5" ry="2.3" fill="rgb(11,12,124)" transform="rotate(102 351.8 469.2)"/><ellipse cx="352.5" cy="472.1" rx="2.8" ry="2.5" fill="rgb(13,14,145)" transform="rotate(6 352.5 472.1)"/><ellipse cx="356.5" cy="485.9" rx="3.1" ry="2.4" fill="rgb(6,7,73)" transform="rotate(3 356.5 485.9)"/><ellipse cx="357.8" cy="494.8" rx="3.3" ry="2.7" fill="rgb(11,12,127)" transform="rotate(64 357.8 494.8)"/><ellipse cx="352.8" cy="505.1" rx="3.4" ry="2.8" fill="rgb(9,10,106)" transform="rotate(138 352.8 505.1)"/><ellipse cx="352.3" cy="520.1" rx="2.9" ry="2.5" fill="rgb(11,12,129)" transform="rotate(168 352.3 520.1)"/><ellipse cx="354.3" cy="530.5" rx="2.6" ry="1.9" fill="rgb(12,13,134)" transform="rotate(60 354.3 530.5)"/><ellipse cx="353.5" cy="538.4" rx="2.7" ry="2.3" fill="rgb(10,12,121)" transform="rotate(0 353.5 538.4)"/><ellipse cx="354.7" cy="546.9" rx="3.4" ry="2.7" fill="rgb(8,8,89)" transform="rotate(0 354.7 546.9)"/><ellipse cx="353.4" cy="557.1" rx="3.3" ry="2.7" fill="rgb(4,5,54)" transform="rotate(81 353.4 557.1)"/></g>
<path d="M338.5 552.6H350.2M338.5 551.8V553.4M350.2 551.8V553.4" stroke="#bbb" stroke-width="0.6" fill="none"/>
<text x="334.60" y="559.90" font-size="4.8" fill="#ddd" textLength="18.6" lengthAdjust="spacingAndGlyphs">20.17 μm</text>
<text x="409.45" y="440.22" font-size="10.1" text-anchor="middle" font-weight="bold" fill="#ff1a1a">pSMAD3(AF647)</text>
<text x="409.45" y="455.88" font-size="10" text-anchor="middle">26.68</text>
<clipPath id="cp3"><rect x="360.7" y="460.5" width="99.10000000000002" height="101.70000000000005"/></clipPath>
<rect x="360.70" y="460.50" width="99.10" height="101.70" fill="#090000"/>
<g clip-path="url(#cp3)" filter="url(#nb)"><ellipse cx="410.0" cy="509.5" rx="3.4" ry="3.0" fill="rgb(25,2,1)" transform="rotate(113 410.0 509.5)"/><ellipse cx="365.7" cy="489.0" rx="2.7" ry="2.5" fill="rgb(28,2,1)" transform="rotate(10 365.7 489.0)"/><ellipse cx="385.9" cy="552.3" rx="3.2" ry="2.3" fill="rgb(32,2,2)" transform="rotate(18 385.9 552.3)"/><ellipse cx="409.2" cy="509.5" rx="2.9" ry="2.8" fill="rgb(31,2,2)" transform="rotate(87 409.2 509.5)"/><ellipse cx="452.5" cy="526.3" rx="3.4" ry="2.4" fill="rgb(26,2,1)" transform="rotate(170 452.5 526.3)"/><ellipse cx="451.6" cy="530.2" rx="3.6" ry="2.7" fill="rgb(39,3,2)" transform="rotate(45 451.6 530.2)"/><ellipse cx="372.4" cy="508.9" rx="3.5" ry="1.9" fill="rgb(39,3,2)" transform="rotate(131 372.4 508.9)"/><ellipse cx="425.9" cy="508.4" rx="3.4" ry="2.6" fill="rgb(28,2,1)" transform="rotate(164 425.9 508.4)"/><ellipse cx="446.5" cy="559.8" rx="2.8" ry="2.1" fill="rgb(25,2,1)" transform="rotate(99 446.5 559.8)"/><ellipse cx="391.5" cy="479.4" rx="3.4" ry="2.7" fill="rgb(44,3,2)" transform="rotate(159 391.5 479.4)"/><ellipse cx="425.0" cy="536.7" rx="3.4" ry="2.4" fill="rgb(29,2,1)" transform="rotate(100 425.0 536.7)"/><ellipse cx="438.5" cy="549.3" rx="3.3" ry="3.0" fill="rgb(35,2,2)" transform="rotate(125 438.5 549.3)"/><ellipse cx="383.0" cy="532.8" rx="2.6" ry="2.9" fill="rgb(31,2,2)" transform="rotate(58 383.0 532.8)"/><ellipse cx="383.6" cy="523.4" rx="2.7" ry="2.0" fill="rgb(29,2,1)" transform="rotate(119 383.6 523.4)"/><ellipse cx="387.7" cy="479.6" rx="3.4" ry="2.7" fill="rgb(43,3,2)" transform="rotate(84 387.7 479.6)"/><ellipse cx="393.2" cy="466.0" rx="2.6" ry="2.5" fill="rgb(33,2,2)" transform="rotate(77 393.2 466.0)"/><ellipse cx="456.1" cy="539.2" rx="3.0" ry="2.2" fill="rgb(32,2,2)" transform="rotate(124 456.1 539.2)"/><ellipse cx="367.2" cy="470.3" rx="3.4" ry="1.9" fill="rgb(38,3,2)" transform="rotate(134 367.2 470.3)"/><ellipse cx="385.5" cy="480.8" rx="3.3" ry="2.1" fill="rgb(26,2,1)" transform="rotate(17 385.5 480.8)"/><ellipse cx="394.4" cy="558.0" rx="3.0" ry="2.9" fill="rgb(41,3,2)" transform="rotate(136 394.4 558.0)"/><ellipse cx="401.8" cy="501.9" rx="2.9" ry="2.4" fill="rgb(43,3,2)" transform="rotate(31 401.8 501.9)"/><ellipse cx="403.2" cy="508.9" rx="3.1" ry="2.6" fill="rgb(39,3,2)" transform="rotate(128 403.2 508.9)"/><ellipse cx="450.1" cy="486.0" rx="3.2" ry="3.0" fill="rgb(32,2,2)" transform="rotate(48 450.1 486.0)"/><ellipse cx="378.7" cy="560.9" rx="3.3" ry="2.0" fill="rgb(44,3,2)" transform="rotate(149 378.7 560.9)"/><ellipse cx="432.7" cy="493.0" rx="3.5" ry="2.6" fill="rgb(37,2,2)" transform="rotate(116 432.7 493.0)"/><ellipse cx="366.7" cy="559.7" rx="3.7" ry="2.1" fill="rgb(24,1,1)" transform="rotate(14 366.7 559.7)"/><ellipse cx="415.2" cy="460.7" rx="3.2" ry="2.6" fill="rgb(41,3,2)" transform="rotate(108 415.2 460.7)"/><ellipse cx="410.1" cy="540.3" rx="2.9" ry="2.8" fill="rgb(24,1,1)" transform="rotate(157 410.1 540.3)"/><ellipse cx="401.2" cy="469.3" rx="3.3" ry="2.1" fill="rgb(33,2,2)" transform="rotate(103 401.2 469.3)"/><ellipse cx="362.4" cy="467.9" rx="3.1" ry="2.4" fill="rgb(20,1,1)" transform="rotate(62 362.4 467.9)"/><ellipse cx="445.1" cy="510.0" rx="3.3" ry="2.2" fill="rgb(44,3,2)" transform="rotate(30 445.1 510.0)"/><ellipse cx="394.0" cy="462.7" rx="3.6" ry="2.7" fill="rgb(33,2,2)" transform="rotate(102 394.0 462.7)"/><ellipse cx="446.9" cy="480.0" rx="2.6" ry="1.9" fill="rgb(25,2,1)" transform="rotate(53 446.9 480.0)"/><ellipse cx="397.0" cy="504.9" rx="3.1" ry="2.2" fill="rgb(34,2,2)" transform="rotate(105 397.0 504.9)"/><ellipse cx="447.2" cy="523.8" rx="2.7" ry="2.7" fill="rgb(34,2,2)" transform="rotate(140 447.2 523.8)"/><ellipse cx="365.1" cy="469.7" rx="3.8" ry="3.3" fill="rgb(65,5,4)" transform="rotate(171 365.1 469.7)"/><ellipse cx="363.8" cy="489.7" rx="3.3" ry="3.1" fill="rgb(77,6,5)" transform="rotate(54 363.8 489.7)"/><ellipse cx="363.8" cy="502.5" rx="3.2" ry="3.1" fill="rgb(71,5,4)" transform="rotate(100 363.8 502.5)"/><ellipse cx="368.6" cy="520.5" rx="3.3" ry="2.4" fill="rgb(78,6,5)" transform="rotate(50 368.6 520.5)"/><ellipse cx="365.6" cy="533.9" rx="2.7" ry="1.9" fill="rgb(94,7,6)" transform="rotate(17 365.6 533.9)"/><ellipse cx="368.1" cy="547.6" rx="3.5" ry="2.9" fill="rgb(59,4,3)" transform="rotate(180 368.1 547.6)"/><ellipse cx="365.4" cy="553.5" rx="2.6" ry="2.3" fill="rgb(78,6,5)" transform="rotate(130 365.4 553.5)"/><ellipse cx="375.2" cy="466.8" rx="3.2" ry="2.6" fill="rgb(52,4,3)" transform="rotate(160 375.2 466.8)"/><ellipse cx="377.2" cy="477.3" rx="3.7" ry="3.5" fill="rgb(98,7,6)" transform="rotate(25 377.2 477.3)"/><ellipse cx="376.9" cy="489.0" rx="3.8" ry="3.1" fill="rgb(127,10,8)" transform="rotate(90 376.9 489.0)"/><ellipse cx="373.3" cy="495.6" rx="3.3" ry="2.3" fill="rgb(77,6,5)" transform="rotate(55 373.3 495.6)"/><ellipse cx="375.2" cy="510.1" rx="3.2" ry="2.1" fill="rgb(80,6,5)" transform="rotate(168 375.2 510.1)"/><ellipse cx="379.8" cy="523.8" rx="3.6" ry="3.0" fill="rgb(66,5,4)" transform="rotate(6 379.8 523.8)"/><ellipse cx="379.3" cy="554.4" rx="3.2" ry="2.7" fill="rgb(43,3,2)" transform="rotate(74 379.3 554.4)"/><ellipse cx="385.7" cy="468.0" rx="3.4" ry="2.6" fill="rgb(112,9,7)" transform="rotate(55 385.7 468.0)"/><ellipse cx="390.0" cy="473.2" rx="3.7" ry="3.3" fill="rgb(68,5,4)" transform="rotate(129 390.0 473.2)"/><ellipse cx="385.8" cy="486.2" rx="3.3" ry="2.3" fill="rgb(133,10,8)" transform="rotate(87 385.8 486.2)"/><ellipse cx="391.6" cy="497.1" rx="2.8" ry="2.3" fill="rgb(121,9,8)" transform="rotate(121 391.6 497.1)"/><ellipse cx="390.0" cy="508.8" rx="3.7" ry="3.3" fill="rgb(72,5,4)" transform="rotate(93 390.0 508.8)"/><ellipse cx="389.7" cy="537.1" rx="3.5" ry="3.1" fill="rgb(109,8,7)" transform="rotate(149 389.7 537.1)"/><ellipse cx="389.1" cy="558.9" rx="3.2" ry="2.6" fill="rgb(72,5,4)" transform="rotate(26 389.1 558.9)"/><ellipse cx="402.8" cy="467.2" rx="3.3" ry="2.2" fill="rgb(57,4,3)" transform="rotate(173 402.8 467.2)"/><ellipse cx="399.0" cy="475.5" rx="3.3" ry="2.5" fill="rgb(78,6,5)" transform="rotate(63 399.0 475.5)"/><ellipse cx="397.5" cy="484.4" rx="3.0" ry="2.4" fill="rgb(64,5,4)" transform="rotate(44 397.5 484.4)"/><ellipse cx="399.0" cy="511.5" rx="3.0" ry="2.7" fill="rgb(124,9,8)" transform="rotate(159 399.0 511.5)"/><ellipse cx="398.7" cy="524.6" rx="2.9" ry="2.6" fill="rgb(85,6,5)" transform="rotate(67 398.7 524.6)"/><ellipse cx="399.5" cy="534.2" rx="3.5" ry="3.3" fill="rgb(70,5,4)" transform="rotate(5 399.5 534.2)"/><ellipse cx="398.3" cy="546.6" rx="2.6" ry="2.1" fill="rgb(92,7,6)" transform="rotate(94 398.3 546.6)"/><ellipse cx="402.2" cy="558.2" rx="3.4" ry="3.0" fill="rgb(80,6,5)" transform="rotate(101 402.2 558.2)"/><ellipse cx="407.8" cy="466.9" rx="3.4" ry="3.1" fill="rgb(61,4,4)" transform="rotate(28 407.8 466.9)"/><ellipse cx="414.4" cy="477.8" rx="3.2" ry="2.4" fill="rgb(125,10,8)" transform="rotate(132 414.4 477.8)"/><ellipse cx="414.3" cy="489.0" rx="2.7" ry="2.5" fill="rgb(125,10,8)" transform="rotate(163 414.3 489.0)"/><ellipse cx="409.8" cy="504.5" rx="3.7" ry="3.0" fill="rgb(105,8,7)" transform="rotate(14 409.8 504.5)"/><ellipse cx="407.4" cy="511.0" rx="3.7" ry="3.1" fill="rgb(73,5,4)" transform="rotate(114 407.4 511.0)"/><ellipse cx="413.0" cy="527.1" rx="3.7" ry="3.1" fill="rgb(52,4,3)" transform="rotate(168 413.0 527.1)"/><ellipse cx="411.2" cy="531.6" rx="3.0" ry="2.1" fill="rgb(135,10,9)" transform="rotate(133 411.2 531.6)"/><ellipse cx="408.2" cy="559.4" rx="3.5" ry="3.0" fill="rgb(48,3,3)" transform="rotate(8 408.2 559.4)"/><ellipse cx="423.2" cy="468.8" rx="3.4" ry="2.9" fill="rgb(118,9,7)" transform="rotate(165 423.2 468.8)"/><ellipse cx="419.7" cy="475.3" rx="3.6" ry="2.5" fill="rgb(102,8,6)" transform="rotate(157 419.7 475.3)"/><ellipse cx="424.5" cy="498.3" rx="3.7" ry="3.1" fill="rgb(87,7,5)" transform="rotate(165 424.5 498.3)"/><ellipse cx="421.2" cy="515.6" rx="2.9" ry="2.1" fill="rgb(140,11,9)" transform="rotate(172 421.2 515.6)"/><ellipse cx="423.0" cy="532.9" rx="3.7" ry="3.2" fill="rgb(61,4,4)" transform="rotate(162 423.0 532.9)"/><ellipse cx="422.4" cy="544.2" rx="3.5" ry="2.8" fill="rgb(53,4,3)" transform="rotate(125 422.4 544.2)"/><ellipse cx="417.9" cy="554.3" rx="2.7" ry="2.1" fill="rgb(96,7,6)" transform="rotate(142 417.9 554.3)"/><ellipse cx="429.2" cy="467.0" rx="3.7" ry="2.6" fill="rgb(84,6,5)" transform="rotate(127 429.2 467.0)"/><ellipse cx="433.5" cy="478.6" rx="3.1" ry="2.5" fill="rgb(49,3,3)" transform="rotate(138 433.5 478.6)"/><ellipse cx="428.2" cy="485.9" rx="3.2" ry="2.9" fill="rgb(104,8,6)" transform="rotate(41 428.2 485.9)"/><ellipse cx="434.2" cy="496.0" rx="3.6" ry="2.5" fill="rgb(64,5,4)" transform="rotate(9 434.2 496.0)"/><ellipse cx="430.0" cy="512.7" rx="2.8" ry="2.4" fill="rgb(64,5,4)" transform="rotate(87 430.0 512.7)"/><ellipse cx="435.9" cy="518.5" rx="2.7" ry="2.0" fill="rgb(67,5,4)" transform="rotate(28 435.9 518.5)"/><ellipse cx="428.5" cy="534.2" rx="2.7" ry="2.4" fill="rgb(121,9,8)" transform="rotate(104 428.5 534.2)"/><ellipse cx="432.9" cy="545.3" rx="3.1" ry="2.4" fill="rgb(49,3,3)" transform="rotate(157 432.9 545.3)"/><ellipse cx="447.1" cy="465.5" rx="3.5" ry="3.2" fill="rgb(60,4,4)" transform="rotate(73 447.1 465.5)"/><ellipse cx="440.0" cy="476.4" rx="3.4" ry="2.6" fill="rgb(102,8,6)" transform="rotate(167 440.0 476.4)"/><ellipse cx="441.5" cy="502.3" rx="3.5" ry="3.0" fill="rgb(131,10,8)" transform="rotate(47 441.5 502.3)"/><ellipse cx="446.5" cy="509.9" rx="2.9" ry="2.4" fill="rgb(57,4,3)" transform="rotate(106 446.5 509.9)"/><ellipse cx="442.1" cy="523.6" rx="3.8" ry="3.4" fill="rgb(99,7,6)" transform="rotate(71 442.1 523.6)"/><ellipse cx="446.3" cy="535.4" rx="3.8" ry="2.6" fill="rgb(78,6,5)" transform="rotate(144 446.3 535.4)"/><ellipse cx="444.7" cy="556.0" rx="3.3" ry="2.3" fill="rgb(111,8,7)" transform="rotate(99 444.7 556.0)"/><ellipse cx="453.8" cy="469.4" rx="3.8" ry="2.8" fill="rgb(64,5,4)" transform="rotate(177 453.8 469.4)"/><ellipse cx="454.7" cy="475.3" rx="3.1" ry="2.5" fill="rgb(93,7,6)" transform="rotate(29 454.7 475.3)"/><ellipse cx="452.3" cy="515.8" rx="3.4" ry="2.3" fill="rgb(105,8,7)" transform="rotate(59 452.3 515.8)"/><ellipse cx="451.5" cy="522.3" rx="3.2" ry="2.7" fill="rgb(67,5,4)" transform="rotate(143 451.5 522.3)"/><ellipse cx="452.6" cy="536.1" rx="3.2" ry="2.7" fill="rgb(55,4,3)" transform="rotate(167 452.6 536.1)"/><ellipse cx="451.7" cy="546.3" rx="2.8" ry="1.8" fill="rgb(72,5,4)" transform="rotate(46 451.7 546.3)"/><ellipse cx="451.6" cy="558.1" rx="3.0" ry="2.6" fill="rgb(62,5,4)" transform="rotate(9 451.6 558.1)"/></g>
<path d="M439.3 552.6H451.0M439.3 551.8V553.4M451.0 551.8V553.4" stroke="#bbb" stroke-width="0.6" fill="none"/>
<text x="435.40" y="559.90" font-size="4.8" fill="#ddd" textLength="18.6" lengthAdjust="spacingAndGlyphs">20.17 μm</text>
<text x="508.90" y="440.22" font-size="10.1" text-anchor="middle" font-weight="bold" fill="#2b50a2">DAPI</text>
<text x="508.90" y="455.88" font-size="10" text-anchor="middle">113.16</text>
<clipPath id="cp4"><rect x="461.7" y="460.5" width="96.00000000000006" height="101.70000000000005"/></clipPath>
<rect x="461.70" y="460.50" width="96.00" height="101.70" fill="#020209"/>
<g clip-path="url(#cp4)" filter="url(#nb)"><ellipse cx="475.1" cy="529.3" rx="3.1" ry="2.3" fill="rgb(3,4,38)" transform="rotate(95 475.1 529.3)"/><ellipse cx="552.0" cy="466.3" rx="3.6" ry="2.6" fill="rgb(2,2,26)" transform="rotate(150 552.0 466.3)"/><ellipse cx="477.2" cy="467.0" rx="3.4" ry="2.1" fill="rgb(4,4,43)" transform="rotate(88 477.2 467.0)"/><ellipse cx="549.9" cy="498.4" rx="3.6" ry="2.4" fill="rgb(3,3,37)" transform="rotate(163 549.9 498.4)"/><ellipse cx="517.6" cy="548.3" rx="3.6" ry="3.2" fill="rgb(3,3,32)" transform="rotate(73 517.6 548.3)"/><ellipse cx="522.5" cy="508.1" rx="2.8" ry="2.6" fill="rgb(3,3,31)" transform="rotate(153 522.5 508.1)"/><ellipse cx="549.1" cy="476.4" rx="3.1" ry="2.6" fill="rgb(3,3,35)" transform="rotate(93 549.1 476.4)"/><ellipse cx="527.2" cy="561.2" rx="3.8" ry="2.3" fill="rgb(3,4,38)" transform="rotate(129 527.2 561.2)"/><ellipse cx="502.0" cy="488.9" rx="4.0" ry="2.8" fill="rgb(5,5,54)" transform="rotate(174 502.0 488.9)"/><ellipse cx="507.8" cy="496.8" rx="4.0" ry="2.0" fill="rgb(3,3,36)" transform="rotate(20 507.8 496.8)"/><ellipse cx="554.1" cy="557.4" rx="3.3" ry="2.7" fill="rgb(2,2,26)" transform="rotate(58 554.1 557.4)"/><ellipse cx="535.0" cy="505.7" rx="3.2" ry="2.4" fill="rgb(5,5,53)" transform="rotate(54 535.0 505.7)"/><ellipse cx="531.6" cy="460.8" rx="3.0" ry="2.1" fill="rgb(2,2,28)" transform="rotate(29 531.6 460.8)"/><ellipse cx="547.2" cy="536.7" rx="2.9" ry="2.8" fill="rgb(2,3,30)" transform="rotate(114 547.2 536.7)"/><ellipse cx="479.3" cy="560.3" rx="3.1" ry="2.0" fill="rgb(4,4,46)" transform="rotate(108 479.3 560.3)"/><ellipse cx="536.6" cy="471.6" rx="2.8" ry="2.8" fill="rgb(3,4,38)" transform="rotate(52 536.6 471.6)"/><ellipse cx="541.2" cy="553.2" rx="3.0" ry="2.6" fill="rgb(3,3,33)" transform="rotate(106 541.2 553.2)"/><ellipse cx="481.7" cy="525.9" rx="2.9" ry="3.1" fill="rgb(5,5,55)" transform="rotate(158 481.7 525.9)"/><ellipse cx="479.0" cy="466.7" rx="3.3" ry="3.1" fill="rgb(5,5,56)" transform="rotate(129 479.0 466.7)"/><ellipse cx="484.6" cy="546.4" rx="3.4" ry="2.6" fill="rgb(3,3,32)" transform="rotate(43 484.6 546.4)"/><ellipse cx="514.7" cy="492.8" rx="3.0" ry="2.9" fill="rgb(4,5,48)" transform="rotate(86 514.7 492.8)"/><ellipse cx="526.4" cy="548.8" rx="3.9" ry="2.2" fill="rgb(2,2,24)" transform="rotate(130 526.4 548.8)"/><ellipse cx="470.9" cy="477.7" rx="3.8" ry="2.6" fill="rgb(4,4,44)" transform="rotate(93 470.9 477.7)"/><ellipse cx="480.8" cy="468.3" rx="3.1" ry="2.7" fill="rgb(2,3,31)" transform="rotate(23 480.8 468.3)"/><ellipse cx="529.2" cy="521.3" rx="3.5" ry="2.9" fill="rgb(4,4,43)" transform="rotate(110 529.2 521.3)"/><ellipse cx="500.7" cy="526.4" rx="3.2" ry="2.5" fill="rgb(3,3,35)" transform="rotate(165 500.7 526.4)"/><ellipse cx="485.7" cy="507.9" rx="3.5" ry="2.3" fill="rgb(4,4,46)" transform="rotate(39 485.7 507.9)"/><ellipse cx="542.7" cy="499.8" rx="3.6" ry="2.3" fill="rgb(3,3,33)" transform="rotate(25 542.7 499.8)"/><ellipse cx="554.8" cy="478.2" rx="3.9" ry="2.7" fill="rgb(4,4,44)" transform="rotate(179 554.8 478.2)"/><ellipse cx="475.4" cy="525.4" rx="3.9" ry="2.1" fill="rgb(2,3,31)" transform="rotate(125 475.4 525.4)"/><ellipse cx="470.3" cy="464.8" rx="3.4" ry="2.4" fill="rgb(5,6,58)" transform="rotate(108 470.3 464.8)"/><ellipse cx="465.4" cy="477.3" rx="3.1" ry="2.5" fill="rgb(9,10,103)" transform="rotate(127 465.4 477.3)"/><ellipse cx="463.8" cy="484.9" rx="3.8" ry="3.1" fill="rgb(4,4,45)" transform="rotate(116 463.8 484.9)"/><ellipse cx="466.9" cy="498.4" rx="3.4" ry="2.7" fill="rgb(7,7,74)" transform="rotate(34 466.9 498.4)"/><ellipse cx="470.6" cy="514.7" rx="3.5" ry="2.4" fill="rgb(12,14,135)" transform="rotate(23 470.6 514.7)"/><ellipse cx="468.4" cy="522.7" rx="3.0" ry="2.5" fill="rgb(7,8,80)" transform="rotate(81 468.4 522.7)"/><ellipse cx="470.4" cy="538.1" rx="3.7" ry="3.1" fill="rgb(8,9,91)" transform="rotate(80 470.4 538.1)"/><ellipse cx="464.1" cy="545.5" rx="3.3" ry="2.7" fill="rgb(9,10,95)" transform="rotate(176 464.1 545.5)"/><ellipse cx="469.8" cy="558.9" rx="3.3" ry="3.0" fill="rgb(8,9,88)" transform="rotate(41 469.8 558.9)"/><ellipse cx="480.1" cy="462.7" rx="3.0" ry="2.1" fill="rgb(8,9,87)" transform="rotate(160 480.1 462.7)"/><ellipse cx="476.3" cy="480.6" rx="3.8" ry="2.4" fill="rgb(9,10,102)" transform="rotate(23 476.3 480.6)"/><ellipse cx="475.2" cy="487.4" rx="3.6" ry="3.0" fill="rgb(12,13,126)" transform="rotate(46 475.2 487.4)"/><ellipse cx="477.9" cy="497.4" rx="3.4" ry="2.4" fill="rgb(12,13,128)" transform="rotate(27 477.9 497.4)"/><ellipse cx="478.5" cy="512.0" rx="3.4" ry="2.7" fill="rgb(15,17,163)" transform="rotate(54 478.5 512.0)"/><ellipse cx="476.7" cy="519.6" rx="3.8" ry="3.6" fill="rgb(7,8,76)" transform="rotate(126 476.7 519.6)"/><ellipse cx="475.2" cy="530.5" rx="3.0" ry="2.2" fill="rgb(13,15,144)" transform="rotate(1 475.2 530.5)"/><ellipse cx="474.5" cy="543.9" rx="3.1" ry="2.6" fill="rgb(10,12,114)" transform="rotate(89 474.5 543.9)"/><ellipse cx="477.3" cy="556.3" rx="3.2" ry="2.6" fill="rgb(9,10,98)" transform="rotate(83 477.3 556.3)"/><ellipse cx="490.1" cy="463.0" rx="3.4" ry="2.8" fill="rgb(11,13,126)" transform="rotate(140 490.1 463.0)"/><ellipse cx="492.1" cy="491.8" rx="2.8" ry="2.1" fill="rgb(9,10,103)" transform="rotate(79 492.1 491.8)"/><ellipse cx="484.6" cy="501.7" rx="3.5" ry="2.7" fill="rgb(7,8,81)" transform="rotate(87 484.6 501.7)"/><ellipse cx="486.1" cy="524.7" rx="3.7" ry="2.5" fill="rgb(7,8,81)" transform="rotate(80 486.1 524.7)"/><ellipse cx="484.9" cy="537.0" rx="2.9" ry="2.3" fill="rgb(6,6,66)" transform="rotate(25 484.9 537.0)"/><ellipse cx="486.3" cy="548.1" rx="3.9" ry="3.2" fill="rgb(13,15,145)" transform="rotate(24 486.3 548.1)"/><ellipse cx="492.6" cy="553.8" rx="3.8" ry="2.6" fill="rgb(7,8,79)" transform="rotate(113 492.6 553.8)"/><ellipse cx="497.5" cy="473.7" rx="3.3" ry="2.9" fill="rgb(5,6,58)" transform="rotate(75 497.5 473.7)"/><ellipse cx="497.3" cy="488.0" rx="3.9" ry="3.3" fill="rgb(14,16,154)" transform="rotate(18 497.3 488.0)"/><ellipse cx="498.2" cy="500.9" rx="3.3" ry="2.7" fill="rgb(14,16,157)" transform="rotate(78 498.2 500.9)"/><ellipse cx="499.4" cy="510.4" rx="3.5" ry="2.6" fill="rgb(6,7,67)" transform="rotate(172 499.4 510.4)"/><ellipse cx="501.6" cy="530.3" rx="3.5" ry="2.3" fill="rgb(14,16,152)" transform="rotate(40 501.6 530.3)"/><ellipse cx="505.6" cy="469.6" rx="3.2" ry="2.5" fill="rgb(10,11,106)" transform="rotate(6 505.6 469.6)"/><ellipse cx="508.9" cy="480.5" rx="3.6" ry="2.4" fill="rgb(9,10,102)" transform="rotate(69 508.9 480.5)"/><ellipse cx="512.2" cy="491.8" rx="3.9" ry="3.4" fill="rgb(13,15,143)" transform="rotate(118 512.2 491.8)"/><ellipse cx="513.1" cy="503.1" rx="3.4" ry="3.2" fill="rgb(16,18,178)" transform="rotate(157 513.1 503.1)"/><ellipse cx="510.2" cy="514.9" rx="3.5" ry="2.4" fill="rgb(6,7,67)" transform="rotate(148 510.2 514.9)"/><ellipse cx="510.2" cy="519.4" rx="3.7" ry="3.0" fill="rgb(14,16,156)" transform="rotate(78 510.2 519.4)"/><ellipse cx="509.1" cy="532.4" rx="3.9" ry="3.0" fill="rgb(13,15,144)" transform="rotate(70 509.1 532.4)"/><ellipse cx="508.9" cy="544.9" rx="3.9" ry="3.2" fill="rgb(12,14,134)" transform="rotate(19 508.9 544.9)"/><ellipse cx="519.0" cy="462.6" rx="3.9" ry="3.6" fill="rgb(5,6,59)" transform="rotate(114 519.0 462.6)"/><ellipse cx="520.8" cy="477.5" rx="3.0" ry="2.3" fill="rgb(10,11,111)" transform="rotate(134 520.8 477.5)"/><ellipse cx="521.2" cy="492.7" rx="3.9" ry="3.6" fill="rgb(15,16,159)" transform="rotate(58 521.2 492.7)"/><ellipse cx="517.8" cy="503.8" rx="3.4" ry="2.9" fill="rgb(13,15,145)" transform="rotate(75 517.8 503.8)"/><ellipse cx="516.3" cy="507.7" rx="3.1" ry="2.7" fill="rgb(16,17,169)" transform="rotate(10 516.3 507.7)"/><ellipse cx="517.0" cy="519.2" rx="2.9" ry="2.6" fill="rgb(12,13,132)" transform="rotate(113 517.0 519.2)"/><ellipse cx="524.4" cy="535.9" rx="3.4" ry="2.9" fill="rgb(13,15,146)" transform="rotate(130 524.4 535.9)"/><ellipse cx="524.3" cy="546.2" rx="3.6" ry="3.2" fill="rgb(6,7,70)" transform="rotate(65 524.3 546.2)"/><ellipse cx="517.9" cy="554.1" rx="4.0" ry="3.7" fill="rgb(13,15,143)" transform="rotate(104 517.9 554.1)"/><ellipse cx="533.8" cy="466.8" rx="2.9" ry="2.5" fill="rgb(11,12,120)" transform="rotate(15 533.8 466.8)"/><ellipse cx="530.9" cy="503.6" rx="4.0" ry="3.1" fill="rgb(13,14,140)" transform="rotate(170 530.9 503.6)"/><ellipse cx="530.5" cy="507.4" rx="4.0" ry="3.5" fill="rgb(10,11,107)" transform="rotate(103 530.5 507.4)"/><ellipse cx="528.5" cy="522.2" rx="3.6" ry="2.9" fill="rgb(7,7,75)" transform="rotate(0 528.5 522.2)"/><ellipse cx="534.6" cy="537.0" rx="3.0" ry="2.8" fill="rgb(13,15,143)" transform="rotate(151 534.6 537.0)"/><ellipse cx="532.5" cy="540.9" rx="3.8" ry="3.2" fill="rgb(12,13,131)" transform="rotate(157 532.5 540.9)"/><ellipse cx="527.5" cy="557.8" rx="3.2" ry="3.0" fill="rgb(11,13,124)" transform="rotate(140 527.5 557.8)"/><ellipse cx="543.1" cy="467.1" rx="3.8" ry="3.5" fill="rgb(10,11,108)" transform="rotate(118 543.1 467.1)"/><ellipse cx="537.6" cy="478.5" rx="3.6" ry="3.2" fill="rgb(10,11,111)" transform="rotate(93 537.6 478.5)"/><ellipse cx="540.2" cy="500.0" rx="3.4" ry="2.4" fill="rgb(5,6,61)" transform="rotate(153 540.2 500.0)"/><ellipse cx="541.4" cy="514.9" rx="3.3" ry="2.1" fill="rgb(8,9,93)" transform="rotate(89 541.4 514.9)"/><ellipse cx="540.1" cy="530.0" rx="3.9" ry="3.2" fill="rgb(12,14,134)" transform="rotate(31 540.1 530.0)"/><ellipse cx="540.5" cy="552.4" rx="3.5" ry="3.0" fill="rgb(9,10,96)" transform="rotate(77 540.5 552.4)"/><ellipse cx="548.2" cy="464.4" rx="3.9" ry="2.9" fill="rgb(6,7,73)" transform="rotate(134 548.2 464.4)"/><ellipse cx="554.1" cy="476.2" rx="3.3" ry="3.0" fill="rgb(10,12,115)" transform="rotate(179 554.1 476.2)"/><ellipse cx="549.2" cy="487.0" rx="3.3" ry="2.5" fill="rgb(6,7,72)" transform="rotate(24 549.2 487.0)"/><ellipse cx="556.5" cy="502.5" rx="3.0" ry="2.5" fill="rgb(9,10,103)" transform="rotate(154 556.5 502.5)"/><ellipse cx="551.4" cy="509.7" rx="4.0" ry="2.6" fill="rgb(9,10,95)" transform="rotate(17 551.4 509.7)"/><ellipse cx="548.3" cy="519.0" rx="3.0" ry="2.4" fill="rgb(9,10,96)" transform="rotate(170 548.3 519.0)"/><ellipse cx="552.9" cy="531.3" rx="3.7" ry="3.2" fill="rgb(12,13,129)" transform="rotate(91 552.9 531.3)"/><ellipse cx="548.7" cy="552.9" rx="3.9" ry="2.7" fill="rgb(9,10,97)" transform="rotate(134 548.7 552.9)"/></g>
<path d="M537.2 552.6H548.9M537.2 551.8V553.4M548.9 551.8V553.4" stroke="#bbb" stroke-width="0.6" fill="none"/>
<text x="533.30" y="559.90" font-size="4.8" fill="#ddd" textLength="18.6" lengthAdjust="spacingAndGlyphs">20.17 μm</text>
<text x="607.90" y="440.22" font-size="10.1" text-anchor="middle" font-weight="bold" fill="#ff1a1a">pSMAD3(AF647)</text>
<text x="607.90" y="455.88" font-size="10" text-anchor="middle">17.07**</text>
<clipPath id="cp5"><rect x="559.6" y="460.5" width="98.19999999999993" height="101.70000000000005"/></clipPath>
<rect x="559.60" y="460.50" width="98.20" height="101.70" fill="#070000"/>
<g clip-path="url(#cp5)" filter="url(#nb)"><ellipse cx="617.0" cy="544.4" rx="3.0" ry="3.0" fill="rgb(20,1,1)" transform="rotate(127 617.0 544.4)"/><ellipse cx="643.8" cy="510.9" rx="3.3" ry="2.3" fill="rgb(18,1,1)" transform="rotate(1 643.8 510.9)"/><ellipse cx="650.5" cy="529.5" rx="2.9" ry="2.9" fill="rgb(19,1,1)" transform="rotate(84 650.5 529.5)"/><ellipse cx="630.3" cy="546.0" rx="3.0" ry="2.6" fill="rgb(21,1,1)" transform="rotate(73 630.3 546.0)"/><ellipse cx="627.2" cy="490.3" rx="2.9" ry="2.5" fill="rgb(12,1,0)" transform="rotate(0 627.2 490.3)"/><ellipse cx="569.4" cy="469.8" rx="4.0" ry="2.9" fill="rgb(16,1,1)" transform="rotate(120 569.4 469.8)"/><ellipse cx="575.6" cy="465.5" rx="3.5" ry="2.7" fill="rgb(23,2,1)" transform="rotate(75 575.6 465.5)"/><ellipse cx="586.3" cy="469.1" rx="2.8" ry="3.0" fill="rgb(11,1,0)" transform="rotate(148 586.3 469.1)"/><ellipse cx="600.8" cy="497.9" rx="3.9" ry="2.3" fill="rgb(21,1,1)" transform="rotate(136 600.8 497.9)"/><ellipse cx="601.9" cy="507.6" rx="3.2" ry="2.7" fill="rgb(17,1,1)" transform="rotate(62 601.9 507.6)"/><ellipse cx="628.5" cy="484.1" rx="3.6" ry="3.0" fill="rgb(20,1,1)" transform="rotate(62 628.5 484.1)"/><ellipse cx="588.6" cy="511.7" rx="3.4" ry="2.1" fill="rgb(12,1,0)" transform="rotate(126 588.6 511.7)"/><ellipse cx="564.6" cy="498.0" rx="3.9" ry="2.0" fill="rgb(13,1,1)" transform="rotate(10 564.6 498.0)"/><ellipse cx="559.8" cy="553.8" rx="3.8" ry="3.0" fill="rgb(10,0,0)" transform="rotate(110 559.8 553.8)"/><ellipse cx="583.1" cy="547.3" rx="3.1" ry="2.4" fill="rgb(13,1,1)" transform="rotate(32 583.1 547.3)"/><ellipse cx="603.0" cy="542.7" rx="3.1" ry="3.0" fill="rgb(13,1,0)" transform="rotate(100 603.0 542.7)"/><ellipse cx="640.5" cy="487.5" rx="3.5" ry="2.4" fill="rgb(13,1,0)" transform="rotate(114 640.5 487.5)"/><ellipse cx="652.7" cy="531.1" rx="3.1" ry="2.2" fill="rgb(16,1,1)" transform="rotate(72 652.7 531.1)"/><ellipse cx="581.5" cy="561.0" rx="3.4" ry="2.4" fill="rgb(21,1,1)" transform="rotate(135 581.5 561.0)"/><ellipse cx="571.4" cy="555.6" rx="3.8" ry="3.1" fill="rgb(15,1,1)" transform="rotate(60 571.4 555.6)"/><ellipse cx="576.3" cy="534.3" rx="3.9" ry="2.2" fill="rgb(9,0,0)" transform="rotate(32 576.3 534.3)"/><ellipse cx="605.8" cy="495.7" rx="3.8" ry="3.0" fill="rgb(15,1,1)" transform="rotate(164 605.8 495.7)"/><ellipse cx="561.0" cy="489.3" rx="2.8" ry="2.3" fill="rgb(22,1,1)" transform="rotate(152 561.0 489.3)"/><ellipse cx="573.1" cy="491.4" rx="3.0" ry="2.6" fill="rgb(10,0,0)" transform="rotate(40 573.1 491.4)"/><ellipse cx="626.5" cy="542.7" rx="3.4" ry="3.1" fill="rgb(21,1,1)" transform="rotate(55 626.5 542.7)"/><ellipse cx="590.7" cy="481.0" rx="3.3" ry="2.5" fill="rgb(15,1,1)" transform="rotate(34 590.7 481.0)"/><ellipse cx="588.0" cy="504.3" rx="3.8" ry="3.2" fill="rgb(20,1,1)" transform="rotate(69 588.0 504.3)"/><ellipse cx="589.3" cy="516.6" rx="4.0" ry="3.1" fill="rgb(17,1,1)" transform="rotate(158 589.3 516.6)"/><ellipse cx="573.9" cy="518.4" rx="2.9" ry="2.5" fill="rgb(10,0,0)" transform="rotate(106 573.9 518.4)"/><ellipse cx="606.7" cy="481.7" rx="2.9" ry="2.4" fill="rgb(16,1,1)" transform="rotate(14 606.7 481.7)"/><ellipse cx="562.0" cy="468.1" rx="3.8" ry="3.2" fill="rgb(36,3,2)" transform="rotate(35 562.0 468.1)"/><ellipse cx="562.2" cy="508.3" rx="3.5" ry="3.2" fill="rgb(43,3,3)" transform="rotate(40 562.2 508.3)"/><ellipse cx="569.8" cy="518.9" rx="3.9" ry="3.2" fill="rgb(47,4,3)" transform="rotate(5 569.8 518.9)"/><ellipse cx="565.1" cy="533.9" rx="3.9" ry="3.3" fill="rgb(32,2,2)" transform="rotate(11 565.1 533.9)"/><ellipse cx="564.2" cy="546.6" rx="3.4" ry="2.7" fill="rgb(26,2,2)" transform="rotate(105 564.2 546.6)"/><ellipse cx="581.7" cy="463.3" rx="2.8" ry="2.3" fill="rgb(29,2,2)" transform="rotate(157 581.7 463.3)"/><ellipse cx="582.7" cy="479.9" rx="3.7" ry="3.0" fill="rgb(36,3,2)" transform="rotate(50 582.7 479.9)"/><ellipse cx="581.6" cy="494.1" rx="3.9" ry="2.9" fill="rgb(68,6,5)" transform="rotate(149 581.6 494.1)"/><ellipse cx="573.5" cy="520.1" rx="3.7" ry="3.1" fill="rgb(37,3,2)" transform="rotate(17 573.5 520.1)"/><ellipse cx="574.5" cy="545.7" rx="3.1" ry="2.4" fill="rgb(56,4,4)" transform="rotate(160 574.5 545.7)"/><ellipse cx="582.7" cy="556.9" rx="3.9" ry="3.3" fill="rgb(41,3,3)" transform="rotate(82 582.7 556.9)"/><ellipse cx="588.2" cy="484.5" rx="3.3" ry="2.3" fill="rgb(64,5,4)" transform="rotate(170 588.2 484.5)"/><ellipse cx="589.6" cy="508.5" rx="3.5" ry="2.8" fill="rgb(58,5,4)" transform="rotate(141 589.6 508.5)"/><ellipse cx="593.1" cy="531.4" rx="3.2" ry="2.6" fill="rgb(43,3,3)" transform="rotate(27 593.1 531.4)"/><ellipse cx="588.3" cy="543.9" rx="3.4" ry="2.7" fill="rgb(33,2,2)" transform="rotate(156 588.3 543.9)"/><ellipse cx="600.4" cy="463.8" rx="3.0" ry="2.0" fill="rgb(42,3,3)" transform="rotate(44 600.4 463.8)"/><ellipse cx="604.4" cy="482.6" rx="3.7" ry="3.0" fill="rgb(35,3,2)" transform="rotate(129 604.4 482.6)"/><ellipse cx="604.4" cy="489.4" rx="3.7" ry="3.0" fill="rgb(74,6,5)" transform="rotate(157 604.4 489.4)"/><ellipse cx="605.1" cy="502.0" rx="3.2" ry="2.8" fill="rgb(55,4,4)" transform="rotate(140 605.1 502.0)"/><ellipse cx="607.0" cy="522.6" rx="3.4" ry="3.2" fill="rgb(60,5,4)" transform="rotate(98 607.0 522.6)"/><ellipse cx="598.8" cy="528.6" rx="3.7" ry="3.4" fill="rgb(41,3,3)" transform="rotate(111 598.8 528.6)"/><ellipse cx="602.4" cy="546.6" rx="3.6" ry="2.7" fill="rgb(62,5,4)" transform="rotate(68 602.4 546.6)"/><ellipse cx="616.8" cy="466.1" rx="4.0" ry="3.1" fill="rgb(30,2,2)" transform="rotate(130 616.8 466.1)"/><ellipse cx="612.9" cy="474.8" rx="3.0" ry="2.7" fill="rgb(34,3,2)" transform="rotate(145 612.9 474.8)"/><ellipse cx="619.7" cy="488.1" rx="3.8" ry="2.5" fill="rgb(73,6,5)" transform="rotate(114 619.7 488.1)"/><ellipse cx="619.5" cy="521.3" rx="3.2" ry="2.4" fill="rgb(67,5,5)" transform="rotate(157 619.5 521.3)"/><ellipse cx="614.6" cy="531.0" rx="3.8" ry="3.1" fill="rgb(45,3,3)" transform="rotate(153 614.6 531.0)"/><ellipse cx="613.3" cy="543.3" rx="3.5" ry="3.2" fill="rgb(38,3,2)" transform="rotate(88 613.3 543.3)"/><ellipse cx="611.5" cy="553.1" rx="3.3" ry="2.6" fill="rgb(49,4,3)" transform="rotate(69 611.5 553.1)"/><ellipse cx="628.5" cy="468.2" rx="3.9" ry="2.8" fill="rgb(46,4,3)" transform="rotate(174 628.5 468.2)"/><ellipse cx="625.5" cy="477.1" rx="3.7" ry="2.9" fill="rgb(54,4,4)" transform="rotate(65 625.5 477.1)"/><ellipse cx="628.3" cy="491.1" rx="4.0" ry="3.1" fill="rgb(47,4,3)" transform="rotate(36 628.3 491.1)"/><ellipse cx="627.6" cy="505.6" rx="3.9" ry="3.4" fill="rgb(34,3,2)" transform="rotate(31 627.6 505.6)"/><ellipse cx="624.9" cy="538.3" rx="3.0" ry="2.4" fill="rgb(64,5,4)" transform="rotate(5 624.9 538.3)"/><ellipse cx="625.4" cy="557.7" rx="3.3" ry="2.6" fill="rgb(52,4,3)" transform="rotate(157 625.4 557.7)"/><ellipse cx="642.9" cy="467.8" rx="3.9" ry="3.3" fill="rgb(28,2,2)" transform="rotate(95 642.9 467.8)"/><ellipse cx="641.6" cy="478.7" rx="3.3" ry="2.4" fill="rgb(30,2,2)" transform="rotate(124 641.6 478.7)"/><ellipse cx="640.2" cy="488.1" rx="3.1" ry="2.2" fill="rgb(46,4,3)" transform="rotate(176 640.2 488.1)"/><ellipse cx="637.1" cy="534.3" rx="2.8" ry="2.1" fill="rgb(46,4,3)" transform="rotate(50 637.1 534.3)"/><ellipse cx="636.2" cy="538.9" rx="3.6" ry="2.4" fill="rgb(27,2,2)" transform="rotate(21 636.2 538.9)"/><ellipse cx="654.6" cy="480.5" rx="3.2" ry="2.5" fill="rgb(47,4,3)" transform="rotate(141 654.6 480.5)"/><ellipse cx="651.1" cy="492.7" rx="3.6" ry="3.3" fill="rgb(52,4,3)" transform="rotate(63 651.1 492.7)"/><ellipse cx="655.2" cy="513.5" rx="3.1" ry="2.6" fill="rgb(32,2,2)" transform="rotate(1 655.2 513.5)"/><ellipse cx="651.0" cy="533.6" rx="3.9" ry="3.1" fill="rgb(50,4,3)" transform="rotate(126 651.0 533.6)"/><ellipse cx="649.3" cy="542.2" rx="3.7" ry="2.8" fill="rgb(36,3,2)" transform="rotate(17 649.3 542.2)"/><ellipse cx="650.3" cy="554.7" rx="3.7" ry="2.4" fill="rgb(32,2,2)" transform="rotate(131 650.3 554.7)"/></g>
<path d="M637.3 552.6H649.0M637.3 551.8V553.4M649.0 551.8V553.4" stroke="#bbb" stroke-width="0.6" fill="none"/>
<text x="633.40" y="559.90" font-size="4.8" fill="#ddd" textLength="18.6" lengthAdjust="spacingAndGlyphs">20.17 μm</text>
<text x="162.40" y="575.18" font-size="10" text-anchor="middle">WT</text>
<text x="360.40" y="575.18" font-size="10" text-anchor="middle">NT</text>
<text x="559.00" y="575.18" font-size="10" text-anchor="middle">L1KD</text>
</svg>
</body></html>
